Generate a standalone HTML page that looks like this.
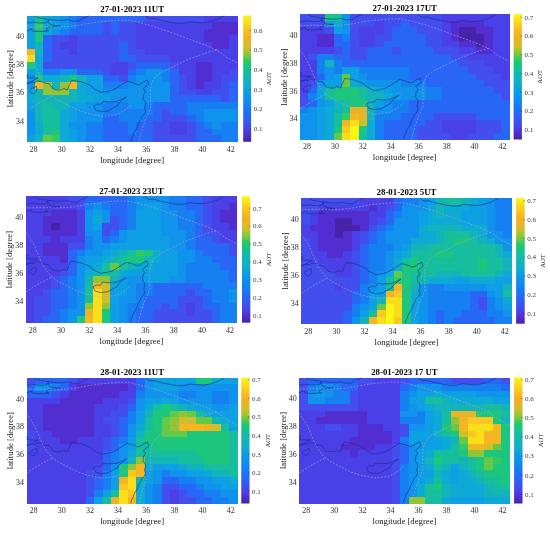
<!DOCTYPE html><html><head><meta charset="utf-8"><style>html,body{margin:0;padding:0;background:#fff;}svg{display:block}text{font-family:'Liberation Serif','Times New Roman',serif}</style></head><body>
<svg width="550" height="533" viewBox="0 0 550 533">
<rect width="550" height="533" fill="#fff"/>
<g shape-rendering="crispEdges">
<rect x="26.5" y="15.5" width="8.75" height="6.95" fill="#0da0e4"/>
<rect x="34.95" y="15.5" width="8.75" height="6.95" fill="#16be9e"/>
<rect x="43.4" y="15.5" width="8.75" height="6.95" fill="#0eaad6"/>
<rect x="51.86" y="15.5" width="8.75" height="6.95" fill="#0da0e4"/>
<rect x="60.31" y="15.5" width="8.75" height="6.95" fill="#0f93ec"/>
<rect x="68.76" y="15.5" width="8.75" height="6.95" fill="#1680f3"/>
<rect x="77.21" y="15.5" width="67.92" height="6.95" fill="#2866f6"/>
<rect x="144.83" y="15.5" width="59.46" height="6.95" fill="#424eee"/>
<rect x="203.99" y="15.5" width="34.11" height="6.95" fill="#4a40e8"/>
<rect x="26.5" y="22.15" width="8.75" height="6.95" fill="#0da0e4"/>
<rect x="34.95" y="22.15" width="8.75" height="6.95" fill="#32ca64"/>
<rect x="43.4" y="22.15" width="8.75" height="6.95" fill="#0eaad6"/>
<rect x="51.86" y="22.15" width="8.75" height="6.95" fill="#0da0e4"/>
<rect x="60.31" y="22.15" width="8.75" height="6.95" fill="#0f93ec"/>
<rect x="68.76" y="22.15" width="8.75" height="6.95" fill="#1680f3"/>
<rect x="77.21" y="22.15" width="25.66" height="6.95" fill="#2866f6"/>
<rect x="102.57" y="22.15" width="8.75" height="6.95" fill="#424eee"/>
<rect x="111.02" y="22.15" width="8.75" height="6.95" fill="#2866f6"/>
<rect x="119.47" y="22.15" width="17.2" height="6.95" fill="#424eee"/>
<rect x="136.38" y="22.15" width="76.37" height="6.95" fill="#4a40e8"/>
<rect x="212.44" y="22.15" width="25.66" height="6.95" fill="#522dd0"/>
<rect x="26.5" y="28.79" width="8.75" height="6.95" fill="#0da0e4"/>
<rect x="34.95" y="28.79" width="8.75" height="6.95" fill="#1cc67d"/>
<rect x="43.4" y="28.79" width="8.75" height="6.95" fill="#0eaad6"/>
<rect x="51.86" y="28.79" width="8.75" height="6.95" fill="#0f93ec"/>
<rect x="60.31" y="28.79" width="8.75" height="6.95" fill="#1680f3"/>
<rect x="68.76" y="28.79" width="34.11" height="6.95" fill="#2866f6"/>
<rect x="102.57" y="28.79" width="8.75" height="6.95" fill="#424eee"/>
<rect x="111.02" y="28.79" width="8.75" height="6.95" fill="#2866f6"/>
<rect x="119.47" y="28.79" width="17.2" height="6.95" fill="#424eee"/>
<rect x="136.38" y="28.79" width="67.92" height="6.95" fill="#4a40e8"/>
<rect x="203.99" y="28.79" width="34.11" height="6.95" fill="#522dd0"/>
<rect x="26.5" y="35.44" width="8.75" height="6.95" fill="#0da0e4"/>
<rect x="34.95" y="35.44" width="8.75" height="6.95" fill="#1cc67d"/>
<rect x="43.4" y="35.44" width="8.75" height="6.95" fill="#2866f6"/>
<rect x="51.86" y="35.44" width="17.2" height="6.95" fill="#424eee"/>
<rect x="68.76" y="35.44" width="8.75" height="6.95" fill="#4a40e8"/>
<rect x="77.21" y="35.44" width="59.46" height="6.95" fill="#424eee"/>
<rect x="136.38" y="35.44" width="67.92" height="6.95" fill="#4a40e8"/>
<rect x="203.99" y="35.44" width="25.66" height="6.95" fill="#522dd0"/>
<rect x="229.35" y="35.44" width="8.75" height="6.95" fill="#4a40e8"/>
<rect x="26.5" y="42.09" width="8.75" height="6.95" fill="#0da0e4"/>
<rect x="34.95" y="42.09" width="8.75" height="6.95" fill="#12b4b9"/>
<rect x="43.4" y="42.09" width="8.75" height="6.95" fill="#2866f6"/>
<rect x="51.86" y="42.09" width="8.75" height="6.95" fill="#424eee"/>
<rect x="60.31" y="42.09" width="17.2" height="6.95" fill="#4a40e8"/>
<rect x="77.21" y="42.09" width="42.56" height="6.95" fill="#424eee"/>
<rect x="119.47" y="42.09" width="8.75" height="6.95" fill="#2866f6"/>
<rect x="127.92" y="42.09" width="8.75" height="6.95" fill="#424eee"/>
<rect x="136.38" y="42.09" width="76.37" height="6.95" fill="#4a40e8"/>
<rect x="212.44" y="42.09" width="17.2" height="6.95" fill="#522dd0"/>
<rect x="229.35" y="42.09" width="8.75" height="6.95" fill="#4a40e8"/>
<rect x="26.5" y="48.74" width="8.75" height="6.95" fill="#f6b622"/>
<rect x="34.95" y="48.74" width="8.75" height="6.95" fill="#12b4b9"/>
<rect x="43.4" y="48.74" width="8.75" height="6.95" fill="#2866f6"/>
<rect x="51.86" y="48.74" width="17.2" height="6.95" fill="#424eee"/>
<rect x="68.76" y="48.74" width="8.75" height="6.95" fill="#4a40e8"/>
<rect x="77.21" y="48.74" width="42.56" height="6.95" fill="#424eee"/>
<rect x="119.47" y="48.74" width="8.75" height="6.95" fill="#2866f6"/>
<rect x="127.92" y="48.74" width="17.2" height="6.95" fill="#424eee"/>
<rect x="144.83" y="48.74" width="93.27" height="6.95" fill="#4a40e8"/>
<rect x="26.5" y="55.38" width="8.75" height="6.95" fill="#fade19"/>
<rect x="34.95" y="55.38" width="8.75" height="6.95" fill="#0eaad6"/>
<rect x="43.4" y="55.38" width="8.75" height="6.95" fill="#2866f6"/>
<rect x="51.86" y="55.38" width="67.92" height="6.95" fill="#424eee"/>
<rect x="119.47" y="55.38" width="17.2" height="6.95" fill="#2866f6"/>
<rect x="136.38" y="55.38" width="34.11" height="6.95" fill="#424eee"/>
<rect x="170.18" y="55.38" width="67.92" height="6.95" fill="#4a40e8"/>
<rect x="26.5" y="62.03" width="8.75" height="6.95" fill="#1cc67d"/>
<rect x="34.95" y="62.03" width="8.75" height="6.95" fill="#0eaad6"/>
<rect x="43.4" y="62.03" width="67.92" height="6.95" fill="#424eee"/>
<rect x="111.02" y="62.03" width="17.2" height="6.95" fill="#4a40e8"/>
<rect x="127.92" y="62.03" width="8.75" height="6.95" fill="#424eee"/>
<rect x="136.38" y="62.03" width="34.11" height="6.95" fill="#2866f6"/>
<rect x="170.18" y="62.03" width="8.75" height="6.95" fill="#424eee"/>
<rect x="178.64" y="62.03" width="17.2" height="6.95" fill="#4a40e8"/>
<rect x="195.54" y="62.03" width="17.2" height="6.95" fill="#522dd0"/>
<rect x="212.44" y="62.03" width="25.66" height="6.95" fill="#4a40e8"/>
<rect x="26.5" y="68.68" width="8.75" height="6.95" fill="#0da0e4"/>
<rect x="34.95" y="68.68" width="8.75" height="6.95" fill="#0eaad6"/>
<rect x="43.4" y="68.68" width="17.2" height="6.95" fill="#1680f3"/>
<rect x="60.31" y="68.68" width="17.2" height="6.95" fill="#0f93ec"/>
<rect x="77.21" y="68.68" width="25.66" height="6.95" fill="#2866f6"/>
<rect x="102.57" y="68.68" width="8.75" height="6.95" fill="#424eee"/>
<rect x="111.02" y="68.68" width="17.2" height="6.95" fill="#4a40e8"/>
<rect x="127.92" y="68.68" width="8.75" height="6.95" fill="#2866f6"/>
<rect x="136.38" y="68.68" width="8.75" height="6.95" fill="#1680f3"/>
<rect x="144.83" y="68.68" width="17.2" height="6.95" fill="#0f93ec"/>
<rect x="161.73" y="68.68" width="8.75" height="6.95" fill="#1680f3"/>
<rect x="170.18" y="68.68" width="8.75" height="6.95" fill="#2866f6"/>
<rect x="178.64" y="68.68" width="17.2" height="6.95" fill="#4a40e8"/>
<rect x="195.54" y="68.68" width="17.2" height="6.95" fill="#522dd0"/>
<rect x="212.44" y="68.68" width="17.2" height="6.95" fill="#4a40e8"/>
<rect x="229.35" y="68.68" width="8.75" height="6.95" fill="#424eee"/>
<rect x="26.5" y="75.33" width="8.75" height="6.95" fill="#0f93ec"/>
<rect x="34.95" y="75.33" width="8.75" height="6.95" fill="#1cc67d"/>
<rect x="43.4" y="75.33" width="17.2" height="6.95" fill="#0eaad6"/>
<rect x="60.31" y="75.33" width="8.75" height="6.95" fill="#12b4b9"/>
<rect x="68.76" y="75.33" width="8.75" height="6.95" fill="#1cc67d"/>
<rect x="77.21" y="75.33" width="8.75" height="6.95" fill="#12b4b9"/>
<rect x="85.66" y="75.33" width="17.2" height="6.95" fill="#0da0e4"/>
<rect x="102.57" y="75.33" width="17.2" height="6.95" fill="#2866f6"/>
<rect x="119.47" y="75.33" width="8.75" height="6.95" fill="#424eee"/>
<rect x="127.92" y="75.33" width="8.75" height="6.95" fill="#1680f3"/>
<rect x="136.38" y="75.33" width="25.66" height="6.95" fill="#0f93ec"/>
<rect x="161.73" y="75.33" width="8.75" height="6.95" fill="#1680f3"/>
<rect x="170.18" y="75.33" width="8.75" height="6.95" fill="#2866f6"/>
<rect x="178.64" y="75.33" width="8.75" height="6.95" fill="#424eee"/>
<rect x="187.09" y="75.33" width="8.75" height="6.95" fill="#4a40e8"/>
<rect x="195.54" y="75.33" width="17.2" height="6.95" fill="#522dd0"/>
<rect x="212.44" y="75.33" width="8.75" height="6.95" fill="#4a40e8"/>
<rect x="220.9" y="75.33" width="17.2" height="6.95" fill="#424eee"/>
<rect x="26.5" y="81.97" width="8.75" height="6.95" fill="#0f93ec"/>
<rect x="34.95" y="81.97" width="8.75" height="6.95" fill="#f6b622"/>
<rect x="43.4" y="81.97" width="8.75" height="6.95" fill="#92c536"/>
<rect x="51.86" y="81.97" width="8.75" height="6.95" fill="#12b4b9"/>
<rect x="60.31" y="81.97" width="8.75" height="6.95" fill="#92c536"/>
<rect x="68.76" y="81.97" width="8.75" height="6.95" fill="#f6b622"/>
<rect x="77.21" y="81.97" width="8.75" height="6.95" fill="#0eaad6"/>
<rect x="85.66" y="81.97" width="17.2" height="6.95" fill="#0da0e4"/>
<rect x="102.57" y="81.97" width="25.66" height="6.95" fill="#1680f3"/>
<rect x="127.92" y="81.97" width="42.56" height="6.95" fill="#0f93ec"/>
<rect x="170.18" y="81.97" width="8.75" height="6.95" fill="#2866f6"/>
<rect x="178.64" y="81.97" width="8.75" height="6.95" fill="#424eee"/>
<rect x="187.09" y="81.97" width="8.75" height="6.95" fill="#4a40e8"/>
<rect x="195.54" y="81.97" width="8.75" height="6.95" fill="#522dd0"/>
<rect x="203.99" y="81.97" width="17.2" height="6.95" fill="#4a40e8"/>
<rect x="220.9" y="81.97" width="8.75" height="6.95" fill="#424eee"/>
<rect x="229.35" y="81.97" width="8.75" height="6.95" fill="#2866f6"/>
<rect x="26.5" y="88.62" width="8.75" height="6.95" fill="#0eaad6"/>
<rect x="34.95" y="88.62" width="8.75" height="6.95" fill="#12b4b9"/>
<rect x="43.4" y="88.62" width="25.66" height="6.95" fill="#92c536"/>
<rect x="68.76" y="88.62" width="8.75" height="6.95" fill="#12b4b9"/>
<rect x="77.21" y="88.62" width="8.75" height="6.95" fill="#0eaad6"/>
<rect x="85.66" y="88.62" width="17.2" height="6.95" fill="#0da0e4"/>
<rect x="102.57" y="88.62" width="67.92" height="6.95" fill="#0f93ec"/>
<rect x="170.18" y="88.62" width="8.75" height="6.95" fill="#2866f6"/>
<rect x="178.64" y="88.62" width="17.2" height="6.95" fill="#424eee"/>
<rect x="195.54" y="88.62" width="17.2" height="6.95" fill="#4a40e8"/>
<rect x="212.44" y="88.62" width="17.2" height="6.95" fill="#424eee"/>
<rect x="229.35" y="88.62" width="8.75" height="6.95" fill="#2866f6"/>
<rect x="26.5" y="95.27" width="8.75" height="6.95" fill="#0eaad6"/>
<rect x="34.95" y="95.27" width="42.56" height="6.95" fill="#12b4b9"/>
<rect x="77.21" y="95.27" width="17.2" height="6.95" fill="#0eaad6"/>
<rect x="94.12" y="95.27" width="17.2" height="6.95" fill="#0da0e4"/>
<rect x="111.02" y="95.27" width="59.46" height="6.95" fill="#0f93ec"/>
<rect x="170.18" y="95.27" width="51.01" height="6.95" fill="#2866f6"/>
<rect x="220.9" y="95.27" width="8.75" height="6.95" fill="#424eee"/>
<rect x="229.35" y="95.27" width="8.75" height="6.95" fill="#2866f6"/>
<rect x="26.5" y="101.92" width="8.75" height="6.95" fill="#0da0e4"/>
<rect x="34.95" y="101.92" width="8.75" height="6.95" fill="#12b4b9"/>
<rect x="43.4" y="101.92" width="8.75" height="6.95" fill="#16be9e"/>
<rect x="51.86" y="101.92" width="17.2" height="6.95" fill="#12b4b9"/>
<rect x="68.76" y="101.92" width="17.2" height="6.95" fill="#0da0e4"/>
<rect x="85.66" y="101.92" width="17.2" height="6.95" fill="#0f93ec"/>
<rect x="102.57" y="101.92" width="25.66" height="6.95" fill="#1680f3"/>
<rect x="127.92" y="101.92" width="17.2" height="6.95" fill="#0f93ec"/>
<rect x="144.83" y="101.92" width="8.75" height="6.95" fill="#1680f3"/>
<rect x="153.28" y="101.92" width="34.11" height="6.95" fill="#2866f6"/>
<rect x="187.09" y="101.92" width="51.01" height="6.95" fill="#1680f3"/>
<rect x="26.5" y="108.56" width="8.75" height="6.95" fill="#0f93ec"/>
<rect x="34.95" y="108.56" width="8.75" height="6.95" fill="#12b4b9"/>
<rect x="43.4" y="108.56" width="17.2" height="6.95" fill="#16be9e"/>
<rect x="60.31" y="108.56" width="8.75" height="6.95" fill="#0eaad6"/>
<rect x="68.76" y="108.56" width="8.75" height="6.95" fill="#0da0e4"/>
<rect x="77.21" y="108.56" width="25.66" height="6.95" fill="#0f93ec"/>
<rect x="102.57" y="108.56" width="51.01" height="6.95" fill="#1680f3"/>
<rect x="153.28" y="108.56" width="8.75" height="6.95" fill="#2866f6"/>
<rect x="161.73" y="108.56" width="8.75" height="6.95" fill="#424eee"/>
<rect x="170.18" y="108.56" width="17.2" height="6.95" fill="#2866f6"/>
<rect x="187.09" y="108.56" width="17.2" height="6.95" fill="#1680f3"/>
<rect x="203.99" y="108.56" width="34.11" height="6.95" fill="#0f93ec"/>
<rect x="26.5" y="115.21" width="8.75" height="6.95" fill="#0f93ec"/>
<rect x="34.95" y="115.21" width="8.75" height="6.95" fill="#12b4b9"/>
<rect x="43.4" y="115.21" width="17.2" height="6.95" fill="#16be9e"/>
<rect x="60.31" y="115.21" width="8.75" height="6.95" fill="#0eaad6"/>
<rect x="68.76" y="115.21" width="8.75" height="6.95" fill="#0da0e4"/>
<rect x="77.21" y="115.21" width="25.66" height="6.95" fill="#0f93ec"/>
<rect x="102.57" y="115.21" width="17.2" height="6.95" fill="#2866f6"/>
<rect x="119.47" y="115.21" width="25.66" height="6.95" fill="#1680f3"/>
<rect x="144.83" y="115.21" width="17.2" height="6.95" fill="#2866f6"/>
<rect x="161.73" y="115.21" width="25.66" height="6.95" fill="#424eee"/>
<rect x="187.09" y="115.21" width="8.75" height="6.95" fill="#2866f6"/>
<rect x="195.54" y="115.21" width="8.75" height="6.95" fill="#1680f3"/>
<rect x="203.99" y="115.21" width="34.11" height="6.95" fill="#0f93ec"/>
<rect x="26.5" y="121.86" width="8.75" height="6.95" fill="#0f93ec"/>
<rect x="34.95" y="121.86" width="8.75" height="6.95" fill="#0eaad6"/>
<rect x="43.4" y="121.86" width="17.2" height="6.95" fill="#16be9e"/>
<rect x="60.31" y="121.86" width="8.75" height="6.95" fill="#0eaad6"/>
<rect x="68.76" y="121.86" width="17.2" height="6.95" fill="#0f93ec"/>
<rect x="85.66" y="121.86" width="17.2" height="6.95" fill="#1680f3"/>
<rect x="102.57" y="121.86" width="25.66" height="6.95" fill="#2866f6"/>
<rect x="127.92" y="121.86" width="8.75" height="6.95" fill="#1680f3"/>
<rect x="136.38" y="121.86" width="17.2" height="6.95" fill="#2866f6"/>
<rect x="153.28" y="121.86" width="17.2" height="6.95" fill="#424eee"/>
<rect x="170.18" y="121.86" width="17.2" height="6.95" fill="#4a40e8"/>
<rect x="187.09" y="121.86" width="8.75" height="6.95" fill="#424eee"/>
<rect x="195.54" y="121.86" width="8.75" height="6.95" fill="#2866f6"/>
<rect x="203.99" y="121.86" width="8.75" height="6.95" fill="#1680f3"/>
<rect x="212.44" y="121.86" width="8.75" height="6.95" fill="#0f93ec"/>
<rect x="220.9" y="121.86" width="17.2" height="6.95" fill="#1680f3"/>
<rect x="26.5" y="128.51" width="8.75" height="6.95" fill="#0f93ec"/>
<rect x="34.95" y="128.51" width="8.75" height="6.95" fill="#0eaad6"/>
<rect x="43.4" y="128.51" width="8.75" height="6.95" fill="#16be9e"/>
<rect x="51.86" y="128.51" width="8.75" height="6.95" fill="#1cc67d"/>
<rect x="60.31" y="128.51" width="8.75" height="6.95" fill="#0eaad6"/>
<rect x="68.76" y="128.51" width="8.75" height="6.95" fill="#0da0e4"/>
<rect x="77.21" y="128.51" width="8.75" height="6.95" fill="#0f93ec"/>
<rect x="85.66" y="128.51" width="17.2" height="6.95" fill="#1680f3"/>
<rect x="102.57" y="128.51" width="25.66" height="6.95" fill="#2866f6"/>
<rect x="127.92" y="128.51" width="8.75" height="6.95" fill="#1680f3"/>
<rect x="136.38" y="128.51" width="17.2" height="6.95" fill="#2866f6"/>
<rect x="153.28" y="128.51" width="17.2" height="6.95" fill="#424eee"/>
<rect x="170.18" y="128.51" width="17.2" height="6.95" fill="#4a40e8"/>
<rect x="187.09" y="128.51" width="8.75" height="6.95" fill="#424eee"/>
<rect x="195.54" y="128.51" width="17.2" height="6.95" fill="#2866f6"/>
<rect x="212.44" y="128.51" width="25.66" height="6.95" fill="#1680f3"/>
<rect x="26.5" y="135.15" width="8.75" height="6.95" fill="#0da0e4"/>
<rect x="34.95" y="135.15" width="8.75" height="6.95" fill="#12b4b9"/>
<rect x="43.4" y="135.15" width="8.75" height="6.95" fill="#64ca46"/>
<rect x="51.86" y="135.15" width="8.75" height="6.95" fill="#32ca64"/>
<rect x="60.31" y="135.15" width="8.75" height="6.95" fill="#0eaad6"/>
<rect x="68.76" y="135.15" width="8.75" height="6.95" fill="#0da0e4"/>
<rect x="77.21" y="135.15" width="8.75" height="6.95" fill="#0f93ec"/>
<rect x="85.66" y="135.15" width="17.2" height="6.95" fill="#1680f3"/>
<rect x="102.57" y="135.15" width="51.01" height="6.95" fill="#2866f6"/>
<rect x="153.28" y="135.15" width="42.56" height="6.95" fill="#424eee"/>
<rect x="195.54" y="135.15" width="25.66" height="6.95" fill="#2866f6"/>
<rect x="220.9" y="135.15" width="17.2" height="6.95" fill="#1680f3"/>
</g>
<defs><clipPath id="c0"><rect x="26.5" y="15.5" width="211.3" height="126.3"/></clipPath></defs>
<g clip-path="url(#c0)" fill="none">
<polyline points="145.5,15.5 147.6,17.6 150.9,18.6 154.7,18.3 158.9,19.7 164.5,21.1 168.8,21.8 173.0,22.7 178.6,23.5 184.3,23.2 189.9,21.8 198.4,22.5 204.0,22.8 209.6,21.8 216.7,19.7 220.9,17.6 224.4,15.5" stroke="#1c2a80" stroke-width="0.8" stroke-opacity="0.75"/>
<polyline points="34.2,15.5 37.8,17.6 43.4,18.6 48.3,19.4 51.9,19.7 56.1,20.4 63.1,20.4 67.4,19.7 73.0,21.1 78.6,21.1 82.8,18.3 87.1,16.6 89.2,15.5" stroke="#1c2a80" stroke-width="0.8" stroke-opacity="0.75"/>
<polyline points="26.5,22.9 30.7,22.8 33.5,22.2 37.8,22.8 42.0,22.9 46.2,22.7 47.6,21.8 48.3,19.4" stroke="#1c2a80" stroke-width="0.8" stroke-opacity="0.75"/>
<polyline points="49.0,19.7 48.3,22.5 50.4,24.2 53.3,25.3 60.3,25.9 54.7,26.7 47.6,27.4 46.2,30.2 49.0,30.9 42.0,31.4 33.5,31.2 31.4,30.2 32.1,28.8 29.3,29.5 26.5,30.9" stroke="#1c2a80" stroke-width="0.8" stroke-opacity="0.75"/>
<polyline points="26.5,75.1 28.2,74.4 26.5,77.0 29.3,77.9 33.5,77.9 37.8,78.2 35.0,79.4 32.1,81.5 27.9,82.9 26.5,83.1" stroke="#1c2a80" stroke-width="0.8" stroke-opacity="0.75"/>
<polyline points="26.5,83.6 32.1,82.2 35.0,82.6 37.3,80.8 40.6,81.5 44.8,83.1 49.0,83.6 53.3,89.0 56.8,89.9 61.4,89.9 63.8,88.5 67.4,89.9 69.7,84.3 71.6,80.3 75.8,80.8 81.4,81.9 89.9,85.1 94.1,88.9 101.2,92.4 108.2,91.3 112.4,90.2 116.4,88.2 122.3,84.3 126.9,81.5 130.7,82.2 135.0,83.6 137.5,84.8 140.6,84.3 143.4,81.9 147.6,80.1 148.6,84.3 144.8,87.1 143.4,88.5 145.5,91.6 143.4,94.8 143.1,99.4 145.1,101.7 145.5,104.2 144.5,108.1 145.5,111.6 144.0,114.6 141.3,117.2 141.2,119.1 139.2,122.2 137.4,126.9 135.0,131.0 133.6,133.4 133.1,135.9 132.0,137.3 131.0,140.4 130.7,141.8" stroke="#1c2a80" stroke-width="0.8" stroke-opacity="0.75"/>
<polyline points="93.7,106.0 95.8,110.2 101.2,111.6 104.5,111.3 108.2,110.9 112.9,108.1 117.4,106.0 118.1,103.9 123.0,99.7 126.4,97.0 120.9,99.7 116.7,101.4 111.0,101.8 108.5,101.9 103.3,101.2 101.2,104.3 96.9,104.2 93.7,106.0" stroke="#1c2a80" stroke-width="0.8" stroke-opacity="0.75"/>
<polyline points="31.4,88.5 36.4,86.4 37.1,89.9 33.5,94.1 29.3,91.3 31.4,88.5" stroke="#1c2a80" stroke-width="0.8" stroke-opacity="0.75"/>
<polyline points="26.5,27.0 40.6,26.7 54.7,27.0 67.4,26.7 77.2,25.6 87.1,23.6 98.3,22.0 109.6,20.8 119.5,20.1 127.9,20.1 136.4,21.8 151.9,25.9 171.6,32.6 189.9,39.4 205.4,45.0 212.4,48.2 216.7,49.9 226.0,57.0 237.8,63.2" stroke="#b4a8c4" stroke-width="0.85" stroke-dasharray="1.8 1.6" stroke-opacity="0.75"/>
<polyline points="216.7,49.9 206.8,52.7 199.8,55.1 185.7,60.4 170.2,68.1 160.3,73.0 154.7,77.2 151.9,82.9 150.5,88.5 150.5,99.7 150.5,108.8 146.2,117.9 142.7,127.8 139.9,137.6 139.2,141.8" stroke="#b4a8c4" stroke-width="0.85" stroke-dasharray="1.8 1.6" stroke-opacity="0.75"/>
<polyline points="26.5,51.3 30.7,57.6 35.0,64.6 38.5,73.0 42.0,81.5 46.2,88.5 51.9,95.5 58.9,100.4 65.9,104.1 78.1,110.1 87.5,113.3 102.0,116.3 116.7,114.7 125.5,109.7 130.7,105.3" stroke="#b4a8c4" stroke-width="0.85" stroke-dasharray="1.8 1.6" stroke-opacity="0.75"/>
<polyline points="26.5,110.9 37.8,103.9 51.9,96.2" stroke="#b4a8c4" stroke-width="0.85" stroke-dasharray="1.8 1.6" stroke-opacity="0.75"/>
</g>
<defs><linearGradient id="g0" x1="0" y1="1" x2="0" y2="0">
<stop offset="0" stop-color="#4623aa"/>
<stop offset="0.02" stop-color="#4a26b6"/>
<stop offset="0.03" stop-color="#4e29c2"/>
<stop offset="0.05" stop-color="#512cce"/>
<stop offset="0.06" stop-color="#5032d6"/>
<stop offset="0.08" stop-color="#4e38de"/>
<stop offset="0.09" stop-color="#4b3ee5"/>
<stop offset="0.11" stop-color="#4744ea"/>
<stop offset="0.12" stop-color="#424aed"/>
<stop offset="0.14" stop-color="#3d51f0"/>
<stop offset="0.16" stop-color="#3857f2"/>
<stop offset="0.17" stop-color="#325cf4"/>
<stop offset="0.19" stop-color="#2d62f5"/>
<stop offset="0.2" stop-color="#2767f6"/>
<stop offset="0.22" stop-color="#226cf7"/>
<stop offset="0.23" stop-color="#1d71f8"/>
<stop offset="0.25" stop-color="#1a77f6"/>
<stop offset="0.27" stop-color="#167cf4"/>
<stop offset="0.28" stop-color="#1381f2"/>
<stop offset="0.3" stop-color="#1086f0"/>
<stop offset="0.31" stop-color="#0e8aee"/>
<stop offset="0.33" stop-color="#0d8eec"/>
<stop offset="0.34" stop-color="#0c92eb"/>
<stop offset="0.36" stop-color="#0b96e9"/>
<stop offset="0.38" stop-color="#0a9ae7"/>
<stop offset="0.39" stop-color="#0b9ee1"/>
<stop offset="0.41" stop-color="#0ca2db"/>
<stop offset="0.42" stop-color="#0da7d4"/>
<stop offset="0.44" stop-color="#0eabcd"/>
<stop offset="0.45" stop-color="#0fafc7"/>
<stop offset="0.47" stop-color="#10b1c2"/>
<stop offset="0.48" stop-color="#11b3bd"/>
<stop offset="0.5" stop-color="#12b5b8"/>
<stop offset="0.52" stop-color="#13b7b3"/>
<stop offset="0.53" stop-color="#14b9ae"/>
<stop offset="0.55" stop-color="#14bca3"/>
<stop offset="0.56" stop-color="#14c098"/>
<stop offset="0.58" stop-color="#14c38d"/>
<stop offset="0.59" stop-color="#17c484"/>
<stop offset="0.61" stop-color="#1ac67a"/>
<stop offset="0.62" stop-color="#1dc871"/>
<stop offset="0.64" stop-color="#31c863"/>
<stop offset="0.66" stop-color="#4dc854"/>
<stop offset="0.67" stop-color="#69c844"/>
<stop offset="0.69" stop-color="#82c73a"/>
<stop offset="0.7" stop-color="#96c535"/>
<stop offset="0.72" stop-color="#aac231"/>
<stop offset="0.73" stop-color="#bec02c"/>
<stop offset="0.75" stop-color="#d2be28"/>
<stop offset="0.77" stop-color="#d9bb27"/>
<stop offset="0.78" stop-color="#e0b826"/>
<stop offset="0.8" stop-color="#e7b525"/>
<stop offset="0.81" stop-color="#edb224"/>
<stop offset="0.83" stop-color="#f4af23"/>
<stop offset="0.84" stop-color="#f6b422"/>
<stop offset="0.86" stop-color="#f7b921"/>
<stop offset="0.88" stop-color="#f8bf20"/>
<stop offset="0.89" stop-color="#f9c51f"/>
<stop offset="0.91" stop-color="#facb1d"/>
<stop offset="0.92" stop-color="#fad21c"/>
<stop offset="0.94" stop-color="#fad91a"/>
<stop offset="0.95" stop-color="#fae019"/>
<stop offset="0.97" stop-color="#fae717"/>
<stop offset="0.98" stop-color="#faee16"/>
<stop offset="1" stop-color="#faf514"/>
</linearGradient></defs>
<rect x="243.2" y="15.5" width="7.9" height="126.3" fill="url(#g0)"/>
<line x1="249.8" x2="251.1" y1="128.8" y2="128.8" stroke="#262626" stroke-width="0.5"/>
<text x="253.7" y="129.1" font-size="7" fill="#3a3a3a" dominant-baseline="central">0.1</text>
<line x1="249.8" x2="251.1" y1="109.09" y2="109.09" stroke="#262626" stroke-width="0.5"/>
<text x="253.7" y="109.39" font-size="7" fill="#3a3a3a" dominant-baseline="central">0.2</text>
<line x1="249.8" x2="251.1" y1="89.39" y2="89.39" stroke="#262626" stroke-width="0.5"/>
<text x="253.7" y="89.69" font-size="7" fill="#3a3a3a" dominant-baseline="central">0.3</text>
<line x1="249.8" x2="251.1" y1="69.68" y2="69.68" stroke="#262626" stroke-width="0.5"/>
<text x="253.7" y="69.98" font-size="7" fill="#3a3a3a" dominant-baseline="central">0.4</text>
<line x1="249.8" x2="251.1" y1="49.98" y2="49.98" stroke="#262626" stroke-width="0.5"/>
<text x="253.7" y="50.28" font-size="7" fill="#3a3a3a" dominant-baseline="central">0.5</text>
<line x1="249.8" x2="251.1" y1="30.28" y2="30.28" stroke="#262626" stroke-width="0.5"/>
<text x="253.7" y="30.58" font-size="7" fill="#3a3a3a" dominant-baseline="central">0.6</text>
<text transform="translate(271.3 78.65) rotate(-90)" font-size="6.6" fill="#262626" text-anchor="middle">AOT</text>
<text x="132.15" y="12.4" font-size="8.8" font-weight="bold" text-anchor="middle" fill="#000">27-01-2023 11UT</text>
<text x="33.54" y="151.6" font-size="8" fill="#303030" text-anchor="middle">28</text>
<text x="61.72" y="151.6" font-size="8" fill="#303030" text-anchor="middle">30</text>
<text x="89.89" y="151.6" font-size="8" fill="#303030" text-anchor="middle">32</text>
<text x="118.06" y="151.6" font-size="8" fill="#303030" text-anchor="middle">34</text>
<text x="146.24" y="151.6" font-size="8" fill="#303030" text-anchor="middle">36</text>
<text x="174.41" y="151.6" font-size="8" fill="#303030" text-anchor="middle">38</text>
<text x="202.58" y="151.6" font-size="8" fill="#303030" text-anchor="middle">40</text>
<text x="230.76" y="151.6" font-size="8" fill="#303030" text-anchor="middle">42</text>
<text x="132.15" y="162.7" font-size="8.7" fill="#202020" text-anchor="middle">longitude [degree]</text>
<text x="24" y="121.05" font-size="8" fill="#303030" text-anchor="end" dominant-baseline="central">34</text>
<text x="24" y="92.98" font-size="8" fill="#303030" text-anchor="end" dominant-baseline="central">36</text>
<text x="24" y="64.92" font-size="8" fill="#303030" text-anchor="end" dominant-baseline="central">38</text>
<text x="24" y="36.85" font-size="8" fill="#303030" text-anchor="end" dominant-baseline="central">40</text>
<text transform="translate(13 78.65) rotate(-90)" font-size="8.7" fill="#202020" text-anchor="middle">latitude [degree]</text>
<g shape-rendering="crispEdges">
<rect x="300" y="14.2" width="25.44" height="6.89" fill="#424eee"/>
<rect x="325.14" y="14.2" width="8.68" height="6.89" fill="#1cc67d"/>
<rect x="333.52" y="14.2" width="8.68" height="6.89" fill="#16be9e"/>
<rect x="341.9" y="14.2" width="8.68" height="6.89" fill="#0f93ec"/>
<rect x="350.28" y="14.2" width="92.48" height="6.89" fill="#424eee"/>
<rect x="442.46" y="14.2" width="67.34" height="6.89" fill="#4a40e8"/>
<rect x="300" y="20.79" width="25.44" height="6.89" fill="#424eee"/>
<rect x="325.14" y="20.79" width="8.68" height="6.89" fill="#0da0e4"/>
<rect x="333.52" y="20.79" width="8.68" height="6.89" fill="#0eaad6"/>
<rect x="341.9" y="20.79" width="8.68" height="6.89" fill="#0f93ec"/>
<rect x="350.28" y="20.79" width="25.44" height="6.89" fill="#424eee"/>
<rect x="375.42" y="20.79" width="8.68" height="6.89" fill="#4a40e8"/>
<rect x="383.8" y="20.79" width="17.06" height="6.89" fill="#424eee"/>
<rect x="400.56" y="20.79" width="8.68" height="6.89" fill="#2866f6"/>
<rect x="408.94" y="20.79" width="33.82" height="6.89" fill="#424eee"/>
<rect x="442.46" y="20.79" width="8.68" height="6.89" fill="#4a40e8"/>
<rect x="450.84" y="20.79" width="33.82" height="6.89" fill="#522dd0"/>
<rect x="484.36" y="20.79" width="25.44" height="6.89" fill="#4a40e8"/>
<rect x="300" y="27.39" width="25.44" height="6.89" fill="#4a40e8"/>
<rect x="325.14" y="27.39" width="8.68" height="6.89" fill="#424eee"/>
<rect x="333.52" y="27.39" width="8.68" height="6.89" fill="#0da0e4"/>
<rect x="341.9" y="27.39" width="8.68" height="6.89" fill="#0f93ec"/>
<rect x="350.28" y="27.39" width="8.68" height="6.89" fill="#424eee"/>
<rect x="358.66" y="27.39" width="25.44" height="6.89" fill="#4a40e8"/>
<rect x="383.8" y="27.39" width="8.68" height="6.89" fill="#424eee"/>
<rect x="392.18" y="27.39" width="25.44" height="6.89" fill="#2866f6"/>
<rect x="417.32" y="27.39" width="25.44" height="6.89" fill="#424eee"/>
<rect x="442.46" y="27.39" width="8.68" height="6.89" fill="#4a40e8"/>
<rect x="450.84" y="27.39" width="8.68" height="6.89" fill="#522dd0"/>
<rect x="459.22" y="27.39" width="17.06" height="6.89" fill="#4623aa"/>
<rect x="475.98" y="27.39" width="17.06" height="6.89" fill="#522dd0"/>
<rect x="492.74" y="27.39" width="17.06" height="6.89" fill="#4a40e8"/>
<rect x="300" y="33.98" width="17.06" height="6.89" fill="#4a40e8"/>
<rect x="316.76" y="33.98" width="17.06" height="6.89" fill="#522dd0"/>
<rect x="333.52" y="33.98" width="8.68" height="6.89" fill="#2866f6"/>
<rect x="341.9" y="33.98" width="8.68" height="6.89" fill="#1680f3"/>
<rect x="350.28" y="33.98" width="8.68" height="6.89" fill="#424eee"/>
<rect x="358.66" y="33.98" width="17.06" height="6.89" fill="#4a40e8"/>
<rect x="375.42" y="33.98" width="17.06" height="6.89" fill="#424eee"/>
<rect x="392.18" y="33.98" width="33.82" height="6.89" fill="#2866f6"/>
<rect x="425.7" y="33.98" width="17.06" height="6.89" fill="#424eee"/>
<rect x="442.46" y="33.98" width="8.68" height="6.89" fill="#4a40e8"/>
<rect x="450.84" y="33.98" width="8.68" height="6.89" fill="#522dd0"/>
<rect x="459.22" y="33.98" width="25.44" height="6.89" fill="#4623aa"/>
<rect x="484.36" y="33.98" width="8.68" height="6.89" fill="#522dd0"/>
<rect x="492.74" y="33.98" width="17.06" height="6.89" fill="#4a40e8"/>
<rect x="300" y="40.58" width="17.06" height="6.89" fill="#4a40e8"/>
<rect x="316.76" y="40.58" width="17.06" height="6.89" fill="#522dd0"/>
<rect x="333.52" y="40.58" width="17.06" height="6.89" fill="#2866f6"/>
<rect x="350.28" y="40.58" width="8.68" height="6.89" fill="#424eee"/>
<rect x="358.66" y="40.58" width="17.06" height="6.89" fill="#4a40e8"/>
<rect x="375.42" y="40.58" width="8.68" height="6.89" fill="#424eee"/>
<rect x="383.8" y="40.58" width="42.2" height="6.89" fill="#2866f6"/>
<rect x="425.7" y="40.58" width="17.06" height="6.89" fill="#424eee"/>
<rect x="442.46" y="40.58" width="17.06" height="6.89" fill="#4a40e8"/>
<rect x="459.22" y="40.58" width="17.06" height="6.89" fill="#522dd0"/>
<rect x="475.98" y="40.58" width="8.68" height="6.89" fill="#4623aa"/>
<rect x="484.36" y="40.58" width="8.68" height="6.89" fill="#522dd0"/>
<rect x="492.74" y="40.58" width="17.06" height="6.89" fill="#4a40e8"/>
<rect x="300" y="47.17" width="33.82" height="6.89" fill="#4a40e8"/>
<rect x="333.52" y="47.17" width="8.68" height="6.89" fill="#424eee"/>
<rect x="341.9" y="47.17" width="8.68" height="6.89" fill="#2866f6"/>
<rect x="350.28" y="47.17" width="17.06" height="6.89" fill="#424eee"/>
<rect x="367.04" y="47.17" width="25.44" height="6.89" fill="#2866f6"/>
<rect x="392.18" y="47.17" width="8.68" height="6.89" fill="#424eee"/>
<rect x="400.56" y="47.17" width="33.82" height="6.89" fill="#2866f6"/>
<rect x="434.08" y="47.17" width="25.44" height="6.89" fill="#424eee"/>
<rect x="459.22" y="47.17" width="17.06" height="6.89" fill="#4a40e8"/>
<rect x="475.98" y="47.17" width="17.06" height="6.89" fill="#522dd0"/>
<rect x="492.74" y="47.17" width="17.06" height="6.89" fill="#4a40e8"/>
<rect x="300" y="53.77" width="8.68" height="6.89" fill="#4a40e8"/>
<rect x="308.38" y="53.77" width="8.68" height="6.89" fill="#424eee"/>
<rect x="316.76" y="53.77" width="17.06" height="6.89" fill="#1680f3"/>
<rect x="333.52" y="53.77" width="17.06" height="6.89" fill="#2866f6"/>
<rect x="350.28" y="53.77" width="17.06" height="6.89" fill="#424eee"/>
<rect x="367.04" y="53.77" width="84.1" height="6.89" fill="#2866f6"/>
<rect x="450.84" y="53.77" width="17.06" height="6.89" fill="#424eee"/>
<rect x="467.6" y="53.77" width="42.2" height="6.89" fill="#4a40e8"/>
<rect x="300" y="60.36" width="17.06" height="6.89" fill="#4a40e8"/>
<rect x="316.76" y="60.36" width="8.68" height="6.89" fill="#1680f3"/>
<rect x="325.14" y="60.36" width="8.68" height="6.89" fill="#12b4b9"/>
<rect x="333.52" y="60.36" width="8.68" height="6.89" fill="#1680f3"/>
<rect x="341.9" y="60.36" width="117.62" height="6.89" fill="#2866f6"/>
<rect x="459.22" y="60.36" width="25.44" height="6.89" fill="#424eee"/>
<rect x="484.36" y="60.36" width="25.44" height="6.89" fill="#4a40e8"/>
<rect x="300" y="66.96" width="17.06" height="6.89" fill="#4a40e8"/>
<rect x="316.76" y="66.96" width="8.68" height="6.89" fill="#1680f3"/>
<rect x="325.14" y="66.96" width="8.68" height="6.89" fill="#0f93ec"/>
<rect x="333.52" y="66.96" width="8.68" height="6.89" fill="#1680f3"/>
<rect x="341.9" y="66.96" width="17.06" height="6.89" fill="#0da0e4"/>
<rect x="358.66" y="66.96" width="50.58" height="6.89" fill="#1680f3"/>
<rect x="408.94" y="66.96" width="58.96" height="6.89" fill="#2866f6"/>
<rect x="467.6" y="66.96" width="25.44" height="6.89" fill="#424eee"/>
<rect x="492.74" y="66.96" width="17.06" height="6.89" fill="#4a40e8"/>
<rect x="300" y="73.55" width="17.06" height="6.89" fill="#4a40e8"/>
<rect x="316.76" y="73.55" width="8.68" height="6.89" fill="#2866f6"/>
<rect x="325.14" y="73.55" width="8.68" height="6.89" fill="#0f93ec"/>
<rect x="333.52" y="73.55" width="8.68" height="6.89" fill="#0da0e4"/>
<rect x="341.9" y="73.55" width="8.68" height="6.89" fill="#64ca46"/>
<rect x="350.28" y="73.55" width="8.68" height="6.89" fill="#0da0e4"/>
<rect x="358.66" y="73.55" width="8.68" height="6.89" fill="#0f93ec"/>
<rect x="367.04" y="73.55" width="42.2" height="6.89" fill="#1680f3"/>
<rect x="408.94" y="73.55" width="67.34" height="6.89" fill="#2866f6"/>
<rect x="475.98" y="73.55" width="25.44" height="6.89" fill="#424eee"/>
<rect x="501.12" y="73.55" width="8.68" height="6.89" fill="#4a40e8"/>
<rect x="300" y="80.15" width="8.68" height="6.89" fill="#4a40e8"/>
<rect x="308.38" y="80.15" width="8.68" height="6.89" fill="#424eee"/>
<rect x="316.76" y="80.15" width="8.68" height="6.89" fill="#0f93ec"/>
<rect x="325.14" y="80.15" width="17.06" height="6.89" fill="#0da0e4"/>
<rect x="341.9" y="80.15" width="8.68" height="6.89" fill="#64ca46"/>
<rect x="350.28" y="80.15" width="8.68" height="6.89" fill="#0eaad6"/>
<rect x="358.66" y="80.15" width="8.68" height="6.89" fill="#0da0e4"/>
<rect x="367.04" y="80.15" width="33.82" height="6.89" fill="#0f93ec"/>
<rect x="400.56" y="80.15" width="25.44" height="6.89" fill="#1680f3"/>
<rect x="425.7" y="80.15" width="58.96" height="6.89" fill="#2866f6"/>
<rect x="484.36" y="80.15" width="25.44" height="6.89" fill="#424eee"/>
<rect x="300" y="86.74" width="8.68" height="6.89" fill="#4a40e8"/>
<rect x="308.38" y="86.74" width="8.68" height="6.89" fill="#2866f6"/>
<rect x="316.76" y="86.74" width="8.68" height="6.89" fill="#0da0e4"/>
<rect x="325.14" y="86.74" width="8.68" height="6.89" fill="#16be9e"/>
<rect x="333.52" y="86.74" width="25.44" height="6.89" fill="#1cc67d"/>
<rect x="358.66" y="86.74" width="8.68" height="6.89" fill="#16be9e"/>
<rect x="367.04" y="86.74" width="8.68" height="6.89" fill="#12b4b9"/>
<rect x="375.42" y="86.74" width="8.68" height="6.89" fill="#0eaad6"/>
<rect x="383.8" y="86.74" width="8.68" height="6.89" fill="#0da0e4"/>
<rect x="392.18" y="86.74" width="33.82" height="6.89" fill="#0f93ec"/>
<rect x="425.7" y="86.74" width="17.06" height="6.89" fill="#1680f3"/>
<rect x="442.46" y="86.74" width="50.58" height="6.89" fill="#2866f6"/>
<rect x="492.74" y="86.74" width="17.06" height="6.89" fill="#424eee"/>
<rect x="300" y="93.34" width="8.68" height="6.89" fill="#424eee"/>
<rect x="308.38" y="93.34" width="8.68" height="6.89" fill="#1680f3"/>
<rect x="316.76" y="93.34" width="8.68" height="6.89" fill="#0da0e4"/>
<rect x="325.14" y="93.34" width="8.68" height="6.89" fill="#16be9e"/>
<rect x="333.52" y="93.34" width="25.44" height="6.89" fill="#1cc67d"/>
<rect x="358.66" y="93.34" width="8.68" height="6.89" fill="#16be9e"/>
<rect x="367.04" y="93.34" width="17.06" height="6.89" fill="#12b4b9"/>
<rect x="383.8" y="93.34" width="8.68" height="6.89" fill="#0eaad6"/>
<rect x="392.18" y="93.34" width="8.68" height="6.89" fill="#0da0e4"/>
<rect x="400.56" y="93.34" width="25.44" height="6.89" fill="#0f93ec"/>
<rect x="425.7" y="93.34" width="17.06" height="6.89" fill="#1680f3"/>
<rect x="442.46" y="93.34" width="58.96" height="6.89" fill="#2866f6"/>
<rect x="501.12" y="93.34" width="8.68" height="6.89" fill="#424eee"/>
<rect x="300" y="99.93" width="8.68" height="6.89" fill="#424eee"/>
<rect x="308.38" y="99.93" width="8.68" height="6.89" fill="#2866f6"/>
<rect x="316.76" y="99.93" width="8.68" height="6.89" fill="#0f93ec"/>
<rect x="325.14" y="99.93" width="8.68" height="6.89" fill="#0da0e4"/>
<rect x="333.52" y="99.93" width="8.68" height="6.89" fill="#12b4b9"/>
<rect x="341.9" y="99.93" width="8.68" height="6.89" fill="#16be9e"/>
<rect x="350.28" y="99.93" width="17.06" height="6.89" fill="#1cc67d"/>
<rect x="367.04" y="99.93" width="8.68" height="6.89" fill="#12b4b9"/>
<rect x="375.42" y="99.93" width="8.68" height="6.89" fill="#0da0e4"/>
<rect x="383.8" y="99.93" width="8.68" height="6.89" fill="#0f93ec"/>
<rect x="392.18" y="99.93" width="17.06" height="6.89" fill="#1680f3"/>
<rect x="408.94" y="99.93" width="100.86" height="6.89" fill="#2866f6"/>
<rect x="300" y="106.53" width="8.68" height="6.89" fill="#1680f3"/>
<rect x="308.38" y="106.53" width="8.68" height="6.89" fill="#0f93ec"/>
<rect x="316.76" y="106.53" width="8.68" height="6.89" fill="#0da0e4"/>
<rect x="325.14" y="106.53" width="8.68" height="6.89" fill="#0eaad6"/>
<rect x="333.52" y="106.53" width="8.68" height="6.89" fill="#12b4b9"/>
<rect x="341.9" y="106.53" width="8.68" height="6.89" fill="#16be9e"/>
<rect x="350.28" y="106.53" width="17.06" height="6.89" fill="#e8b525"/>
<rect x="367.04" y="106.53" width="8.68" height="6.89" fill="#12b4b9"/>
<rect x="375.42" y="106.53" width="17.06" height="6.89" fill="#0f93ec"/>
<rect x="392.18" y="106.53" width="17.06" height="6.89" fill="#1680f3"/>
<rect x="408.94" y="106.53" width="100.86" height="6.89" fill="#2866f6"/>
<rect x="300" y="113.12" width="17.06" height="6.89" fill="#0f93ec"/>
<rect x="316.76" y="113.12" width="8.68" height="6.89" fill="#0da0e4"/>
<rect x="325.14" y="113.12" width="8.68" height="6.89" fill="#0eaad6"/>
<rect x="333.52" y="113.12" width="8.68" height="6.89" fill="#16be9e"/>
<rect x="341.9" y="113.12" width="8.68" height="6.89" fill="#32ca64"/>
<rect x="350.28" y="113.12" width="8.68" height="6.89" fill="#f6b622"/>
<rect x="358.66" y="113.12" width="8.68" height="6.89" fill="#e8b525"/>
<rect x="367.04" y="113.12" width="8.68" height="6.89" fill="#12b4b9"/>
<rect x="375.42" y="113.12" width="25.44" height="6.89" fill="#1680f3"/>
<rect x="400.56" y="113.12" width="33.82" height="6.89" fill="#2866f6"/>
<rect x="434.08" y="113.12" width="42.2" height="6.89" fill="#424eee"/>
<rect x="475.98" y="113.12" width="33.82" height="6.89" fill="#2866f6"/>
<rect x="300" y="119.72" width="17.06" height="6.89" fill="#0f93ec"/>
<rect x="316.76" y="119.72" width="8.68" height="6.89" fill="#0da0e4"/>
<rect x="325.14" y="119.72" width="8.68" height="6.89" fill="#0eaad6"/>
<rect x="333.52" y="119.72" width="8.68" height="6.89" fill="#16be9e"/>
<rect x="341.9" y="119.72" width="8.68" height="6.89" fill="#f6b622"/>
<rect x="350.28" y="119.72" width="8.68" height="6.89" fill="#fade19"/>
<rect x="358.66" y="119.72" width="8.68" height="6.89" fill="#d2be28"/>
<rect x="367.04" y="119.72" width="8.68" height="6.89" fill="#0eaad6"/>
<rect x="375.42" y="119.72" width="8.68" height="6.89" fill="#1680f3"/>
<rect x="383.8" y="119.72" width="42.2" height="6.89" fill="#2866f6"/>
<rect x="425.7" y="119.72" width="17.06" height="6.89" fill="#424eee"/>
<rect x="442.46" y="119.72" width="33.82" height="6.89" fill="#4a40e8"/>
<rect x="475.98" y="119.72" width="25.44" height="6.89" fill="#424eee"/>
<rect x="501.12" y="119.72" width="8.68" height="6.89" fill="#2866f6"/>
<rect x="300" y="126.31" width="17.06" height="6.89" fill="#0f93ec"/>
<rect x="316.76" y="126.31" width="8.68" height="6.89" fill="#0da0e4"/>
<rect x="325.14" y="126.31" width="8.68" height="6.89" fill="#0eaad6"/>
<rect x="333.52" y="126.31" width="8.68" height="6.89" fill="#1cc67d"/>
<rect x="341.9" y="126.31" width="8.68" height="6.89" fill="#fac81e"/>
<rect x="350.28" y="126.31" width="8.68" height="6.89" fill="#faf514"/>
<rect x="358.66" y="126.31" width="8.68" height="6.89" fill="#1cc67d"/>
<rect x="367.04" y="126.31" width="8.68" height="6.89" fill="#0eaad6"/>
<rect x="375.42" y="126.31" width="8.68" height="6.89" fill="#1680f3"/>
<rect x="383.8" y="126.31" width="33.82" height="6.89" fill="#2866f6"/>
<rect x="417.32" y="126.31" width="25.44" height="6.89" fill="#424eee"/>
<rect x="442.46" y="126.31" width="33.82" height="6.89" fill="#4a40e8"/>
<rect x="475.98" y="126.31" width="25.44" height="6.89" fill="#424eee"/>
<rect x="501.12" y="126.31" width="8.68" height="6.89" fill="#2866f6"/>
<rect x="300" y="132.91" width="17.06" height="6.89" fill="#0f93ec"/>
<rect x="316.76" y="132.91" width="8.68" height="6.89" fill="#0da0e4"/>
<rect x="325.14" y="132.91" width="8.68" height="6.89" fill="#0eaad6"/>
<rect x="333.52" y="132.91" width="8.68" height="6.89" fill="#64ca46"/>
<rect x="341.9" y="132.91" width="8.68" height="6.89" fill="#fade19"/>
<rect x="350.28" y="132.91" width="8.68" height="6.89" fill="#faf514"/>
<rect x="358.66" y="132.91" width="8.68" height="6.89" fill="#16be9e"/>
<rect x="367.04" y="132.91" width="8.68" height="6.89" fill="#0eaad6"/>
<rect x="375.42" y="132.91" width="8.68" height="6.89" fill="#1680f3"/>
<rect x="383.8" y="132.91" width="33.82" height="6.89" fill="#2866f6"/>
<rect x="417.32" y="132.91" width="33.82" height="6.89" fill="#424eee"/>
<rect x="450.84" y="132.91" width="17.06" height="6.89" fill="#4a40e8"/>
<rect x="467.6" y="132.91" width="25.44" height="6.89" fill="#424eee"/>
<rect x="492.74" y="132.91" width="17.06" height="6.89" fill="#2866f6"/>
</g>
<defs><clipPath id="c1"><rect x="300" y="14.2" width="209.5" height="125.3"/></clipPath></defs>
<g clip-path="url(#c1)" fill="none">
<polyline points="418.0,14.2 420.1,16.3 423.3,17.3 427.1,17.0 431.3,18.4 436.9,19.8 441.1,20.5 445.3,21.3 450.8,22.1 456.4,21.9 462.0,20.5 470.4,21.2 476.0,21.4 481.6,20.5 488.6,18.4 492.7,16.3 496.2,14.2" stroke="#1c2a80" stroke-width="0.8" stroke-opacity="0.75"/>
<polyline points="307.7,14.2 311.2,16.3 316.8,17.3 321.6,18.1 325.1,18.4 329.3,19.1 336.3,19.1 340.5,18.4 346.1,19.8 351.7,19.8 355.9,17.0 360.1,15.3 362.2,14.2" stroke="#1c2a80" stroke-width="0.8" stroke-opacity="0.75"/>
<polyline points="300.0,21.6 304.2,21.4 307.0,20.9 311.2,21.4 315.4,21.6 319.6,21.3 320.9,20.5 321.6,18.1" stroke="#1c2a80" stroke-width="0.8" stroke-opacity="0.75"/>
<polyline points="322.3,18.4 321.6,21.2 323.7,22.8 326.5,23.9 333.5,24.5 327.9,25.3 320.9,26.0 319.6,28.8 322.3,29.5 315.4,29.9 307.0,29.8 304.9,28.8 305.6,27.4 302.8,28.1 300.0,29.5" stroke="#1c2a80" stroke-width="0.8" stroke-opacity="0.75"/>
<polyline points="300.0,73.4 301.7,72.7 300.0,75.2 302.8,76.2 307.0,76.2 311.2,76.4 308.4,77.5 305.6,79.6 301.4,81.0 300.0,81.3" stroke="#1c2a80" stroke-width="0.8" stroke-opacity="0.75"/>
<polyline points="300.0,81.7 305.6,80.3 308.4,80.7 310.8,78.9 314.0,79.6 318.2,81.3 322.3,81.7 326.5,87.2 330.0,88.0 334.6,88.0 337.0,86.6 340.5,88.0 342.9,82.4 344.7,78.5 348.9,78.9 354.5,80.1 362.9,83.3 367.0,87.0 374.0,90.5 381.0,89.4 385.2,88.3 389.1,86.3 395.0,82.4 399.6,79.6 403.4,80.3 407.5,81.7 410.1,83.0 413.1,82.4 415.9,80.1 420.1,78.2 421.1,82.4 417.3,85.2 415.9,86.6 418.0,89.7 415.9,92.9 415.6,97.5 417.6,99.7 418.0,102.2 417.0,106.1 418.0,109.6 416.5,112.5 413.8,115.1 413.7,116.9 411.7,120.0 409.9,124.7 407.5,128.8 406.1,131.1 405.7,133.7 404.6,135.0 403.6,138.1 403.4,139.5" stroke="#1c2a80" stroke-width="0.8" stroke-opacity="0.75"/>
<polyline points="366.6,104.0 368.7,108.2 374.0,109.6 377.4,109.3 381.0,108.9 385.6,106.1 390.1,104.0 390.8,101.9 395.7,97.7 399.0,95.1 393.6,97.7 389.4,99.4 383.8,99.8 381.3,100.0 376.1,99.3 374.0,102.3 369.8,102.2 366.6,104.0" stroke="#1c2a80" stroke-width="0.8" stroke-opacity="0.75"/>
<polyline points="304.9,86.6 309.8,84.5 310.5,88.0 307.0,92.2 302.8,89.4 304.9,86.6" stroke="#1c2a80" stroke-width="0.8" stroke-opacity="0.75"/>
<polyline points="300.0,25.6 314.0,25.3 327.9,25.6 340.5,25.3 350.3,24.2 360.1,22.3 371.2,20.6 382.4,19.5 392.2,18.8 400.6,18.8 408.9,20.5 424.3,24.5 443.9,31.2 462.0,37.9 477.4,43.4 484.4,46.6 488.6,48.3 497.8,55.4 509.5,61.5" stroke="#b4a8c4" stroke-width="0.85" stroke-dasharray="1.8 1.6" stroke-opacity="0.75"/>
<polyline points="488.6,48.3 478.8,51.1 471.8,53.5 457.8,58.8 442.5,66.4 432.7,71.3 427.1,75.5 424.3,81.0 422.9,86.6 422.9,97.7 422.9,106.8 418.7,115.8 415.2,125.6 412.4,135.3 411.7,139.5" stroke="#b4a8c4" stroke-width="0.85" stroke-dasharray="1.8 1.6" stroke-opacity="0.75"/>
<polyline points="300.0,49.7 304.2,56.0 308.4,62.9 311.9,71.3 315.4,79.6 319.6,86.6 325.1,93.6 332.1,98.4 339.1,102.0 351.1,108.0 360.5,111.2 374.9,114.2 389.4,112.6 398.2,107.6 403.4,103.3" stroke="#b4a8c4" stroke-width="0.85" stroke-dasharray="1.8 1.6" stroke-opacity="0.75"/>
<polyline points="300.0,108.9 311.2,101.9 325.1,94.3" stroke="#b4a8c4" stroke-width="0.85" stroke-dasharray="1.8 1.6" stroke-opacity="0.75"/>
</g>
<defs><linearGradient id="g1" x1="0" y1="1" x2="0" y2="0">
<stop offset="0" stop-color="#4623aa"/>
<stop offset="0.02" stop-color="#4a26b6"/>
<stop offset="0.03" stop-color="#4e29c2"/>
<stop offset="0.05" stop-color="#512cce"/>
<stop offset="0.06" stop-color="#5032d6"/>
<stop offset="0.08" stop-color="#4e38de"/>
<stop offset="0.09" stop-color="#4b3ee5"/>
<stop offset="0.11" stop-color="#4744ea"/>
<stop offset="0.12" stop-color="#424aed"/>
<stop offset="0.14" stop-color="#3d51f0"/>
<stop offset="0.16" stop-color="#3857f2"/>
<stop offset="0.17" stop-color="#325cf4"/>
<stop offset="0.19" stop-color="#2d62f5"/>
<stop offset="0.2" stop-color="#2767f6"/>
<stop offset="0.22" stop-color="#226cf7"/>
<stop offset="0.23" stop-color="#1d71f8"/>
<stop offset="0.25" stop-color="#1a77f6"/>
<stop offset="0.27" stop-color="#167cf4"/>
<stop offset="0.28" stop-color="#1381f2"/>
<stop offset="0.3" stop-color="#1086f0"/>
<stop offset="0.31" stop-color="#0e8aee"/>
<stop offset="0.33" stop-color="#0d8eec"/>
<stop offset="0.34" stop-color="#0c92eb"/>
<stop offset="0.36" stop-color="#0b96e9"/>
<stop offset="0.38" stop-color="#0a9ae7"/>
<stop offset="0.39" stop-color="#0b9ee1"/>
<stop offset="0.41" stop-color="#0ca2db"/>
<stop offset="0.42" stop-color="#0da7d4"/>
<stop offset="0.44" stop-color="#0eabcd"/>
<stop offset="0.45" stop-color="#0fafc7"/>
<stop offset="0.47" stop-color="#10b1c2"/>
<stop offset="0.48" stop-color="#11b3bd"/>
<stop offset="0.5" stop-color="#12b5b8"/>
<stop offset="0.52" stop-color="#13b7b3"/>
<stop offset="0.53" stop-color="#14b9ae"/>
<stop offset="0.55" stop-color="#14bca3"/>
<stop offset="0.56" stop-color="#14c098"/>
<stop offset="0.58" stop-color="#14c38d"/>
<stop offset="0.59" stop-color="#17c484"/>
<stop offset="0.61" stop-color="#1ac67a"/>
<stop offset="0.62" stop-color="#1dc871"/>
<stop offset="0.64" stop-color="#31c863"/>
<stop offset="0.66" stop-color="#4dc854"/>
<stop offset="0.67" stop-color="#69c844"/>
<stop offset="0.69" stop-color="#82c73a"/>
<stop offset="0.7" stop-color="#96c535"/>
<stop offset="0.72" stop-color="#aac231"/>
<stop offset="0.73" stop-color="#bec02c"/>
<stop offset="0.75" stop-color="#d2be28"/>
<stop offset="0.77" stop-color="#d9bb27"/>
<stop offset="0.78" stop-color="#e0b826"/>
<stop offset="0.8" stop-color="#e7b525"/>
<stop offset="0.81" stop-color="#edb224"/>
<stop offset="0.83" stop-color="#f4af23"/>
<stop offset="0.84" stop-color="#f6b422"/>
<stop offset="0.86" stop-color="#f7b921"/>
<stop offset="0.88" stop-color="#f8bf20"/>
<stop offset="0.89" stop-color="#f9c51f"/>
<stop offset="0.91" stop-color="#facb1d"/>
<stop offset="0.92" stop-color="#fad21c"/>
<stop offset="0.94" stop-color="#fad91a"/>
<stop offset="0.95" stop-color="#fae019"/>
<stop offset="0.97" stop-color="#fae717"/>
<stop offset="0.98" stop-color="#faee16"/>
<stop offset="1" stop-color="#faf514"/>
</linearGradient></defs>
<rect x="513.6" y="14.2" width="8.3" height="125.3" fill="url(#g1)"/>
<line x1="520.6" x2="521.9" y1="129.75" y2="129.75" stroke="#262626" stroke-width="0.5"/>
<text x="524.5" y="130.05" font-size="7" fill="#3a3a3a" dominant-baseline="central">0.1</text>
<line x1="520.6" x2="521.9" y1="110.99" y2="110.99" stroke="#262626" stroke-width="0.5"/>
<text x="524.5" y="111.29" font-size="7" fill="#3a3a3a" dominant-baseline="central">0.2</text>
<line x1="520.6" x2="521.9" y1="92.23" y2="92.23" stroke="#262626" stroke-width="0.5"/>
<text x="524.5" y="92.53" font-size="7" fill="#3a3a3a" dominant-baseline="central">0.3</text>
<line x1="520.6" x2="521.9" y1="73.47" y2="73.47" stroke="#262626" stroke-width="0.5"/>
<text x="524.5" y="73.77" font-size="7" fill="#3a3a3a" dominant-baseline="central">0.4</text>
<line x1="520.6" x2="521.9" y1="54.72" y2="54.72" stroke="#262626" stroke-width="0.5"/>
<text x="524.5" y="55.02" font-size="7" fill="#3a3a3a" dominant-baseline="central">0.5</text>
<line x1="520.6" x2="521.9" y1="35.96" y2="35.96" stroke="#262626" stroke-width="0.5"/>
<text x="524.5" y="36.26" font-size="7" fill="#3a3a3a" dominant-baseline="central">0.6</text>
<line x1="520.6" x2="521.9" y1="17.2" y2="17.2" stroke="#262626" stroke-width="0.5"/>
<text x="524.5" y="17.5" font-size="7" fill="#3a3a3a" dominant-baseline="central">0.7</text>
<text transform="translate(542.1 76.85) rotate(-90)" font-size="6.6" fill="#262626" text-anchor="middle">AOT</text>
<text x="404.75" y="11.3" font-size="8.8" font-weight="bold" text-anchor="middle" fill="#000">27-01-2023 17UT</text>
<text x="306.98" y="149.3" font-size="8" fill="#303030" text-anchor="middle">28</text>
<text x="334.92" y="149.3" font-size="8" fill="#303030" text-anchor="middle">30</text>
<text x="362.85" y="149.3" font-size="8" fill="#303030" text-anchor="middle">32</text>
<text x="390.78" y="149.3" font-size="8" fill="#303030" text-anchor="middle">34</text>
<text x="418.72" y="149.3" font-size="8" fill="#303030" text-anchor="middle">36</text>
<text x="446.65" y="149.3" font-size="8" fill="#303030" text-anchor="middle">38</text>
<text x="474.58" y="149.3" font-size="8" fill="#303030" text-anchor="middle">40</text>
<text x="502.52" y="149.3" font-size="8" fill="#303030" text-anchor="middle">42</text>
<text x="404.75" y="160.4" font-size="8.7" fill="#202020" text-anchor="middle">longitude [degree]</text>
<text x="297.5" y="118.92" font-size="8" fill="#303030" text-anchor="end" dominant-baseline="central">34</text>
<text x="297.5" y="91.07" font-size="8" fill="#303030" text-anchor="end" dominant-baseline="central">36</text>
<text x="297.5" y="63.23" font-size="8" fill="#303030" text-anchor="end" dominant-baseline="central">38</text>
<text x="297.5" y="35.38" font-size="8" fill="#303030" text-anchor="end" dominant-baseline="central">40</text>
<text transform="translate(286.5 76.85) rotate(-90)" font-size="8.7" fill="#202020" text-anchor="middle">latitude [degree]</text>
<g shape-rendering="crispEdges">
<rect x="25.8" y="196.4" width="42.56" height="6.95" fill="#4a40e8"/>
<rect x="68.06" y="196.4" width="17.2" height="6.95" fill="#424eee"/>
<rect x="84.96" y="196.4" width="42.56" height="6.95" fill="#2866f6"/>
<rect x="127.22" y="196.4" width="8.75" height="6.95" fill="#1680f3"/>
<rect x="135.68" y="196.4" width="34.11" height="6.95" fill="#0f93ec"/>
<rect x="169.48" y="196.4" width="17.2" height="6.95" fill="#1680f3"/>
<rect x="186.39" y="196.4" width="17.2" height="6.95" fill="#2866f6"/>
<rect x="203.29" y="196.4" width="8.75" height="6.95" fill="#424eee"/>
<rect x="211.74" y="196.4" width="25.66" height="6.95" fill="#4a40e8"/>
<rect x="25.8" y="203.05" width="51.01" height="6.95" fill="#4a40e8"/>
<rect x="76.51" y="203.05" width="8.75" height="6.95" fill="#424eee"/>
<rect x="84.96" y="203.05" width="8.75" height="6.95" fill="#1680f3"/>
<rect x="93.42" y="203.05" width="8.75" height="6.95" fill="#0f93ec"/>
<rect x="101.87" y="203.05" width="8.75" height="6.95" fill="#1680f3"/>
<rect x="110.32" y="203.05" width="17.2" height="6.95" fill="#2866f6"/>
<rect x="127.22" y="203.05" width="8.75" height="6.95" fill="#1680f3"/>
<rect x="135.68" y="203.05" width="8.75" height="6.95" fill="#0f93ec"/>
<rect x="144.13" y="203.05" width="17.2" height="6.95" fill="#0da0e4"/>
<rect x="161.03" y="203.05" width="8.75" height="6.95" fill="#0f93ec"/>
<rect x="169.48" y="203.05" width="17.2" height="6.95" fill="#1680f3"/>
<rect x="186.39" y="203.05" width="17.2" height="6.95" fill="#2866f6"/>
<rect x="203.29" y="203.05" width="8.75" height="6.95" fill="#424eee"/>
<rect x="211.74" y="203.05" width="17.2" height="6.95" fill="#4a40e8"/>
<rect x="228.65" y="203.05" width="8.75" height="6.95" fill="#522dd0"/>
<rect x="25.8" y="209.69" width="25.66" height="6.95" fill="#4a40e8"/>
<rect x="51.16" y="209.69" width="25.66" height="6.95" fill="#522dd0"/>
<rect x="76.51" y="209.69" width="8.75" height="6.95" fill="#4a40e8"/>
<rect x="84.96" y="209.69" width="8.75" height="6.95" fill="#0f93ec"/>
<rect x="93.42" y="209.69" width="8.75" height="6.95" fill="#0da0e4"/>
<rect x="101.87" y="209.69" width="8.75" height="6.95" fill="#0f93ec"/>
<rect x="110.32" y="209.69" width="17.2" height="6.95" fill="#2866f6"/>
<rect x="127.22" y="209.69" width="8.75" height="6.95" fill="#1680f3"/>
<rect x="135.68" y="209.69" width="25.66" height="6.95" fill="#0da0e4"/>
<rect x="161.03" y="209.69" width="17.2" height="6.95" fill="#0f93ec"/>
<rect x="177.94" y="209.69" width="17.2" height="6.95" fill="#1680f3"/>
<rect x="194.84" y="209.69" width="8.75" height="6.95" fill="#2866f6"/>
<rect x="203.29" y="209.69" width="8.75" height="6.95" fill="#424eee"/>
<rect x="211.74" y="209.69" width="8.75" height="6.95" fill="#4a40e8"/>
<rect x="220.2" y="209.69" width="17.2" height="6.95" fill="#522dd0"/>
<rect x="25.8" y="216.34" width="17.2" height="6.95" fill="#4a40e8"/>
<rect x="42.7" y="216.34" width="34.11" height="6.95" fill="#522dd0"/>
<rect x="76.51" y="216.34" width="8.75" height="6.95" fill="#4a40e8"/>
<rect x="84.96" y="216.34" width="8.75" height="6.95" fill="#0f93ec"/>
<rect x="93.42" y="216.34" width="8.75" height="6.95" fill="#0eaad6"/>
<rect x="101.87" y="216.34" width="8.75" height="6.95" fill="#0f93ec"/>
<rect x="110.32" y="216.34" width="8.75" height="6.95" fill="#424eee"/>
<rect x="118.77" y="216.34" width="8.75" height="6.95" fill="#2866f6"/>
<rect x="127.22" y="216.34" width="8.75" height="6.95" fill="#1680f3"/>
<rect x="135.68" y="216.34" width="25.66" height="6.95" fill="#0da0e4"/>
<rect x="161.03" y="216.34" width="17.2" height="6.95" fill="#0f93ec"/>
<rect x="177.94" y="216.34" width="17.2" height="6.95" fill="#1680f3"/>
<rect x="194.84" y="216.34" width="8.75" height="6.95" fill="#2866f6"/>
<rect x="203.29" y="216.34" width="8.75" height="6.95" fill="#424eee"/>
<rect x="211.74" y="216.34" width="8.75" height="6.95" fill="#4a40e8"/>
<rect x="220.2" y="216.34" width="17.2" height="6.95" fill="#522dd0"/>
<rect x="25.8" y="222.99" width="17.2" height="6.95" fill="#4a40e8"/>
<rect x="42.7" y="222.99" width="8.75" height="6.95" fill="#522dd0"/>
<rect x="51.16" y="222.99" width="8.75" height="6.95" fill="#4623aa"/>
<rect x="59.61" y="222.99" width="17.2" height="6.95" fill="#522dd0"/>
<rect x="76.51" y="222.99" width="8.75" height="6.95" fill="#4a40e8"/>
<rect x="84.96" y="222.99" width="8.75" height="6.95" fill="#0f93ec"/>
<rect x="93.42" y="222.99" width="8.75" height="6.95" fill="#0da0e4"/>
<rect x="101.87" y="222.99" width="17.2" height="6.95" fill="#424eee"/>
<rect x="118.77" y="222.99" width="8.75" height="6.95" fill="#2866f6"/>
<rect x="127.22" y="222.99" width="8.75" height="6.95" fill="#1680f3"/>
<rect x="135.68" y="222.99" width="25.66" height="6.95" fill="#0da0e4"/>
<rect x="161.03" y="222.99" width="17.2" height="6.95" fill="#0f93ec"/>
<rect x="177.94" y="222.99" width="17.2" height="6.95" fill="#1680f3"/>
<rect x="194.84" y="222.99" width="8.75" height="6.95" fill="#2866f6"/>
<rect x="203.29" y="222.99" width="8.75" height="6.95" fill="#424eee"/>
<rect x="211.74" y="222.99" width="17.2" height="6.95" fill="#4a40e8"/>
<rect x="228.65" y="222.99" width="8.75" height="6.95" fill="#522dd0"/>
<rect x="25.8" y="229.64" width="17.2" height="6.95" fill="#4a40e8"/>
<rect x="42.7" y="229.64" width="34.11" height="6.95" fill="#522dd0"/>
<rect x="76.51" y="229.64" width="8.75" height="6.95" fill="#4a40e8"/>
<rect x="84.96" y="229.64" width="17.2" height="6.95" fill="#0f93ec"/>
<rect x="101.87" y="229.64" width="8.75" height="6.95" fill="#424eee"/>
<rect x="110.32" y="229.64" width="8.75" height="6.95" fill="#2866f6"/>
<rect x="118.77" y="229.64" width="8.75" height="6.95" fill="#0f93ec"/>
<rect x="127.22" y="229.64" width="34.11" height="6.95" fill="#0da0e4"/>
<rect x="161.03" y="229.64" width="25.66" height="6.95" fill="#0f93ec"/>
<rect x="186.39" y="229.64" width="8.75" height="6.95" fill="#1680f3"/>
<rect x="194.84" y="229.64" width="8.75" height="6.95" fill="#2866f6"/>
<rect x="203.29" y="229.64" width="17.2" height="6.95" fill="#424eee"/>
<rect x="220.2" y="229.64" width="17.2" height="6.95" fill="#4a40e8"/>
<rect x="25.8" y="236.28" width="25.66" height="6.95" fill="#4a40e8"/>
<rect x="51.16" y="236.28" width="8.75" height="6.95" fill="#522dd0"/>
<rect x="59.61" y="236.28" width="25.66" height="6.95" fill="#4a40e8"/>
<rect x="84.96" y="236.28" width="8.75" height="6.95" fill="#1680f3"/>
<rect x="93.42" y="236.28" width="8.75" height="6.95" fill="#0f93ec"/>
<rect x="101.87" y="236.28" width="8.75" height="6.95" fill="#2866f6"/>
<rect x="110.32" y="236.28" width="8.75" height="6.95" fill="#1680f3"/>
<rect x="118.77" y="236.28" width="8.75" height="6.95" fill="#0f93ec"/>
<rect x="127.22" y="236.28" width="42.56" height="6.95" fill="#0da0e4"/>
<rect x="169.48" y="236.28" width="17.2" height="6.95" fill="#0f93ec"/>
<rect x="186.39" y="236.28" width="8.75" height="6.95" fill="#1680f3"/>
<rect x="194.84" y="236.28" width="17.2" height="6.95" fill="#2866f6"/>
<rect x="211.74" y="236.28" width="8.75" height="6.95" fill="#424eee"/>
<rect x="220.2" y="236.28" width="17.2" height="6.95" fill="#4a40e8"/>
<rect x="25.8" y="242.93" width="17.2" height="6.95" fill="#4a40e8"/>
<rect x="42.7" y="242.93" width="25.66" height="6.95" fill="#522dd0"/>
<rect x="68.06" y="242.93" width="17.2" height="6.95" fill="#424eee"/>
<rect x="84.96" y="242.93" width="8.75" height="6.95" fill="#1680f3"/>
<rect x="93.42" y="242.93" width="17.2" height="6.95" fill="#0f93ec"/>
<rect x="110.32" y="242.93" width="59.46" height="6.95" fill="#0da0e4"/>
<rect x="169.48" y="242.93" width="17.2" height="6.95" fill="#0f93ec"/>
<rect x="186.39" y="242.93" width="8.75" height="6.95" fill="#1680f3"/>
<rect x="194.84" y="242.93" width="34.11" height="6.95" fill="#2866f6"/>
<rect x="228.65" y="242.93" width="8.75" height="6.95" fill="#424eee"/>
<rect x="25.8" y="249.58" width="17.2" height="6.95" fill="#4a40e8"/>
<rect x="42.7" y="249.58" width="25.66" height="6.95" fill="#522dd0"/>
<rect x="68.06" y="249.58" width="8.75" height="6.95" fill="#2866f6"/>
<rect x="76.51" y="249.58" width="8.75" height="6.95" fill="#1680f3"/>
<rect x="84.96" y="249.58" width="17.2" height="6.95" fill="#0f93ec"/>
<rect x="101.87" y="249.58" width="8.75" height="6.95" fill="#0da0e4"/>
<rect x="110.32" y="249.58" width="8.75" height="6.95" fill="#0eaad6"/>
<rect x="118.77" y="249.58" width="8.75" height="6.95" fill="#12b4b9"/>
<rect x="127.22" y="249.58" width="8.75" height="6.95" fill="#16be9e"/>
<rect x="135.68" y="249.58" width="8.75" height="6.95" fill="#32ca64"/>
<rect x="144.13" y="249.58" width="8.75" height="6.95" fill="#1cc67d"/>
<rect x="152.58" y="249.58" width="8.75" height="6.95" fill="#0eaad6"/>
<rect x="161.03" y="249.58" width="17.2" height="6.95" fill="#0da0e4"/>
<rect x="177.94" y="249.58" width="17.2" height="6.95" fill="#0f93ec"/>
<rect x="194.84" y="249.58" width="8.75" height="6.95" fill="#1680f3"/>
<rect x="203.29" y="249.58" width="25.66" height="6.95" fill="#2866f6"/>
<rect x="228.65" y="249.58" width="8.75" height="6.95" fill="#424eee"/>
<rect x="25.8" y="256.23" width="34.11" height="6.95" fill="#4a40e8"/>
<rect x="59.61" y="256.23" width="8.75" height="6.95" fill="#522dd0"/>
<rect x="68.06" y="256.23" width="8.75" height="6.95" fill="#2866f6"/>
<rect x="76.51" y="256.23" width="8.75" height="6.95" fill="#0f93ec"/>
<rect x="84.96" y="256.23" width="17.2" height="6.95" fill="#0da0e4"/>
<rect x="101.87" y="256.23" width="8.75" height="6.95" fill="#0eaad6"/>
<rect x="110.32" y="256.23" width="8.75" height="6.95" fill="#12b4b9"/>
<rect x="118.77" y="256.23" width="8.75" height="6.95" fill="#16be9e"/>
<rect x="127.22" y="256.23" width="17.2" height="6.95" fill="#1cc67d"/>
<rect x="144.13" y="256.23" width="8.75" height="6.95" fill="#12b4b9"/>
<rect x="152.58" y="256.23" width="8.75" height="6.95" fill="#0eaad6"/>
<rect x="161.03" y="256.23" width="17.2" height="6.95" fill="#0da0e4"/>
<rect x="177.94" y="256.23" width="17.2" height="6.95" fill="#0f93ec"/>
<rect x="194.84" y="256.23" width="17.2" height="6.95" fill="#1680f3"/>
<rect x="211.74" y="256.23" width="25.66" height="6.95" fill="#2866f6"/>
<rect x="25.8" y="262.87" width="42.56" height="6.95" fill="#4a40e8"/>
<rect x="68.06" y="262.87" width="8.75" height="6.95" fill="#2866f6"/>
<rect x="76.51" y="262.87" width="8.75" height="6.95" fill="#0f93ec"/>
<rect x="84.96" y="262.87" width="8.75" height="6.95" fill="#0da0e4"/>
<rect x="93.42" y="262.87" width="8.75" height="6.95" fill="#0eaad6"/>
<rect x="101.87" y="262.87" width="8.75" height="6.95" fill="#16be9e"/>
<rect x="110.32" y="262.87" width="8.75" height="6.95" fill="#64ca46"/>
<rect x="118.77" y="262.87" width="8.75" height="6.95" fill="#16be9e"/>
<rect x="127.22" y="262.87" width="8.75" height="6.95" fill="#12b4b9"/>
<rect x="135.68" y="262.87" width="17.2" height="6.95" fill="#0eaad6"/>
<rect x="152.58" y="262.87" width="25.66" height="6.95" fill="#0da0e4"/>
<rect x="177.94" y="262.87" width="8.75" height="6.95" fill="#0f93ec"/>
<rect x="186.39" y="262.87" width="34.11" height="6.95" fill="#1680f3"/>
<rect x="220.2" y="262.87" width="17.2" height="6.95" fill="#2866f6"/>
<rect x="25.8" y="269.52" width="34.11" height="6.95" fill="#4a40e8"/>
<rect x="59.61" y="269.52" width="8.75" height="6.95" fill="#424eee"/>
<rect x="68.06" y="269.52" width="8.75" height="6.95" fill="#2866f6"/>
<rect x="76.51" y="269.52" width="8.75" height="6.95" fill="#0f93ec"/>
<rect x="84.96" y="269.52" width="8.75" height="6.95" fill="#0eaad6"/>
<rect x="93.42" y="269.52" width="8.75" height="6.95" fill="#12b4b9"/>
<rect x="101.87" y="269.52" width="17.2" height="6.95" fill="#16be9e"/>
<rect x="118.77" y="269.52" width="8.75" height="6.95" fill="#0eaad6"/>
<rect x="127.22" y="269.52" width="51.01" height="6.95" fill="#0da0e4"/>
<rect x="177.94" y="269.52" width="8.75" height="6.95" fill="#0f93ec"/>
<rect x="186.39" y="269.52" width="42.56" height="6.95" fill="#1680f3"/>
<rect x="228.65" y="269.52" width="8.75" height="6.95" fill="#2866f6"/>
<rect x="25.8" y="276.17" width="25.66" height="6.95" fill="#4a40e8"/>
<rect x="51.16" y="276.17" width="8.75" height="6.95" fill="#424eee"/>
<rect x="59.61" y="276.17" width="8.75" height="6.95" fill="#2866f6"/>
<rect x="68.06" y="276.17" width="8.75" height="6.95" fill="#1680f3"/>
<rect x="76.51" y="276.17" width="8.75" height="6.95" fill="#0f93ec"/>
<rect x="84.96" y="276.17" width="8.75" height="6.95" fill="#12b4b9"/>
<rect x="93.42" y="276.17" width="17.2" height="6.95" fill="#92c536"/>
<rect x="110.32" y="276.17" width="8.75" height="6.95" fill="#12b4b9"/>
<rect x="118.77" y="276.17" width="8.75" height="6.95" fill="#0da0e4"/>
<rect x="127.22" y="276.17" width="17.2" height="6.95" fill="#0f93ec"/>
<rect x="144.13" y="276.17" width="25.66" height="6.95" fill="#0da0e4"/>
<rect x="169.48" y="276.17" width="17.2" height="6.95" fill="#0f93ec"/>
<rect x="186.39" y="276.17" width="42.56" height="6.95" fill="#1680f3"/>
<rect x="228.65" y="276.17" width="8.75" height="6.95" fill="#2866f6"/>
<rect x="25.8" y="282.82" width="25.66" height="6.95" fill="#4a40e8"/>
<rect x="51.16" y="282.82" width="8.75" height="6.95" fill="#424eee"/>
<rect x="59.61" y="282.82" width="8.75" height="6.95" fill="#2866f6"/>
<rect x="68.06" y="282.82" width="8.75" height="6.95" fill="#1680f3"/>
<rect x="76.51" y="282.82" width="8.75" height="6.95" fill="#0f93ec"/>
<rect x="84.96" y="282.82" width="8.75" height="6.95" fill="#16be9e"/>
<rect x="93.42" y="282.82" width="8.75" height="6.95" fill="#f6b622"/>
<rect x="101.87" y="282.82" width="8.75" height="6.95" fill="#d2be28"/>
<rect x="110.32" y="282.82" width="8.75" height="6.95" fill="#0eaad6"/>
<rect x="118.77" y="282.82" width="8.75" height="6.95" fill="#0da0e4"/>
<rect x="127.22" y="282.82" width="8.75" height="6.95" fill="#0f93ec"/>
<rect x="135.68" y="282.82" width="17.2" height="6.95" fill="#1680f3"/>
<rect x="152.58" y="282.82" width="51.01" height="6.95" fill="#2866f6"/>
<rect x="203.29" y="282.82" width="34.11" height="6.95" fill="#1680f3"/>
<rect x="25.8" y="289.46" width="17.2" height="6.95" fill="#4a40e8"/>
<rect x="42.7" y="289.46" width="8.75" height="6.95" fill="#424eee"/>
<rect x="51.16" y="289.46" width="17.2" height="6.95" fill="#2866f6"/>
<rect x="68.06" y="289.46" width="8.75" height="6.95" fill="#1680f3"/>
<rect x="76.51" y="289.46" width="8.75" height="6.95" fill="#0f93ec"/>
<rect x="84.96" y="289.46" width="8.75" height="6.95" fill="#16be9e"/>
<rect x="93.42" y="289.46" width="8.75" height="6.95" fill="#fade19"/>
<rect x="101.87" y="289.46" width="8.75" height="6.95" fill="#d2be28"/>
<rect x="110.32" y="289.46" width="17.2" height="6.95" fill="#0da0e4"/>
<rect x="127.22" y="289.46" width="8.75" height="6.95" fill="#0f93ec"/>
<rect x="135.68" y="289.46" width="17.2" height="6.95" fill="#1680f3"/>
<rect x="152.58" y="289.46" width="34.11" height="6.95" fill="#2866f6"/>
<rect x="186.39" y="289.46" width="8.75" height="6.95" fill="#424eee"/>
<rect x="194.84" y="289.46" width="17.2" height="6.95" fill="#2866f6"/>
<rect x="211.74" y="289.46" width="17.2" height="6.95" fill="#1680f3"/>
<rect x="228.65" y="289.46" width="8.75" height="6.95" fill="#0f93ec"/>
<rect x="25.8" y="296.11" width="8.75" height="6.95" fill="#4a40e8"/>
<rect x="34.25" y="296.11" width="17.2" height="6.95" fill="#424eee"/>
<rect x="51.16" y="296.11" width="17.2" height="6.95" fill="#2866f6"/>
<rect x="68.06" y="296.11" width="8.75" height="6.95" fill="#1680f3"/>
<rect x="76.51" y="296.11" width="8.75" height="6.95" fill="#0f93ec"/>
<rect x="84.96" y="296.11" width="8.75" height="6.95" fill="#16be9e"/>
<rect x="93.42" y="296.11" width="8.75" height="6.95" fill="#fade19"/>
<rect x="101.87" y="296.11" width="8.75" height="6.95" fill="#d2be28"/>
<rect x="110.32" y="296.11" width="8.75" height="6.95" fill="#0da0e4"/>
<rect x="118.77" y="296.11" width="17.2" height="6.95" fill="#0f93ec"/>
<rect x="135.68" y="296.11" width="8.75" height="6.95" fill="#1680f3"/>
<rect x="144.13" y="296.11" width="34.11" height="6.95" fill="#2866f6"/>
<rect x="177.94" y="296.11" width="25.66" height="6.95" fill="#424eee"/>
<rect x="203.29" y="296.11" width="8.75" height="6.95" fill="#2866f6"/>
<rect x="211.74" y="296.11" width="17.2" height="6.95" fill="#1680f3"/>
<rect x="228.65" y="296.11" width="8.75" height="6.95" fill="#0f93ec"/>
<rect x="25.8" y="302.76" width="8.75" height="6.95" fill="#4a40e8"/>
<rect x="34.25" y="302.76" width="17.2" height="6.95" fill="#424eee"/>
<rect x="51.16" y="302.76" width="17.2" height="6.95" fill="#2866f6"/>
<rect x="68.06" y="302.76" width="8.75" height="6.95" fill="#1680f3"/>
<rect x="76.51" y="302.76" width="8.75" height="6.95" fill="#0f93ec"/>
<rect x="84.96" y="302.76" width="8.75" height="6.95" fill="#92c536"/>
<rect x="93.42" y="302.76" width="8.75" height="6.95" fill="#fade19"/>
<rect x="101.87" y="302.76" width="8.75" height="6.95" fill="#92c536"/>
<rect x="110.32" y="302.76" width="8.75" height="6.95" fill="#0da0e4"/>
<rect x="118.77" y="302.76" width="8.75" height="6.95" fill="#0f93ec"/>
<rect x="127.22" y="302.76" width="17.2" height="6.95" fill="#1680f3"/>
<rect x="144.13" y="302.76" width="17.2" height="6.95" fill="#2866f6"/>
<rect x="161.03" y="302.76" width="8.75" height="6.95" fill="#424eee"/>
<rect x="169.48" y="302.76" width="8.75" height="6.95" fill="#2866f6"/>
<rect x="177.94" y="302.76" width="8.75" height="6.95" fill="#424eee"/>
<rect x="186.39" y="302.76" width="8.75" height="6.95" fill="#4a40e8"/>
<rect x="194.84" y="302.76" width="8.75" height="6.95" fill="#424eee"/>
<rect x="203.29" y="302.76" width="17.2" height="6.95" fill="#2866f6"/>
<rect x="220.2" y="302.76" width="17.2" height="6.95" fill="#1680f3"/>
<rect x="25.8" y="309.41" width="8.75" height="6.95" fill="#4a40e8"/>
<rect x="34.25" y="309.41" width="17.2" height="6.95" fill="#424eee"/>
<rect x="51.16" y="309.41" width="8.75" height="6.95" fill="#2866f6"/>
<rect x="59.61" y="309.41" width="8.75" height="6.95" fill="#1680f3"/>
<rect x="68.06" y="309.41" width="17.2" height="6.95" fill="#0f93ec"/>
<rect x="84.96" y="309.41" width="8.75" height="6.95" fill="#e8b525"/>
<rect x="93.42" y="309.41" width="8.75" height="6.95" fill="#fade19"/>
<rect x="101.87" y="309.41" width="8.75" height="6.95" fill="#1cc67d"/>
<rect x="110.32" y="309.41" width="8.75" height="6.95" fill="#0da0e4"/>
<rect x="118.77" y="309.41" width="8.75" height="6.95" fill="#0f93ec"/>
<rect x="127.22" y="309.41" width="8.75" height="6.95" fill="#1680f3"/>
<rect x="135.68" y="309.41" width="17.2" height="6.95" fill="#2866f6"/>
<rect x="152.58" y="309.41" width="34.11" height="6.95" fill="#424eee"/>
<rect x="186.39" y="309.41" width="8.75" height="6.95" fill="#4a40e8"/>
<rect x="194.84" y="309.41" width="17.2" height="6.95" fill="#424eee"/>
<rect x="211.74" y="309.41" width="8.75" height="6.95" fill="#2866f6"/>
<rect x="220.2" y="309.41" width="17.2" height="6.95" fill="#1680f3"/>
<rect x="25.8" y="316.05" width="8.75" height="6.95" fill="#4a40e8"/>
<rect x="34.25" y="316.05" width="8.75" height="6.95" fill="#424eee"/>
<rect x="42.7" y="316.05" width="17.2" height="6.95" fill="#2866f6"/>
<rect x="59.61" y="316.05" width="8.75" height="6.95" fill="#1680f3"/>
<rect x="68.06" y="316.05" width="8.75" height="6.95" fill="#0f93ec"/>
<rect x="76.51" y="316.05" width="8.75" height="6.95" fill="#1cc67d"/>
<rect x="84.96" y="316.05" width="8.75" height="6.95" fill="#f6b622"/>
<rect x="93.42" y="316.05" width="8.75" height="6.95" fill="#fade19"/>
<rect x="101.87" y="316.05" width="8.75" height="6.95" fill="#1cc67d"/>
<rect x="110.32" y="316.05" width="8.75" height="6.95" fill="#0da0e4"/>
<rect x="118.77" y="316.05" width="8.75" height="6.95" fill="#0f93ec"/>
<rect x="127.22" y="316.05" width="8.75" height="6.95" fill="#1680f3"/>
<rect x="135.68" y="316.05" width="17.2" height="6.95" fill="#2866f6"/>
<rect x="152.58" y="316.05" width="59.46" height="6.95" fill="#424eee"/>
<rect x="211.74" y="316.05" width="8.75" height="6.95" fill="#2866f6"/>
<rect x="220.2" y="316.05" width="17.2" height="6.95" fill="#1680f3"/>
</g>
<defs><clipPath id="c2"><rect x="25.8" y="196.4" width="211.3" height="126.3"/></clipPath></defs>
<g clip-path="url(#c2)" fill="none">
<polyline points="144.8,196.4 146.9,198.5 150.2,199.5 154.0,199.2 158.2,200.6 163.8,202.0 168.1,202.7 172.3,203.6 177.9,204.4 183.6,204.1 189.2,202.7 197.7,203.4 203.3,203.7 208.9,202.7 216.0,200.6 220.2,198.5 223.7,196.4" stroke="#1c2a80" stroke-width="0.8" stroke-opacity="0.75"/>
<polyline points="33.5,196.4 37.1,198.5 42.7,199.5 47.6,200.3 51.2,200.6 55.4,201.3 62.4,201.3 66.7,200.6 72.3,202.0 77.9,202.0 82.1,199.2 86.4,197.5 88.5,196.4" stroke="#1c2a80" stroke-width="0.8" stroke-opacity="0.75"/>
<polyline points="25.8,203.8 30.0,203.7 32.8,203.1 37.1,203.7 41.3,203.8 45.5,203.6 46.9,202.7 47.6,200.3" stroke="#1c2a80" stroke-width="0.8" stroke-opacity="0.75"/>
<polyline points="48.3,200.6 47.6,203.4 49.7,205.1 52.6,206.2 59.6,206.8 54.0,207.6 46.9,208.3 45.5,211.1 48.3,211.8 41.3,212.3 32.8,212.1 30.7,211.1 31.4,209.7 28.6,210.4 25.8,211.8" stroke="#1c2a80" stroke-width="0.8" stroke-opacity="0.75"/>
<polyline points="25.8,256.0 27.5,255.3 25.8,257.9 28.6,258.8 32.8,258.8 37.1,259.1 34.3,260.3 31.4,262.4 27.2,263.8 25.8,264.0" stroke="#1c2a80" stroke-width="0.8" stroke-opacity="0.75"/>
<polyline points="25.8,264.5 31.4,263.1 34.3,263.5 36.6,261.7 39.9,262.4 44.1,264.0 48.3,264.5 52.6,269.9 56.1,270.8 60.7,270.8 63.1,269.4 66.7,270.8 69.0,265.2 70.9,261.2 75.1,261.7 80.7,262.8 89.2,266.0 93.4,269.8 100.5,273.3 107.5,272.2 111.7,271.1 115.7,269.1 121.6,265.2 126.2,262.4 130.0,263.1 134.3,264.5 136.8,265.7 139.9,265.2 142.7,262.8 146.9,261.0 147.9,265.2 144.1,268.0 142.7,269.4 144.8,272.5 142.7,275.7 142.4,280.3 144.4,282.6 144.8,285.1 143.8,289.0 144.8,292.5 143.3,295.5 140.6,298.1 140.5,300.0 138.5,303.1 136.7,307.8 134.3,311.9 132.9,314.3 132.4,316.8 131.3,318.2 130.3,321.3 130.0,322.7" stroke="#1c2a80" stroke-width="0.8" stroke-opacity="0.75"/>
<polyline points="93.0,286.9 95.1,291.1 100.5,292.5 103.8,292.2 107.5,291.8 112.2,289.0 116.7,286.9 117.4,284.8 122.3,280.6 125.7,277.9 120.2,280.6 116.0,282.3 110.3,282.7 107.8,282.8 102.6,282.1 100.5,285.2 96.2,285.1 93.0,286.9" stroke="#1c2a80" stroke-width="0.8" stroke-opacity="0.75"/>
<polyline points="30.7,269.4 35.7,267.3 36.4,270.8 32.8,275.0 28.6,272.2 30.7,269.4" stroke="#1c2a80" stroke-width="0.8" stroke-opacity="0.75"/>
<polyline points="25.8,207.9 39.9,207.6 54.0,207.9 66.7,207.6 76.5,206.5 86.4,204.5 97.6,202.9 108.9,201.7 118.8,201.0 127.2,201.0 135.7,202.7 151.2,206.8 170.9,213.5 189.2,220.3 204.7,225.9 211.7,229.1 216.0,230.8 225.3,237.9 237.1,244.1" stroke="#b4a8c4" stroke-width="0.85" stroke-dasharray="1.8 1.6" stroke-opacity="0.75"/>
<polyline points="216.0,230.8 206.1,233.6 199.1,236.0 185.0,241.3 169.5,249.0 159.6,253.9 154.0,258.1 151.2,263.8 149.8,269.4 149.8,280.6 149.8,289.7 145.5,298.8 142.0,308.7 139.2,318.5 138.5,322.7" stroke="#b4a8c4" stroke-width="0.85" stroke-dasharray="1.8 1.6" stroke-opacity="0.75"/>
<polyline points="25.8,232.2 30.0,238.5 34.3,245.5 37.8,253.9 41.3,262.4 45.5,269.4 51.2,276.4 58.2,281.3 65.2,285.0 77.4,291.0 86.8,294.2 101.3,297.2 116.0,295.6 124.8,290.6 130.0,286.2" stroke="#b4a8c4" stroke-width="0.85" stroke-dasharray="1.8 1.6" stroke-opacity="0.75"/>
<polyline points="25.8,291.8 37.1,284.8 51.2,277.1" stroke="#b4a8c4" stroke-width="0.85" stroke-dasharray="1.8 1.6" stroke-opacity="0.75"/>
</g>
<defs><linearGradient id="g2" x1="0" y1="1" x2="0" y2="0">
<stop offset="0" stop-color="#4623aa"/>
<stop offset="0.02" stop-color="#4a26b6"/>
<stop offset="0.03" stop-color="#4e29c2"/>
<stop offset="0.05" stop-color="#512cce"/>
<stop offset="0.06" stop-color="#5032d6"/>
<stop offset="0.08" stop-color="#4e38de"/>
<stop offset="0.09" stop-color="#4b3ee5"/>
<stop offset="0.11" stop-color="#4744ea"/>
<stop offset="0.12" stop-color="#424aed"/>
<stop offset="0.14" stop-color="#3d51f0"/>
<stop offset="0.16" stop-color="#3857f2"/>
<stop offset="0.17" stop-color="#325cf4"/>
<stop offset="0.19" stop-color="#2d62f5"/>
<stop offset="0.2" stop-color="#2767f6"/>
<stop offset="0.22" stop-color="#226cf7"/>
<stop offset="0.23" stop-color="#1d71f8"/>
<stop offset="0.25" stop-color="#1a77f6"/>
<stop offset="0.27" stop-color="#167cf4"/>
<stop offset="0.28" stop-color="#1381f2"/>
<stop offset="0.3" stop-color="#1086f0"/>
<stop offset="0.31" stop-color="#0e8aee"/>
<stop offset="0.33" stop-color="#0d8eec"/>
<stop offset="0.34" stop-color="#0c92eb"/>
<stop offset="0.36" stop-color="#0b96e9"/>
<stop offset="0.38" stop-color="#0a9ae7"/>
<stop offset="0.39" stop-color="#0b9ee1"/>
<stop offset="0.41" stop-color="#0ca2db"/>
<stop offset="0.42" stop-color="#0da7d4"/>
<stop offset="0.44" stop-color="#0eabcd"/>
<stop offset="0.45" stop-color="#0fafc7"/>
<stop offset="0.47" stop-color="#10b1c2"/>
<stop offset="0.48" stop-color="#11b3bd"/>
<stop offset="0.5" stop-color="#12b5b8"/>
<stop offset="0.52" stop-color="#13b7b3"/>
<stop offset="0.53" stop-color="#14b9ae"/>
<stop offset="0.55" stop-color="#14bca3"/>
<stop offset="0.56" stop-color="#14c098"/>
<stop offset="0.58" stop-color="#14c38d"/>
<stop offset="0.59" stop-color="#17c484"/>
<stop offset="0.61" stop-color="#1ac67a"/>
<stop offset="0.62" stop-color="#1dc871"/>
<stop offset="0.64" stop-color="#31c863"/>
<stop offset="0.66" stop-color="#4dc854"/>
<stop offset="0.67" stop-color="#69c844"/>
<stop offset="0.69" stop-color="#82c73a"/>
<stop offset="0.7" stop-color="#96c535"/>
<stop offset="0.72" stop-color="#aac231"/>
<stop offset="0.73" stop-color="#bec02c"/>
<stop offset="0.75" stop-color="#d2be28"/>
<stop offset="0.77" stop-color="#d9bb27"/>
<stop offset="0.78" stop-color="#e0b826"/>
<stop offset="0.8" stop-color="#e7b525"/>
<stop offset="0.81" stop-color="#edb224"/>
<stop offset="0.83" stop-color="#f4af23"/>
<stop offset="0.84" stop-color="#f6b422"/>
<stop offset="0.86" stop-color="#f7b921"/>
<stop offset="0.88" stop-color="#f8bf20"/>
<stop offset="0.89" stop-color="#f9c51f"/>
<stop offset="0.91" stop-color="#facb1d"/>
<stop offset="0.92" stop-color="#fad21c"/>
<stop offset="0.94" stop-color="#fad91a"/>
<stop offset="0.95" stop-color="#fae019"/>
<stop offset="0.97" stop-color="#fae717"/>
<stop offset="0.98" stop-color="#faee16"/>
<stop offset="1" stop-color="#faf514"/>
</linearGradient></defs>
<rect x="242" y="196.4" width="8.3" height="126.3" fill="url(#g2)"/>
<line x1="249" x2="250.3" y1="315.54" y2="315.54" stroke="#262626" stroke-width="0.5"/>
<text x="252.9" y="315.84" font-size="7" fill="#3a3a3a" dominant-baseline="central">0.1</text>
<line x1="249" x2="250.3" y1="297.65" y2="297.65" stroke="#262626" stroke-width="0.5"/>
<text x="252.9" y="297.95" font-size="7" fill="#3a3a3a" dominant-baseline="central">0.2</text>
<line x1="249" x2="250.3" y1="279.77" y2="279.77" stroke="#262626" stroke-width="0.5"/>
<text x="252.9" y="280.07" font-size="7" fill="#3a3a3a" dominant-baseline="central">0.3</text>
<line x1="249" x2="250.3" y1="261.88" y2="261.88" stroke="#262626" stroke-width="0.5"/>
<text x="252.9" y="262.18" font-size="7" fill="#3a3a3a" dominant-baseline="central">0.4</text>
<line x1="249" x2="250.3" y1="243.99" y2="243.99" stroke="#262626" stroke-width="0.5"/>
<text x="252.9" y="244.29" font-size="7" fill="#3a3a3a" dominant-baseline="central">0.5</text>
<line x1="249" x2="250.3" y1="226.1" y2="226.1" stroke="#262626" stroke-width="0.5"/>
<text x="252.9" y="226.4" font-size="7" fill="#3a3a3a" dominant-baseline="central">0.6</text>
<line x1="249" x2="250.3" y1="208.21" y2="208.21" stroke="#262626" stroke-width="0.5"/>
<text x="252.9" y="208.51" font-size="7" fill="#3a3a3a" dominant-baseline="central">0.7</text>
<text transform="translate(270.5 259.55) rotate(-90)" font-size="6.6" fill="#262626" text-anchor="middle">AOT</text>
<text x="131.45" y="193.6" font-size="8.8" font-weight="bold" text-anchor="middle" fill="#000">27-01-2023 23UT</text>
<text x="32.84" y="332.5" font-size="8" fill="#303030" text-anchor="middle">28</text>
<text x="61.02" y="332.5" font-size="8" fill="#303030" text-anchor="middle">30</text>
<text x="89.19" y="332.5" font-size="8" fill="#303030" text-anchor="middle">32</text>
<text x="117.36" y="332.5" font-size="8" fill="#303030" text-anchor="middle">34</text>
<text x="145.54" y="332.5" font-size="8" fill="#303030" text-anchor="middle">36</text>
<text x="173.71" y="332.5" font-size="8" fill="#303030" text-anchor="middle">38</text>
<text x="201.88" y="332.5" font-size="8" fill="#303030" text-anchor="middle">40</text>
<text x="230.06" y="332.5" font-size="8" fill="#303030" text-anchor="middle">42</text>
<text x="131.45" y="343.6" font-size="8.7" fill="#202020" text-anchor="middle">longitude [degree]</text>
<text x="23.3" y="301.95" font-size="8" fill="#303030" text-anchor="end" dominant-baseline="central">34</text>
<text x="23.3" y="273.88" font-size="8" fill="#303030" text-anchor="end" dominant-baseline="central">36</text>
<text x="23.3" y="245.82" font-size="8" fill="#303030" text-anchor="end" dominant-baseline="central">38</text>
<text x="23.3" y="217.75" font-size="8" fill="#303030" text-anchor="end" dominant-baseline="central">40</text>
<text transform="translate(12.3 259.55) rotate(-90)" font-size="8.7" fill="#202020" text-anchor="middle">latitude [degree]</text>
<g shape-rendering="crispEdges">
<rect x="301.3" y="198.1" width="59.24" height="6.91" fill="#424eee"/>
<rect x="360.24" y="198.1" width="33.98" height="6.91" fill="#4a40e8"/>
<rect x="393.92" y="198.1" width="8.72" height="6.91" fill="#2866f6"/>
<rect x="402.34" y="198.1" width="17.14" height="6.91" fill="#1680f3"/>
<rect x="419.18" y="198.1" width="8.72" height="6.91" fill="#0f93ec"/>
<rect x="427.6" y="198.1" width="8.72" height="6.91" fill="#0da0e4"/>
<rect x="436.02" y="198.1" width="8.72" height="6.91" fill="#12b4b9"/>
<rect x="444.44" y="198.1" width="17.14" height="6.91" fill="#16be9e"/>
<rect x="461.28" y="198.1" width="8.72" height="6.91" fill="#12b4b9"/>
<rect x="469.7" y="198.1" width="8.72" height="6.91" fill="#0eaad6"/>
<rect x="478.12" y="198.1" width="8.72" height="6.91" fill="#0da0e4"/>
<rect x="486.54" y="198.1" width="8.72" height="6.91" fill="#0f93ec"/>
<rect x="494.96" y="198.1" width="17.14" height="6.91" fill="#1680f3"/>
<rect x="301.3" y="204.71" width="17.14" height="6.91" fill="#424eee"/>
<rect x="318.14" y="204.71" width="50.82" height="6.91" fill="#4a40e8"/>
<rect x="368.66" y="204.71" width="8.72" height="6.91" fill="#522dd0"/>
<rect x="377.08" y="204.71" width="8.72" height="6.91" fill="#4a40e8"/>
<rect x="385.5" y="204.71" width="8.72" height="6.91" fill="#424eee"/>
<rect x="393.92" y="204.71" width="8.72" height="6.91" fill="#2866f6"/>
<rect x="402.34" y="204.71" width="25.56" height="6.91" fill="#0f93ec"/>
<rect x="427.6" y="204.71" width="8.72" height="6.91" fill="#0eaad6"/>
<rect x="436.02" y="204.71" width="8.72" height="6.91" fill="#12b4b9"/>
<rect x="444.44" y="204.71" width="25.56" height="6.91" fill="#0eaad6"/>
<rect x="469.7" y="204.71" width="17.14" height="6.91" fill="#0da0e4"/>
<rect x="486.54" y="204.71" width="8.72" height="6.91" fill="#0f93ec"/>
<rect x="494.96" y="204.71" width="17.14" height="6.91" fill="#1680f3"/>
<rect x="301.3" y="211.32" width="8.72" height="6.91" fill="#424eee"/>
<rect x="309.72" y="211.32" width="8.72" height="6.91" fill="#4a40e8"/>
<rect x="318.14" y="211.32" width="50.82" height="6.91" fill="#522dd0"/>
<rect x="368.66" y="211.32" width="17.14" height="6.91" fill="#4a40e8"/>
<rect x="385.5" y="211.32" width="8.72" height="6.91" fill="#2866f6"/>
<rect x="393.92" y="211.32" width="8.72" height="6.91" fill="#1680f3"/>
<rect x="402.34" y="211.32" width="17.14" height="6.91" fill="#0f93ec"/>
<rect x="419.18" y="211.32" width="8.72" height="6.91" fill="#0da0e4"/>
<rect x="427.6" y="211.32" width="8.72" height="6.91" fill="#0eaad6"/>
<rect x="436.02" y="211.32" width="8.72" height="6.91" fill="#12b4b9"/>
<rect x="444.44" y="211.32" width="17.14" height="6.91" fill="#0eaad6"/>
<rect x="461.28" y="211.32" width="25.56" height="6.91" fill="#0da0e4"/>
<rect x="486.54" y="211.32" width="8.72" height="6.91" fill="#0f93ec"/>
<rect x="494.96" y="211.32" width="17.14" height="6.91" fill="#1680f3"/>
<rect x="301.3" y="217.93" width="8.72" height="6.91" fill="#424eee"/>
<rect x="309.72" y="217.93" width="8.72" height="6.91" fill="#4a40e8"/>
<rect x="318.14" y="217.93" width="17.14" height="6.91" fill="#522dd0"/>
<rect x="334.98" y="217.93" width="17.14" height="6.91" fill="#4623aa"/>
<rect x="351.82" y="217.93" width="17.14" height="6.91" fill="#522dd0"/>
<rect x="368.66" y="217.93" width="8.72" height="6.91" fill="#4a40e8"/>
<rect x="377.08" y="217.93" width="8.72" height="6.91" fill="#424eee"/>
<rect x="385.5" y="217.93" width="8.72" height="6.91" fill="#2866f6"/>
<rect x="393.92" y="217.93" width="25.56" height="6.91" fill="#0f93ec"/>
<rect x="419.18" y="217.93" width="8.72" height="6.91" fill="#0da0e4"/>
<rect x="427.6" y="217.93" width="33.98" height="6.91" fill="#0eaad6"/>
<rect x="461.28" y="217.93" width="25.56" height="6.91" fill="#0da0e4"/>
<rect x="486.54" y="217.93" width="8.72" height="6.91" fill="#0f93ec"/>
<rect x="494.96" y="217.93" width="17.14" height="6.91" fill="#1680f3"/>
<rect x="301.3" y="224.54" width="8.72" height="6.91" fill="#4a40e8"/>
<rect x="309.72" y="224.54" width="25.56" height="6.91" fill="#522dd0"/>
<rect x="334.98" y="224.54" width="25.56" height="6.91" fill="#4623aa"/>
<rect x="360.24" y="224.54" width="8.72" height="6.91" fill="#522dd0"/>
<rect x="368.66" y="224.54" width="8.72" height="6.91" fill="#424eee"/>
<rect x="377.08" y="224.54" width="8.72" height="6.91" fill="#2866f6"/>
<rect x="385.5" y="224.54" width="8.72" height="6.91" fill="#1680f3"/>
<rect x="393.92" y="224.54" width="25.56" height="6.91" fill="#0f93ec"/>
<rect x="419.18" y="224.54" width="8.72" height="6.91" fill="#0eaad6"/>
<rect x="427.6" y="224.54" width="33.98" height="6.91" fill="#12b4b9"/>
<rect x="461.28" y="224.54" width="25.56" height="6.91" fill="#0eaad6"/>
<rect x="486.54" y="224.54" width="8.72" height="6.91" fill="#0f93ec"/>
<rect x="494.96" y="224.54" width="17.14" height="6.91" fill="#1680f3"/>
<rect x="301.3" y="231.15" width="17.14" height="6.91" fill="#4a40e8"/>
<rect x="318.14" y="231.15" width="17.14" height="6.91" fill="#522dd0"/>
<rect x="334.98" y="231.15" width="8.72" height="6.91" fill="#4623aa"/>
<rect x="343.4" y="231.15" width="8.72" height="6.91" fill="#522dd0"/>
<rect x="351.82" y="231.15" width="8.72" height="6.91" fill="#4a40e8"/>
<rect x="360.24" y="231.15" width="8.72" height="6.91" fill="#424eee"/>
<rect x="368.66" y="231.15" width="8.72" height="6.91" fill="#2866f6"/>
<rect x="377.08" y="231.15" width="8.72" height="6.91" fill="#1680f3"/>
<rect x="385.5" y="231.15" width="33.98" height="6.91" fill="#0f93ec"/>
<rect x="419.18" y="231.15" width="17.14" height="6.91" fill="#0eaad6"/>
<rect x="436.02" y="231.15" width="8.72" height="6.91" fill="#12b4b9"/>
<rect x="444.44" y="231.15" width="25.56" height="6.91" fill="#16be9e"/>
<rect x="469.7" y="231.15" width="8.72" height="6.91" fill="#12b4b9"/>
<rect x="478.12" y="231.15" width="8.72" height="6.91" fill="#0eaad6"/>
<rect x="486.54" y="231.15" width="17.14" height="6.91" fill="#0f93ec"/>
<rect x="503.38" y="231.15" width="8.72" height="6.91" fill="#1680f3"/>
<rect x="301.3" y="237.76" width="8.72" height="6.91" fill="#424eee"/>
<rect x="309.72" y="237.76" width="8.72" height="6.91" fill="#4a40e8"/>
<rect x="318.14" y="237.76" width="33.98" height="6.91" fill="#522dd0"/>
<rect x="351.82" y="237.76" width="8.72" height="6.91" fill="#4a40e8"/>
<rect x="360.24" y="237.76" width="8.72" height="6.91" fill="#424eee"/>
<rect x="368.66" y="237.76" width="8.72" height="6.91" fill="#2866f6"/>
<rect x="377.08" y="237.76" width="8.72" height="6.91" fill="#1680f3"/>
<rect x="385.5" y="237.76" width="25.56" height="6.91" fill="#0f93ec"/>
<rect x="410.76" y="237.76" width="25.56" height="6.91" fill="#0eaad6"/>
<rect x="436.02" y="237.76" width="8.72" height="6.91" fill="#12b4b9"/>
<rect x="444.44" y="237.76" width="8.72" height="6.91" fill="#16be9e"/>
<rect x="452.86" y="237.76" width="17.14" height="6.91" fill="#1cc67d"/>
<rect x="469.7" y="237.76" width="8.72" height="6.91" fill="#16be9e"/>
<rect x="478.12" y="237.76" width="8.72" height="6.91" fill="#12b4b9"/>
<rect x="486.54" y="237.76" width="8.72" height="6.91" fill="#0eaad6"/>
<rect x="494.96" y="237.76" width="17.14" height="6.91" fill="#0f93ec"/>
<rect x="301.3" y="244.37" width="8.72" height="6.91" fill="#424eee"/>
<rect x="309.72" y="244.37" width="8.72" height="6.91" fill="#4a40e8"/>
<rect x="318.14" y="244.37" width="33.98" height="6.91" fill="#522dd0"/>
<rect x="351.82" y="244.37" width="8.72" height="6.91" fill="#4a40e8"/>
<rect x="360.24" y="244.37" width="8.72" height="6.91" fill="#2866f6"/>
<rect x="368.66" y="244.37" width="25.56" height="6.91" fill="#1680f3"/>
<rect x="393.92" y="244.37" width="8.72" height="6.91" fill="#0f93ec"/>
<rect x="402.34" y="244.37" width="8.72" height="6.91" fill="#0da0e4"/>
<rect x="410.76" y="244.37" width="17.14" height="6.91" fill="#12b4b9"/>
<rect x="427.6" y="244.37" width="67.66" height="6.91" fill="#16be9e"/>
<rect x="494.96" y="244.37" width="8.72" height="6.91" fill="#12b4b9"/>
<rect x="503.38" y="244.37" width="8.72" height="6.91" fill="#0f93ec"/>
<rect x="301.3" y="250.98" width="8.72" height="6.91" fill="#424eee"/>
<rect x="309.72" y="250.98" width="17.14" height="6.91" fill="#4a40e8"/>
<rect x="326.56" y="250.98" width="17.14" height="6.91" fill="#522dd0"/>
<rect x="343.4" y="250.98" width="8.72" height="6.91" fill="#4a40e8"/>
<rect x="351.82" y="250.98" width="8.72" height="6.91" fill="#424eee"/>
<rect x="360.24" y="250.98" width="8.72" height="6.91" fill="#2866f6"/>
<rect x="368.66" y="250.98" width="17.14" height="6.91" fill="#1680f3"/>
<rect x="385.5" y="250.98" width="8.72" height="6.91" fill="#0f93ec"/>
<rect x="393.92" y="250.98" width="8.72" height="6.91" fill="#0da0e4"/>
<rect x="402.34" y="250.98" width="8.72" height="6.91" fill="#0eaad6"/>
<rect x="410.76" y="250.98" width="25.56" height="6.91" fill="#16be9e"/>
<rect x="436.02" y="250.98" width="17.14" height="6.91" fill="#1cc67d"/>
<rect x="452.86" y="250.98" width="42.4" height="6.91" fill="#16be9e"/>
<rect x="494.96" y="250.98" width="8.72" height="6.91" fill="#12b4b9"/>
<rect x="503.38" y="250.98" width="8.72" height="6.91" fill="#0eaad6"/>
<rect x="301.3" y="257.59" width="17.14" height="6.91" fill="#424eee"/>
<rect x="318.14" y="257.59" width="33.98" height="6.91" fill="#4a40e8"/>
<rect x="351.82" y="257.59" width="8.72" height="6.91" fill="#424eee"/>
<rect x="360.24" y="257.59" width="8.72" height="6.91" fill="#2866f6"/>
<rect x="368.66" y="257.59" width="17.14" height="6.91" fill="#1680f3"/>
<rect x="385.5" y="257.59" width="8.72" height="6.91" fill="#0f93ec"/>
<rect x="393.92" y="257.59" width="8.72" height="6.91" fill="#0eaad6"/>
<rect x="402.34" y="257.59" width="8.72" height="6.91" fill="#16be9e"/>
<rect x="410.76" y="257.59" width="8.72" height="6.91" fill="#1cc67d"/>
<rect x="419.18" y="257.59" width="59.24" height="6.91" fill="#16be9e"/>
<rect x="478.12" y="257.59" width="8.72" height="6.91" fill="#1cc67d"/>
<rect x="486.54" y="257.59" width="17.14" height="6.91" fill="#16be9e"/>
<rect x="503.38" y="257.59" width="8.72" height="6.91" fill="#12b4b9"/>
<rect x="301.3" y="264.21" width="25.56" height="6.91" fill="#424eee"/>
<rect x="326.56" y="264.21" width="25.56" height="6.91" fill="#4a40e8"/>
<rect x="351.82" y="264.21" width="8.72" height="6.91" fill="#424eee"/>
<rect x="360.24" y="264.21" width="8.72" height="6.91" fill="#2866f6"/>
<rect x="368.66" y="264.21" width="17.14" height="6.91" fill="#1680f3"/>
<rect x="385.5" y="264.21" width="8.72" height="6.91" fill="#0f93ec"/>
<rect x="393.92" y="264.21" width="8.72" height="6.91" fill="#0eaad6"/>
<rect x="402.34" y="264.21" width="17.14" height="6.91" fill="#1cc67d"/>
<rect x="419.18" y="264.21" width="59.24" height="6.91" fill="#16be9e"/>
<rect x="478.12" y="264.21" width="8.72" height="6.91" fill="#1cc67d"/>
<rect x="486.54" y="264.21" width="17.14" height="6.91" fill="#16be9e"/>
<rect x="503.38" y="264.21" width="8.72" height="6.91" fill="#12b4b9"/>
<rect x="301.3" y="270.82" width="33.98" height="6.91" fill="#424eee"/>
<rect x="334.98" y="270.82" width="17.14" height="6.91" fill="#4a40e8"/>
<rect x="351.82" y="270.82" width="8.72" height="6.91" fill="#424eee"/>
<rect x="360.24" y="270.82" width="8.72" height="6.91" fill="#2866f6"/>
<rect x="368.66" y="270.82" width="8.72" height="6.91" fill="#1680f3"/>
<rect x="377.08" y="270.82" width="8.72" height="6.91" fill="#0f93ec"/>
<rect x="385.5" y="270.82" width="8.72" height="6.91" fill="#0eaad6"/>
<rect x="393.92" y="270.82" width="8.72" height="6.91" fill="#64ca46"/>
<rect x="402.34" y="270.82" width="8.72" height="6.91" fill="#1cc67d"/>
<rect x="410.76" y="270.82" width="25.56" height="6.91" fill="#16be9e"/>
<rect x="436.02" y="270.82" width="25.56" height="6.91" fill="#12b4b9"/>
<rect x="461.28" y="270.82" width="33.98" height="6.91" fill="#16be9e"/>
<rect x="494.96" y="270.82" width="8.72" height="6.91" fill="#12b4b9"/>
<rect x="503.38" y="270.82" width="8.72" height="6.91" fill="#0eaad6"/>
<rect x="301.3" y="277.43" width="59.24" height="6.91" fill="#424eee"/>
<rect x="360.24" y="277.43" width="8.72" height="6.91" fill="#2866f6"/>
<rect x="368.66" y="277.43" width="8.72" height="6.91" fill="#1680f3"/>
<rect x="377.08" y="277.43" width="8.72" height="6.91" fill="#0da0e4"/>
<rect x="385.5" y="277.43" width="8.72" height="6.91" fill="#16be9e"/>
<rect x="393.92" y="277.43" width="8.72" height="6.91" fill="#32ca64"/>
<rect x="402.34" y="277.43" width="8.72" height="6.91" fill="#1cc67d"/>
<rect x="410.76" y="277.43" width="8.72" height="6.91" fill="#16be9e"/>
<rect x="419.18" y="277.43" width="8.72" height="6.91" fill="#12b4b9"/>
<rect x="427.6" y="277.43" width="25.56" height="6.91" fill="#0eaad6"/>
<rect x="452.86" y="277.43" width="17.14" height="6.91" fill="#0da0e4"/>
<rect x="469.7" y="277.43" width="25.56" height="6.91" fill="#0eaad6"/>
<rect x="494.96" y="277.43" width="17.14" height="6.91" fill="#0da0e4"/>
<rect x="301.3" y="284.04" width="33.98" height="6.91" fill="#424eee"/>
<rect x="334.98" y="284.04" width="8.72" height="6.91" fill="#4a40e8"/>
<rect x="343.4" y="284.04" width="17.14" height="6.91" fill="#424eee"/>
<rect x="360.24" y="284.04" width="8.72" height="6.91" fill="#1680f3"/>
<rect x="368.66" y="284.04" width="8.72" height="6.91" fill="#0f93ec"/>
<rect x="377.08" y="284.04" width="8.72" height="6.91" fill="#0da0e4"/>
<rect x="385.5" y="284.04" width="8.72" height="6.91" fill="#16be9e"/>
<rect x="393.92" y="284.04" width="8.72" height="6.91" fill="#f6b622"/>
<rect x="402.34" y="284.04" width="8.72" height="6.91" fill="#1cc67d"/>
<rect x="410.76" y="284.04" width="8.72" height="6.91" fill="#12b4b9"/>
<rect x="419.18" y="284.04" width="8.72" height="6.91" fill="#0f93ec"/>
<rect x="427.6" y="284.04" width="17.14" height="6.91" fill="#1680f3"/>
<rect x="444.44" y="284.04" width="42.4" height="6.91" fill="#0f93ec"/>
<rect x="486.54" y="284.04" width="17.14" height="6.91" fill="#0da0e4"/>
<rect x="503.38" y="284.04" width="8.72" height="6.91" fill="#12b4b9"/>
<rect x="301.3" y="290.65" width="50.82" height="6.91" fill="#424eee"/>
<rect x="351.82" y="290.65" width="8.72" height="6.91" fill="#2866f6"/>
<rect x="360.24" y="290.65" width="8.72" height="6.91" fill="#1680f3"/>
<rect x="368.66" y="290.65" width="17.14" height="6.91" fill="#0da0e4"/>
<rect x="385.5" y="290.65" width="8.72" height="6.91" fill="#f6b622"/>
<rect x="393.92" y="290.65" width="8.72" height="6.91" fill="#fac81e"/>
<rect x="402.34" y="290.65" width="8.72" height="6.91" fill="#1cc67d"/>
<rect x="410.76" y="290.65" width="8.72" height="6.91" fill="#0eaad6"/>
<rect x="419.18" y="290.65" width="8.72" height="6.91" fill="#0f93ec"/>
<rect x="427.6" y="290.65" width="42.4" height="6.91" fill="#1680f3"/>
<rect x="469.7" y="290.65" width="17.14" height="6.91" fill="#2866f6"/>
<rect x="486.54" y="290.65" width="8.72" height="6.91" fill="#0f93ec"/>
<rect x="494.96" y="290.65" width="8.72" height="6.91" fill="#0da0e4"/>
<rect x="503.38" y="290.65" width="8.72" height="6.91" fill="#16be9e"/>
<rect x="301.3" y="297.26" width="50.82" height="6.91" fill="#424eee"/>
<rect x="351.82" y="297.26" width="8.72" height="6.91" fill="#2866f6"/>
<rect x="360.24" y="297.26" width="8.72" height="6.91" fill="#1680f3"/>
<rect x="368.66" y="297.26" width="8.72" height="6.91" fill="#0da0e4"/>
<rect x="377.08" y="297.26" width="8.72" height="6.91" fill="#12b4b9"/>
<rect x="385.5" y="297.26" width="17.14" height="6.91" fill="#fade19"/>
<rect x="402.34" y="297.26" width="8.72" height="6.91" fill="#1cc67d"/>
<rect x="410.76" y="297.26" width="8.72" height="6.91" fill="#0eaad6"/>
<rect x="419.18" y="297.26" width="8.72" height="6.91" fill="#0f93ec"/>
<rect x="427.6" y="297.26" width="42.4" height="6.91" fill="#1680f3"/>
<rect x="469.7" y="297.26" width="8.72" height="6.91" fill="#2866f6"/>
<rect x="478.12" y="297.26" width="8.72" height="6.91" fill="#424eee"/>
<rect x="486.54" y="297.26" width="8.72" height="6.91" fill="#1680f3"/>
<rect x="494.96" y="297.26" width="8.72" height="6.91" fill="#0f93ec"/>
<rect x="503.38" y="297.26" width="8.72" height="6.91" fill="#0eaad6"/>
<rect x="301.3" y="303.87" width="50.82" height="6.91" fill="#424eee"/>
<rect x="351.82" y="303.87" width="8.72" height="6.91" fill="#1680f3"/>
<rect x="360.24" y="303.87" width="8.72" height="6.91" fill="#0f93ec"/>
<rect x="368.66" y="303.87" width="8.72" height="6.91" fill="#0da0e4"/>
<rect x="377.08" y="303.87" width="8.72" height="6.91" fill="#64ca46"/>
<rect x="385.5" y="303.87" width="8.72" height="6.91" fill="#faf514"/>
<rect x="393.92" y="303.87" width="8.72" height="6.91" fill="#fade19"/>
<rect x="402.34" y="303.87" width="8.72" height="6.91" fill="#1cc67d"/>
<rect x="410.76" y="303.87" width="8.72" height="6.91" fill="#0da0e4"/>
<rect x="419.18" y="303.87" width="8.72" height="6.91" fill="#0f93ec"/>
<rect x="427.6" y="303.87" width="42.4" height="6.91" fill="#1680f3"/>
<rect x="469.7" y="303.87" width="8.72" height="6.91" fill="#2866f6"/>
<rect x="478.12" y="303.87" width="8.72" height="6.91" fill="#424eee"/>
<rect x="486.54" y="303.87" width="8.72" height="6.91" fill="#1680f3"/>
<rect x="494.96" y="303.87" width="8.72" height="6.91" fill="#0f93ec"/>
<rect x="503.38" y="303.87" width="8.72" height="6.91" fill="#0da0e4"/>
<rect x="301.3" y="310.48" width="42.4" height="6.91" fill="#424eee"/>
<rect x="343.4" y="310.48" width="8.72" height="6.91" fill="#2866f6"/>
<rect x="351.82" y="310.48" width="8.72" height="6.91" fill="#1680f3"/>
<rect x="360.24" y="310.48" width="8.72" height="6.91" fill="#0da0e4"/>
<rect x="368.66" y="310.48" width="8.72" height="6.91" fill="#16be9e"/>
<rect x="377.08" y="310.48" width="8.72" height="6.91" fill="#fac81e"/>
<rect x="385.5" y="310.48" width="8.72" height="6.91" fill="#faf514"/>
<rect x="393.92" y="310.48" width="8.72" height="6.91" fill="#fade19"/>
<rect x="402.34" y="310.48" width="8.72" height="6.91" fill="#1cc67d"/>
<rect x="410.76" y="310.48" width="8.72" height="6.91" fill="#0da0e4"/>
<rect x="419.18" y="310.48" width="8.72" height="6.91" fill="#0f93ec"/>
<rect x="427.6" y="310.48" width="8.72" height="6.91" fill="#1680f3"/>
<rect x="436.02" y="310.48" width="8.72" height="6.91" fill="#2866f6"/>
<rect x="444.44" y="310.48" width="17.14" height="6.91" fill="#1680f3"/>
<rect x="461.28" y="310.48" width="25.56" height="6.91" fill="#2866f6"/>
<rect x="486.54" y="310.48" width="17.14" height="6.91" fill="#1680f3"/>
<rect x="503.38" y="310.48" width="8.72" height="6.91" fill="#0f93ec"/>
<rect x="301.3" y="317.09" width="42.4" height="6.91" fill="#424eee"/>
<rect x="343.4" y="317.09" width="8.72" height="6.91" fill="#2866f6"/>
<rect x="351.82" y="317.09" width="8.72" height="6.91" fill="#0f93ec"/>
<rect x="360.24" y="317.09" width="8.72" height="6.91" fill="#12b4b9"/>
<rect x="368.66" y="317.09" width="8.72" height="6.91" fill="#f6b622"/>
<rect x="377.08" y="317.09" width="8.72" height="6.91" fill="#fade19"/>
<rect x="385.5" y="317.09" width="8.72" height="6.91" fill="#faf514"/>
<rect x="393.92" y="317.09" width="8.72" height="6.91" fill="#fac81e"/>
<rect x="402.34" y="317.09" width="8.72" height="6.91" fill="#1cc67d"/>
<rect x="410.76" y="317.09" width="8.72" height="6.91" fill="#0da0e4"/>
<rect x="419.18" y="317.09" width="8.72" height="6.91" fill="#0f93ec"/>
<rect x="427.6" y="317.09" width="8.72" height="6.91" fill="#1680f3"/>
<rect x="436.02" y="317.09" width="8.72" height="6.91" fill="#2866f6"/>
<rect x="444.44" y="317.09" width="8.72" height="6.91" fill="#1680f3"/>
<rect x="452.86" y="317.09" width="42.4" height="6.91" fill="#2866f6"/>
<rect x="494.96" y="317.09" width="17.14" height="6.91" fill="#1680f3"/>
</g>
<defs><clipPath id="c3"><rect x="301.3" y="198.1" width="210.5" height="125.6"/></clipPath></defs>
<g clip-path="url(#c3)" fill="none">
<polyline points="419.9,198.1 422.0,200.2 425.2,201.2 429.0,200.9 433.2,202.3 438.8,203.7 443.0,204.4 447.2,205.2 452.9,206.1 458.5,205.8 464.1,204.4 472.5,205.1 478.1,205.4 483.7,204.4 490.8,202.3 495.0,200.2 498.5,198.1" stroke="#1c2a80" stroke-width="0.8" stroke-opacity="0.75"/>
<polyline points="309.0,198.1 312.5,200.2 318.1,201.2 323.1,202.0 326.6,202.3 330.8,203.0 337.8,203.0 342.0,202.3 347.6,203.7 353.2,203.7 357.4,200.9 361.6,199.2 363.7,198.1" stroke="#1c2a80" stroke-width="0.8" stroke-opacity="0.75"/>
<polyline points="301.3,205.5 305.5,205.4 308.3,204.8 312.5,205.4 316.7,205.5 320.9,205.2 322.4,204.4 323.1,202.0" stroke="#1c2a80" stroke-width="0.8" stroke-opacity="0.75"/>
<polyline points="323.8,202.3 323.1,205.1 325.2,206.8 328.0,207.9 335.0,208.4 329.4,209.3 322.4,210.0 320.9,212.8 323.8,213.5 316.7,213.9 308.3,213.7 306.2,212.8 306.9,211.4 304.1,212.1 301.3,213.5" stroke="#1c2a80" stroke-width="0.8" stroke-opacity="0.75"/>
<polyline points="301.3,257.4 303.0,256.7 301.3,259.2 304.1,260.2 308.3,260.2 312.5,260.5 309.7,261.6 306.9,263.7 302.7,265.1 301.3,265.4" stroke="#1c2a80" stroke-width="0.8" stroke-opacity="0.75"/>
<polyline points="301.3,265.8 306.9,264.4 309.7,264.8 312.1,263.0 315.3,263.7 319.5,265.4 323.8,265.8 328.0,271.2 331.5,272.1 336.1,272.1 338.5,270.7 342.0,272.1 344.4,266.5 346.2,262.6 350.4,263.0 356.0,264.1 364.4,267.3 368.7,271.1 375.7,274.6 382.7,273.5 386.9,272.3 390.8,270.4 396.7,266.5 401.4,263.7 405.1,264.4 409.4,265.8 411.9,267.0 415.0,266.5 417.8,264.1 422.0,262.3 423.0,266.5 419.2,269.3 417.8,270.7 419.9,273.7 417.8,276.9 417.5,281.6 419.5,283.8 419.9,286.3 418.9,290.2 419.9,293.7 418.3,296.6 415.7,299.3 415.5,301.1 413.6,304.2 411.7,308.9 409.4,313.0 408.0,315.3 407.5,317.8 406.4,319.2 405.4,322.3 405.1,323.7" stroke="#1c2a80" stroke-width="0.8" stroke-opacity="0.75"/>
<polyline points="368.2,288.1 370.3,292.3 375.7,293.7 379.0,293.4 382.7,293.0 387.3,290.2 391.8,288.1 392.5,286.0 397.4,281.8 400.8,279.2 395.3,281.8 391.1,283.5 385.5,283.9 383.0,284.1 377.8,283.4 375.7,286.4 371.5,286.3 368.2,288.1" stroke="#1c2a80" stroke-width="0.8" stroke-opacity="0.75"/>
<polyline points="306.2,270.7 311.1,268.6 311.8,272.1 308.3,276.3 304.1,273.5 306.2,270.7" stroke="#1c2a80" stroke-width="0.8" stroke-opacity="0.75"/>
<polyline points="301.3,209.5 315.3,209.3 329.4,209.5 342.0,209.3 351.8,208.1 361.6,206.2 372.9,204.5 384.1,203.4 393.9,202.7 402.3,202.7 410.8,204.4 426.2,208.4 445.8,215.1 464.1,221.8 479.5,227.4 486.5,230.6 490.8,232.3 500.0,239.4 511.8,245.5" stroke="#b4a8c4" stroke-width="0.85" stroke-dasharray="1.8 1.6" stroke-opacity="0.75"/>
<polyline points="490.8,232.3 480.9,235.1 473.9,237.5 459.9,242.8 444.4,250.4 434.6,255.3 429.0,259.5 426.2,265.1 424.8,270.7 424.8,281.8 424.8,290.9 420.6,300.0 417.1,309.7 414.3,319.5 413.6,323.7" stroke="#b4a8c4" stroke-width="0.85" stroke-dasharray="1.8 1.6" stroke-opacity="0.75"/>
<polyline points="301.3,233.7 305.5,240.0 309.7,246.9 313.2,255.3 316.7,263.7 320.9,270.7 326.6,277.6 333.6,282.5 340.6,286.2 352.7,292.2 362.1,295.4 376.5,298.3 391.1,296.8 400.0,291.7 405.1,287.4" stroke="#b4a8c4" stroke-width="0.85" stroke-dasharray="1.8 1.6" stroke-opacity="0.75"/>
<polyline points="301.3,293.0 312.5,286.0 326.6,278.3" stroke="#b4a8c4" stroke-width="0.85" stroke-dasharray="1.8 1.6" stroke-opacity="0.75"/>
</g>
<defs><linearGradient id="g3" x1="0" y1="1" x2="0" y2="0">
<stop offset="0" stop-color="#4623aa"/>
<stop offset="0.02" stop-color="#4a26b6"/>
<stop offset="0.03" stop-color="#4e29c2"/>
<stop offset="0.05" stop-color="#512cce"/>
<stop offset="0.06" stop-color="#5032d6"/>
<stop offset="0.08" stop-color="#4e38de"/>
<stop offset="0.09" stop-color="#4b3ee5"/>
<stop offset="0.11" stop-color="#4744ea"/>
<stop offset="0.12" stop-color="#424aed"/>
<stop offset="0.14" stop-color="#3d51f0"/>
<stop offset="0.16" stop-color="#3857f2"/>
<stop offset="0.17" stop-color="#325cf4"/>
<stop offset="0.19" stop-color="#2d62f5"/>
<stop offset="0.2" stop-color="#2767f6"/>
<stop offset="0.22" stop-color="#226cf7"/>
<stop offset="0.23" stop-color="#1d71f8"/>
<stop offset="0.25" stop-color="#1a77f6"/>
<stop offset="0.27" stop-color="#167cf4"/>
<stop offset="0.28" stop-color="#1381f2"/>
<stop offset="0.3" stop-color="#1086f0"/>
<stop offset="0.31" stop-color="#0e8aee"/>
<stop offset="0.33" stop-color="#0d8eec"/>
<stop offset="0.34" stop-color="#0c92eb"/>
<stop offset="0.36" stop-color="#0b96e9"/>
<stop offset="0.38" stop-color="#0a9ae7"/>
<stop offset="0.39" stop-color="#0b9ee1"/>
<stop offset="0.41" stop-color="#0ca2db"/>
<stop offset="0.42" stop-color="#0da7d4"/>
<stop offset="0.44" stop-color="#0eabcd"/>
<stop offset="0.45" stop-color="#0fafc7"/>
<stop offset="0.47" stop-color="#10b1c2"/>
<stop offset="0.48" stop-color="#11b3bd"/>
<stop offset="0.5" stop-color="#12b5b8"/>
<stop offset="0.52" stop-color="#13b7b3"/>
<stop offset="0.53" stop-color="#14b9ae"/>
<stop offset="0.55" stop-color="#14bca3"/>
<stop offset="0.56" stop-color="#14c098"/>
<stop offset="0.58" stop-color="#14c38d"/>
<stop offset="0.59" stop-color="#17c484"/>
<stop offset="0.61" stop-color="#1ac67a"/>
<stop offset="0.62" stop-color="#1dc871"/>
<stop offset="0.64" stop-color="#31c863"/>
<stop offset="0.66" stop-color="#4dc854"/>
<stop offset="0.67" stop-color="#69c844"/>
<stop offset="0.69" stop-color="#82c73a"/>
<stop offset="0.7" stop-color="#96c535"/>
<stop offset="0.72" stop-color="#aac231"/>
<stop offset="0.73" stop-color="#bec02c"/>
<stop offset="0.75" stop-color="#d2be28"/>
<stop offset="0.77" stop-color="#d9bb27"/>
<stop offset="0.78" stop-color="#e0b826"/>
<stop offset="0.8" stop-color="#e7b525"/>
<stop offset="0.81" stop-color="#edb224"/>
<stop offset="0.83" stop-color="#f4af23"/>
<stop offset="0.84" stop-color="#f6b422"/>
<stop offset="0.86" stop-color="#f7b921"/>
<stop offset="0.88" stop-color="#f8bf20"/>
<stop offset="0.89" stop-color="#f9c51f"/>
<stop offset="0.91" stop-color="#facb1d"/>
<stop offset="0.92" stop-color="#fad21c"/>
<stop offset="0.94" stop-color="#fad91a"/>
<stop offset="0.95" stop-color="#fae019"/>
<stop offset="0.97" stop-color="#fae717"/>
<stop offset="0.98" stop-color="#faee16"/>
<stop offset="1" stop-color="#faf514"/>
</linearGradient></defs>
<rect x="516.1" y="198.1" width="8.6" height="125.6" fill="url(#g3)"/>
<line x1="523.4" x2="524.7" y1="313.39" y2="313.39" stroke="#262626" stroke-width="0.5"/>
<text x="527.3" y="313.69" font-size="7" fill="#3a3a3a" dominant-baseline="central">0.1</text>
<line x1="523.4" x2="524.7" y1="294.64" y2="294.64" stroke="#262626" stroke-width="0.5"/>
<text x="527.3" y="294.94" font-size="7" fill="#3a3a3a" dominant-baseline="central">0.2</text>
<line x1="523.4" x2="524.7" y1="275.9" y2="275.9" stroke="#262626" stroke-width="0.5"/>
<text x="527.3" y="276.2" font-size="7" fill="#3a3a3a" dominant-baseline="central">0.3</text>
<line x1="523.4" x2="524.7" y1="257.15" y2="257.15" stroke="#262626" stroke-width="0.5"/>
<text x="527.3" y="257.45" font-size="7" fill="#3a3a3a" dominant-baseline="central">0.4</text>
<line x1="523.4" x2="524.7" y1="238.4" y2="238.4" stroke="#262626" stroke-width="0.5"/>
<text x="527.3" y="238.7" font-size="7" fill="#3a3a3a" dominant-baseline="central">0.5</text>
<line x1="523.4" x2="524.7" y1="219.66" y2="219.66" stroke="#262626" stroke-width="0.5"/>
<text x="527.3" y="219.96" font-size="7" fill="#3a3a3a" dominant-baseline="central">0.6</text>
<line x1="523.4" x2="524.7" y1="200.91" y2="200.91" stroke="#262626" stroke-width="0.5"/>
<text x="527.3" y="201.21" font-size="7" fill="#3a3a3a" dominant-baseline="central">0.7</text>
<text transform="translate(544.9 260.9) rotate(-90)" font-size="6.6" fill="#262626" text-anchor="middle">AOT</text>
<text x="406.55" y="194.9" font-size="8.8" font-weight="bold" text-anchor="middle" fill="#000">28-01-2023 5UT</text>
<text x="308.32" y="333.5" font-size="8" fill="#303030" text-anchor="middle">28</text>
<text x="336.38" y="333.5" font-size="8" fill="#303030" text-anchor="middle">30</text>
<text x="364.45" y="333.5" font-size="8" fill="#303030" text-anchor="middle">32</text>
<text x="392.52" y="333.5" font-size="8" fill="#303030" text-anchor="middle">34</text>
<text x="420.58" y="333.5" font-size="8" fill="#303030" text-anchor="middle">36</text>
<text x="448.65" y="333.5" font-size="8" fill="#303030" text-anchor="middle">38</text>
<text x="476.72" y="333.5" font-size="8" fill="#303030" text-anchor="middle">40</text>
<text x="504.78" y="333.5" font-size="8" fill="#303030" text-anchor="middle">42</text>
<text x="406.55" y="344.6" font-size="8.7" fill="#202020" text-anchor="middle">longitude [degree]</text>
<text x="298.8" y="303.07" font-size="8" fill="#303030" text-anchor="end" dominant-baseline="central">34</text>
<text x="298.8" y="275.16" font-size="8" fill="#303030" text-anchor="end" dominant-baseline="central">36</text>
<text x="298.8" y="247.24" font-size="8" fill="#303030" text-anchor="end" dominant-baseline="central">38</text>
<text x="298.8" y="219.33" font-size="8" fill="#303030" text-anchor="end" dominant-baseline="central">40</text>
<text transform="translate(287.8 260.9) rotate(-90)" font-size="8.7" fill="#202020" text-anchor="middle">latitude [degree]</text>
<g shape-rendering="crispEdges">
<rect x="26.5" y="377.8" width="8.75" height="6.92" fill="#424eee"/>
<rect x="34.95" y="377.8" width="34.11" height="6.92" fill="#2866f6"/>
<rect x="68.76" y="377.8" width="8.75" height="6.92" fill="#424eee"/>
<rect x="77.21" y="377.8" width="59.46" height="6.92" fill="#4a40e8"/>
<rect x="136.38" y="377.8" width="8.75" height="6.92" fill="#2866f6"/>
<rect x="144.83" y="377.8" width="8.75" height="6.92" fill="#0f93ec"/>
<rect x="153.28" y="377.8" width="42.56" height="6.92" fill="#0da0e4"/>
<rect x="195.54" y="377.8" width="17.2" height="6.92" fill="#1cc67d"/>
<rect x="212.44" y="377.8" width="8.75" height="6.92" fill="#0eaad6"/>
<rect x="220.9" y="377.8" width="17.2" height="6.92" fill="#0da0e4"/>
<rect x="26.5" y="384.42" width="8.75" height="6.92" fill="#2866f6"/>
<rect x="34.95" y="384.42" width="17.2" height="6.92" fill="#0f93ec"/>
<rect x="51.86" y="384.42" width="8.75" height="6.92" fill="#1680f3"/>
<rect x="60.31" y="384.42" width="8.75" height="6.92" fill="#2866f6"/>
<rect x="68.76" y="384.42" width="8.75" height="6.92" fill="#4a40e8"/>
<rect x="77.21" y="384.42" width="51.01" height="6.92" fill="#522dd0"/>
<rect x="127.92" y="384.42" width="8.75" height="6.92" fill="#4a40e8"/>
<rect x="136.38" y="384.42" width="8.75" height="6.92" fill="#2866f6"/>
<rect x="144.83" y="384.42" width="8.75" height="6.92" fill="#0f93ec"/>
<rect x="153.28" y="384.42" width="25.66" height="6.92" fill="#0da0e4"/>
<rect x="178.64" y="384.42" width="59.46" height="6.92" fill="#0f93ec"/>
<rect x="26.5" y="391.03" width="25.66" height="6.92" fill="#2866f6"/>
<rect x="51.86" y="391.03" width="8.75" height="6.92" fill="#424eee"/>
<rect x="60.31" y="391.03" width="8.75" height="6.92" fill="#4a40e8"/>
<rect x="68.76" y="391.03" width="51.01" height="6.92" fill="#522dd0"/>
<rect x="119.47" y="391.03" width="17.2" height="6.92" fill="#4a40e8"/>
<rect x="136.38" y="391.03" width="8.75" height="6.92" fill="#1680f3"/>
<rect x="144.83" y="391.03" width="34.11" height="6.92" fill="#0f93ec"/>
<rect x="178.64" y="391.03" width="17.2" height="6.92" fill="#1680f3"/>
<rect x="195.54" y="391.03" width="17.2" height="6.92" fill="#0f93ec"/>
<rect x="212.44" y="391.03" width="17.2" height="6.92" fill="#1680f3"/>
<rect x="229.35" y="391.03" width="8.75" height="6.92" fill="#0f93ec"/>
<rect x="26.5" y="397.65" width="34.11" height="6.92" fill="#4a40e8"/>
<rect x="60.31" y="397.65" width="42.56" height="6.92" fill="#522dd0"/>
<rect x="102.57" y="397.65" width="25.66" height="6.92" fill="#4a40e8"/>
<rect x="127.92" y="397.65" width="8.75" height="6.92" fill="#424eee"/>
<rect x="136.38" y="397.65" width="8.75" height="6.92" fill="#0f93ec"/>
<rect x="144.83" y="397.65" width="17.2" height="6.92" fill="#0da0e4"/>
<rect x="161.73" y="397.65" width="8.75" height="6.92" fill="#0eaad6"/>
<rect x="170.18" y="397.65" width="8.75" height="6.92" fill="#0da0e4"/>
<rect x="178.64" y="397.65" width="34.11" height="6.92" fill="#0f93ec"/>
<rect x="212.44" y="397.65" width="17.2" height="6.92" fill="#1680f3"/>
<rect x="229.35" y="397.65" width="8.75" height="6.92" fill="#0f93ec"/>
<rect x="26.5" y="404.26" width="17.2" height="6.92" fill="#4a40e8"/>
<rect x="43.4" y="404.26" width="51.01" height="6.92" fill="#522dd0"/>
<rect x="94.12" y="404.26" width="25.66" height="6.92" fill="#4a40e8"/>
<rect x="119.47" y="404.26" width="8.75" height="6.92" fill="#424eee"/>
<rect x="127.92" y="404.26" width="8.75" height="6.92" fill="#2866f6"/>
<rect x="136.38" y="404.26" width="8.75" height="6.92" fill="#0f93ec"/>
<rect x="144.83" y="404.26" width="8.75" height="6.92" fill="#0eaad6"/>
<rect x="153.28" y="404.26" width="8.75" height="6.92" fill="#16be9e"/>
<rect x="161.73" y="404.26" width="8.75" height="6.92" fill="#1cc67d"/>
<rect x="170.18" y="404.26" width="8.75" height="6.92" fill="#16be9e"/>
<rect x="178.64" y="404.26" width="8.75" height="6.92" fill="#12b4b9"/>
<rect x="187.09" y="404.26" width="8.75" height="6.92" fill="#0eaad6"/>
<rect x="195.54" y="404.26" width="17.2" height="6.92" fill="#0da0e4"/>
<rect x="212.44" y="404.26" width="17.2" height="6.92" fill="#0f93ec"/>
<rect x="229.35" y="404.26" width="8.75" height="6.92" fill="#0da0e4"/>
<rect x="26.5" y="410.88" width="17.2" height="6.92" fill="#4a40e8"/>
<rect x="43.4" y="410.88" width="51.01" height="6.92" fill="#522dd0"/>
<rect x="94.12" y="410.88" width="17.2" height="6.92" fill="#4a40e8"/>
<rect x="111.02" y="410.88" width="17.2" height="6.92" fill="#424eee"/>
<rect x="127.92" y="410.88" width="8.75" height="6.92" fill="#1680f3"/>
<rect x="136.38" y="410.88" width="8.75" height="6.92" fill="#0da0e4"/>
<rect x="144.83" y="410.88" width="8.75" height="6.92" fill="#12b4b9"/>
<rect x="153.28" y="410.88" width="17.2" height="6.92" fill="#1cc67d"/>
<rect x="170.18" y="410.88" width="8.75" height="6.92" fill="#64ca46"/>
<rect x="178.64" y="410.88" width="8.75" height="6.92" fill="#92c536"/>
<rect x="187.09" y="410.88" width="8.75" height="6.92" fill="#64ca46"/>
<rect x="195.54" y="410.88" width="8.75" height="6.92" fill="#16be9e"/>
<rect x="203.99" y="410.88" width="8.75" height="6.92" fill="#0eaad6"/>
<rect x="212.44" y="410.88" width="25.66" height="6.92" fill="#0da0e4"/>
<rect x="26.5" y="417.49" width="17.2" height="6.92" fill="#4a40e8"/>
<rect x="43.4" y="417.49" width="51.01" height="6.92" fill="#522dd0"/>
<rect x="94.12" y="417.49" width="8.75" height="6.92" fill="#4a40e8"/>
<rect x="102.57" y="417.49" width="17.2" height="6.92" fill="#424eee"/>
<rect x="119.47" y="417.49" width="8.75" height="6.92" fill="#2866f6"/>
<rect x="127.92" y="417.49" width="8.75" height="6.92" fill="#1680f3"/>
<rect x="136.38" y="417.49" width="8.75" height="6.92" fill="#0da0e4"/>
<rect x="144.83" y="417.49" width="8.75" height="6.92" fill="#16be9e"/>
<rect x="153.28" y="417.49" width="8.75" height="6.92" fill="#1cc67d"/>
<rect x="161.73" y="417.49" width="8.75" height="6.92" fill="#64ca46"/>
<rect x="170.18" y="417.49" width="8.75" height="6.92" fill="#92c536"/>
<rect x="178.64" y="417.49" width="17.2" height="6.92" fill="#d2be28"/>
<rect x="195.54" y="417.49" width="17.2" height="6.92" fill="#64ca46"/>
<rect x="212.44" y="417.49" width="8.75" height="6.92" fill="#12b4b9"/>
<rect x="220.9" y="417.49" width="8.75" height="6.92" fill="#0eaad6"/>
<rect x="229.35" y="417.49" width="8.75" height="6.92" fill="#0da0e4"/>
<rect x="26.5" y="424.11" width="17.2" height="6.92" fill="#4a40e8"/>
<rect x="43.4" y="424.11" width="51.01" height="6.92" fill="#522dd0"/>
<rect x="94.12" y="424.11" width="17.2" height="6.92" fill="#4a40e8"/>
<rect x="111.02" y="424.11" width="8.75" height="6.92" fill="#424eee"/>
<rect x="119.47" y="424.11" width="8.75" height="6.92" fill="#2866f6"/>
<rect x="127.92" y="424.11" width="8.75" height="6.92" fill="#0f93ec"/>
<rect x="136.38" y="424.11" width="8.75" height="6.92" fill="#0eaad6"/>
<rect x="144.83" y="424.11" width="8.75" height="6.92" fill="#16be9e"/>
<rect x="153.28" y="424.11" width="8.75" height="6.92" fill="#1cc67d"/>
<rect x="161.73" y="424.11" width="8.75" height="6.92" fill="#64ca46"/>
<rect x="170.18" y="424.11" width="8.75" height="6.92" fill="#92c536"/>
<rect x="178.64" y="424.11" width="25.66" height="6.92" fill="#f6b622"/>
<rect x="203.99" y="424.11" width="8.75" height="6.92" fill="#e8b525"/>
<rect x="212.44" y="424.11" width="8.75" height="6.92" fill="#d2be28"/>
<rect x="220.9" y="424.11" width="8.75" height="6.92" fill="#16be9e"/>
<rect x="229.35" y="424.11" width="8.75" height="6.92" fill="#0da0e4"/>
<rect x="26.5" y="430.73" width="8.75" height="6.92" fill="#424eee"/>
<rect x="34.95" y="430.73" width="17.2" height="6.92" fill="#4a40e8"/>
<rect x="51.86" y="430.73" width="42.56" height="6.92" fill="#522dd0"/>
<rect x="94.12" y="430.73" width="17.2" height="6.92" fill="#4a40e8"/>
<rect x="111.02" y="430.73" width="8.75" height="6.92" fill="#424eee"/>
<rect x="119.47" y="430.73" width="8.75" height="6.92" fill="#2866f6"/>
<rect x="127.92" y="430.73" width="8.75" height="6.92" fill="#0f93ec"/>
<rect x="136.38" y="430.73" width="8.75" height="6.92" fill="#12b4b9"/>
<rect x="144.83" y="430.73" width="17.2" height="6.92" fill="#1cc67d"/>
<rect x="161.73" y="430.73" width="25.66" height="6.92" fill="#64ca46"/>
<rect x="187.09" y="430.73" width="42.56" height="6.92" fill="#1cc67d"/>
<rect x="229.35" y="430.73" width="8.75" height="6.92" fill="#16be9e"/>
<rect x="26.5" y="437.34" width="8.75" height="6.92" fill="#424eee"/>
<rect x="34.95" y="437.34" width="25.66" height="6.92" fill="#4a40e8"/>
<rect x="60.31" y="437.34" width="17.2" height="6.92" fill="#522dd0"/>
<rect x="77.21" y="437.34" width="25.66" height="6.92" fill="#4a40e8"/>
<rect x="102.57" y="437.34" width="8.75" height="6.92" fill="#424eee"/>
<rect x="111.02" y="437.34" width="8.75" height="6.92" fill="#2866f6"/>
<rect x="119.47" y="437.34" width="8.75" height="6.92" fill="#1680f3"/>
<rect x="127.92" y="437.34" width="8.75" height="6.92" fill="#0da0e4"/>
<rect x="136.38" y="437.34" width="8.75" height="6.92" fill="#16be9e"/>
<rect x="144.83" y="437.34" width="84.82" height="6.92" fill="#1cc67d"/>
<rect x="229.35" y="437.34" width="8.75" height="6.92" fill="#16be9e"/>
<rect x="26.5" y="443.96" width="8.75" height="6.92" fill="#424eee"/>
<rect x="34.95" y="443.96" width="67.92" height="6.92" fill="#4a40e8"/>
<rect x="102.57" y="443.96" width="8.75" height="6.92" fill="#424eee"/>
<rect x="111.02" y="443.96" width="8.75" height="6.92" fill="#2866f6"/>
<rect x="119.47" y="443.96" width="8.75" height="6.92" fill="#0f93ec"/>
<rect x="127.92" y="443.96" width="8.75" height="6.92" fill="#0da0e4"/>
<rect x="136.38" y="443.96" width="17.2" height="6.92" fill="#16be9e"/>
<rect x="153.28" y="443.96" width="76.37" height="6.92" fill="#1cc67d"/>
<rect x="229.35" y="443.96" width="8.75" height="6.92" fill="#16be9e"/>
<rect x="26.5" y="450.57" width="76.37" height="6.92" fill="#4a40e8"/>
<rect x="102.57" y="450.57" width="8.75" height="6.92" fill="#2866f6"/>
<rect x="111.02" y="450.57" width="8.75" height="6.92" fill="#1680f3"/>
<rect x="119.47" y="450.57" width="8.75" height="6.92" fill="#0f93ec"/>
<rect x="127.92" y="450.57" width="8.75" height="6.92" fill="#0eaad6"/>
<rect x="136.38" y="450.57" width="59.46" height="6.92" fill="#16be9e"/>
<rect x="195.54" y="450.57" width="34.11" height="6.92" fill="#1cc67d"/>
<rect x="229.35" y="450.57" width="8.75" height="6.92" fill="#16be9e"/>
<rect x="26.5" y="457.19" width="76.37" height="6.92" fill="#4a40e8"/>
<rect x="102.57" y="457.19" width="8.75" height="6.92" fill="#2866f6"/>
<rect x="111.02" y="457.19" width="8.75" height="6.92" fill="#1680f3"/>
<rect x="119.47" y="457.19" width="8.75" height="6.92" fill="#0f93ec"/>
<rect x="127.92" y="457.19" width="8.75" height="6.92" fill="#12b4b9"/>
<rect x="136.38" y="457.19" width="8.75" height="6.92" fill="#92c536"/>
<rect x="144.83" y="457.19" width="34.11" height="6.92" fill="#12b4b9"/>
<rect x="178.64" y="457.19" width="25.66" height="6.92" fill="#16be9e"/>
<rect x="203.99" y="457.19" width="25.66" height="6.92" fill="#1cc67d"/>
<rect x="229.35" y="457.19" width="8.75" height="6.92" fill="#16be9e"/>
<rect x="26.5" y="463.81" width="67.92" height="6.92" fill="#4a40e8"/>
<rect x="94.12" y="463.81" width="8.75" height="6.92" fill="#424eee"/>
<rect x="102.57" y="463.81" width="8.75" height="6.92" fill="#2866f6"/>
<rect x="111.02" y="463.81" width="8.75" height="6.92" fill="#0f93ec"/>
<rect x="119.47" y="463.81" width="8.75" height="6.92" fill="#1cc67d"/>
<rect x="127.92" y="463.81" width="8.75" height="6.92" fill="#92c536"/>
<rect x="136.38" y="463.81" width="8.75" height="6.92" fill="#f6b622"/>
<rect x="144.83" y="463.81" width="8.75" height="6.92" fill="#0eaad6"/>
<rect x="153.28" y="463.81" width="25.66" height="6.92" fill="#0da0e4"/>
<rect x="178.64" y="463.81" width="8.75" height="6.92" fill="#0eaad6"/>
<rect x="187.09" y="463.81" width="17.2" height="6.92" fill="#12b4b9"/>
<rect x="203.99" y="463.81" width="34.11" height="6.92" fill="#16be9e"/>
<rect x="26.5" y="470.42" width="59.46" height="6.92" fill="#4a40e8"/>
<rect x="85.66" y="470.42" width="17.2" height="6.92" fill="#424eee"/>
<rect x="102.57" y="470.42" width="8.75" height="6.92" fill="#1680f3"/>
<rect x="111.02" y="470.42" width="8.75" height="6.92" fill="#0da0e4"/>
<rect x="119.47" y="470.42" width="8.75" height="6.92" fill="#1cc67d"/>
<rect x="127.92" y="470.42" width="8.75" height="6.92" fill="#fac81e"/>
<rect x="136.38" y="470.42" width="8.75" height="6.92" fill="#f6b622"/>
<rect x="144.83" y="470.42" width="8.75" height="6.92" fill="#0da0e4"/>
<rect x="153.28" y="470.42" width="8.75" height="6.92" fill="#0f93ec"/>
<rect x="161.73" y="470.42" width="8.75" height="6.92" fill="#1680f3"/>
<rect x="170.18" y="470.42" width="17.2" height="6.92" fill="#0f93ec"/>
<rect x="187.09" y="470.42" width="17.2" height="6.92" fill="#0da0e4"/>
<rect x="203.99" y="470.42" width="8.75" height="6.92" fill="#0eaad6"/>
<rect x="212.44" y="470.42" width="17.2" height="6.92" fill="#12b4b9"/>
<rect x="229.35" y="470.42" width="8.75" height="6.92" fill="#16be9e"/>
<rect x="26.5" y="477.04" width="59.46" height="6.92" fill="#4a40e8"/>
<rect x="85.66" y="477.04" width="8.75" height="6.92" fill="#424eee"/>
<rect x="94.12" y="477.04" width="8.75" height="6.92" fill="#2866f6"/>
<rect x="102.57" y="477.04" width="8.75" height="6.92" fill="#1680f3"/>
<rect x="111.02" y="477.04" width="8.75" height="6.92" fill="#0da0e4"/>
<rect x="119.47" y="477.04" width="8.75" height="6.92" fill="#f6b622"/>
<rect x="127.92" y="477.04" width="8.75" height="6.92" fill="#fade19"/>
<rect x="136.38" y="477.04" width="8.75" height="6.92" fill="#12b4b9"/>
<rect x="144.83" y="477.04" width="8.75" height="6.92" fill="#0da0e4"/>
<rect x="153.28" y="477.04" width="8.75" height="6.92" fill="#0f93ec"/>
<rect x="161.73" y="477.04" width="17.2" height="6.92" fill="#2866f6"/>
<rect x="178.64" y="477.04" width="17.2" height="6.92" fill="#1680f3"/>
<rect x="195.54" y="477.04" width="17.2" height="6.92" fill="#0f93ec"/>
<rect x="212.44" y="477.04" width="17.2" height="6.92" fill="#0da0e4"/>
<rect x="229.35" y="477.04" width="8.75" height="6.92" fill="#0eaad6"/>
<rect x="26.5" y="483.65" width="59.46" height="6.92" fill="#4a40e8"/>
<rect x="85.66" y="483.65" width="8.75" height="6.92" fill="#424eee"/>
<rect x="94.12" y="483.65" width="8.75" height="6.92" fill="#2866f6"/>
<rect x="102.57" y="483.65" width="8.75" height="6.92" fill="#1680f3"/>
<rect x="111.02" y="483.65" width="8.75" height="6.92" fill="#0da0e4"/>
<rect x="119.47" y="483.65" width="8.75" height="6.92" fill="#fac81e"/>
<rect x="127.92" y="483.65" width="8.75" height="6.92" fill="#fade19"/>
<rect x="136.38" y="483.65" width="8.75" height="6.92" fill="#0eaad6"/>
<rect x="144.83" y="483.65" width="8.75" height="6.92" fill="#0f93ec"/>
<rect x="153.28" y="483.65" width="8.75" height="6.92" fill="#1680f3"/>
<rect x="161.73" y="483.65" width="17.2" height="6.92" fill="#424eee"/>
<rect x="178.64" y="483.65" width="17.2" height="6.92" fill="#2866f6"/>
<rect x="195.54" y="483.65" width="8.75" height="6.92" fill="#1680f3"/>
<rect x="203.99" y="483.65" width="17.2" height="6.92" fill="#0f93ec"/>
<rect x="220.9" y="483.65" width="17.2" height="6.92" fill="#0da0e4"/>
<rect x="26.5" y="490.27" width="59.46" height="6.92" fill="#4a40e8"/>
<rect x="85.66" y="490.27" width="8.75" height="6.92" fill="#424eee"/>
<rect x="94.12" y="490.27" width="8.75" height="6.92" fill="#1680f3"/>
<rect x="102.57" y="490.27" width="8.75" height="6.92" fill="#0da0e4"/>
<rect x="111.02" y="490.27" width="8.75" height="6.92" fill="#16be9e"/>
<rect x="119.47" y="490.27" width="8.75" height="6.92" fill="#fade19"/>
<rect x="127.92" y="490.27" width="8.75" height="6.92" fill="#fac81e"/>
<rect x="136.38" y="490.27" width="8.75" height="6.92" fill="#0eaad6"/>
<rect x="144.83" y="490.27" width="8.75" height="6.92" fill="#0f93ec"/>
<rect x="153.28" y="490.27" width="8.75" height="6.92" fill="#1680f3"/>
<rect x="161.73" y="490.27" width="8.75" height="6.92" fill="#424eee"/>
<rect x="170.18" y="490.27" width="8.75" height="6.92" fill="#4a40e8"/>
<rect x="178.64" y="490.27" width="8.75" height="6.92" fill="#424eee"/>
<rect x="187.09" y="490.27" width="17.2" height="6.92" fill="#2866f6"/>
<rect x="203.99" y="490.27" width="17.2" height="6.92" fill="#1680f3"/>
<rect x="220.9" y="490.27" width="17.2" height="6.92" fill="#0f93ec"/>
<rect x="26.5" y="496.88" width="59.46" height="6.92" fill="#4a40e8"/>
<rect x="85.66" y="496.88" width="8.75" height="6.92" fill="#2866f6"/>
<rect x="94.12" y="496.88" width="8.75" height="6.92" fill="#0da0e4"/>
<rect x="102.57" y="496.88" width="8.75" height="6.92" fill="#16be9e"/>
<rect x="111.02" y="496.88" width="8.75" height="6.92" fill="#e8b525"/>
<rect x="119.47" y="496.88" width="8.75" height="6.92" fill="#fade19"/>
<rect x="127.92" y="496.88" width="8.75" height="6.92" fill="#f6b622"/>
<rect x="136.38" y="496.88" width="8.75" height="6.92" fill="#0eaad6"/>
<rect x="144.83" y="496.88" width="8.75" height="6.92" fill="#0f93ec"/>
<rect x="153.28" y="496.88" width="8.75" height="6.92" fill="#1680f3"/>
<rect x="161.73" y="496.88" width="8.75" height="6.92" fill="#424eee"/>
<rect x="170.18" y="496.88" width="8.75" height="6.92" fill="#4a40e8"/>
<rect x="178.64" y="496.88" width="17.2" height="6.92" fill="#424eee"/>
<rect x="195.54" y="496.88" width="17.2" height="6.92" fill="#2866f6"/>
<rect x="212.44" y="496.88" width="17.2" height="6.92" fill="#1680f3"/>
<rect x="229.35" y="496.88" width="8.75" height="6.92" fill="#0f93ec"/>
</g>
<defs><clipPath id="c4"><rect x="26.5" y="377.8" width="211.3" height="125.7"/></clipPath></defs>
<g clip-path="url(#c4)" fill="none">
<polyline points="145.5,377.8 147.6,379.9 150.9,380.9 154.7,380.6 158.9,382.0 164.5,383.4 168.8,384.1 173.0,384.9 178.6,385.8 184.3,385.5 189.9,384.1 198.4,384.8 204.0,385.1 209.6,384.1 216.7,382.0 220.9,379.9 224.4,377.8" stroke="#1c2a80" stroke-width="0.8" stroke-opacity="0.75"/>
<polyline points="34.2,377.8 37.8,379.9 43.4,380.9 48.3,381.7 51.9,382.0 56.1,382.7 63.1,382.7 67.4,382.0 73.0,383.4 78.6,383.4 82.8,380.6 87.1,378.9 89.2,377.8" stroke="#1c2a80" stroke-width="0.8" stroke-opacity="0.75"/>
<polyline points="26.5,385.2 30.7,385.1 33.5,384.5 37.8,385.1 42.0,385.2 46.2,384.9 47.6,384.1 48.3,381.7" stroke="#1c2a80" stroke-width="0.8" stroke-opacity="0.75"/>
<polyline points="49.0,382.0 48.3,384.8 50.4,386.5 53.3,387.6 60.3,388.1 54.7,389.0 47.6,389.7 46.2,392.5 49.0,393.2 42.0,393.6 33.5,393.4 31.4,392.5 32.1,391.1 29.3,391.8 26.5,393.2" stroke="#1c2a80" stroke-width="0.8" stroke-opacity="0.75"/>
<polyline points="26.5,437.2 28.2,436.5 26.5,439.0 29.3,440.0 33.5,440.0 37.8,440.2 35.0,441.3 32.1,443.4 27.9,444.8 26.5,445.1" stroke="#1c2a80" stroke-width="0.8" stroke-opacity="0.75"/>
<polyline points="26.5,445.5 32.1,444.1 35.0,444.6 37.3,442.7 40.6,443.4 44.8,445.1 49.0,445.5 53.3,451.0 56.8,451.8 61.4,451.8 63.8,450.4 67.4,451.8 69.7,446.2 71.6,442.3 75.8,442.7 81.4,443.9 89.9,447.1 94.1,450.8 101.2,454.3 108.2,453.2 112.4,452.1 116.4,450.1 122.3,446.2 126.9,443.4 130.7,444.1 135.0,445.5 137.5,446.8 140.6,446.2 143.4,443.9 147.6,442.0 148.6,446.2 144.8,449.0 143.4,450.4 145.5,453.5 143.4,456.7 143.1,461.3 145.1,463.6 145.5,466.1 144.5,470.0 145.5,473.5 144.0,476.4 141.3,479.1 141.2,480.9 139.2,483.9 137.4,488.7 135.0,492.7 133.6,495.1 133.1,497.6 132.0,499.0 131.0,502.1 130.7,503.5" stroke="#1c2a80" stroke-width="0.8" stroke-opacity="0.75"/>
<polyline points="93.7,467.9 95.8,472.1 101.2,473.5 104.5,473.2 108.2,472.8 112.9,470.0 117.4,467.9 118.1,465.8 123.0,461.6 126.4,458.9 120.9,461.6 116.7,463.3 111.0,463.7 108.5,463.8 103.3,463.1 101.2,466.2 96.9,466.1 93.7,467.9" stroke="#1c2a80" stroke-width="0.8" stroke-opacity="0.75"/>
<polyline points="31.4,450.4 36.4,448.3 37.1,451.8 33.5,456.0 29.3,453.2 31.4,450.4" stroke="#1c2a80" stroke-width="0.8" stroke-opacity="0.75"/>
<polyline points="26.5,389.3 40.6,389.0 54.7,389.3 67.4,389.0 77.2,387.9 87.1,385.9 98.3,384.2 109.6,383.1 119.5,382.4 127.9,382.4 136.4,384.1 151.9,388.1 171.6,394.8 189.9,401.5 205.4,407.1 212.4,410.3 216.7,412.0 226.0,419.1 237.8,425.3" stroke="#b4a8c4" stroke-width="0.85" stroke-dasharray="1.8 1.6" stroke-opacity="0.75"/>
<polyline points="216.7,412.0 206.8,414.8 199.8,417.2 185.7,422.5 170.2,430.2 160.3,435.1 154.7,439.3 151.9,444.8 150.5,450.4 150.5,461.6 150.5,470.7 146.2,479.8 142.7,489.5 139.9,499.3 139.2,503.5" stroke="#b4a8c4" stroke-width="0.85" stroke-dasharray="1.8 1.6" stroke-opacity="0.75"/>
<polyline points="26.5,413.4 30.7,419.7 35.0,426.7 38.5,435.1 42.0,443.4 46.2,450.4 51.9,457.4 58.9,462.3 65.9,465.9 78.1,471.9 87.5,475.1 102.0,478.1 116.7,476.5 125.5,471.5 130.7,467.2" stroke="#b4a8c4" stroke-width="0.85" stroke-dasharray="1.8 1.6" stroke-opacity="0.75"/>
<polyline points="26.5,472.8 37.8,465.8 51.9,458.1" stroke="#b4a8c4" stroke-width="0.85" stroke-dasharray="1.8 1.6" stroke-opacity="0.75"/>
</g>
<defs><linearGradient id="g4" x1="0" y1="1" x2="0" y2="0">
<stop offset="0" stop-color="#4623aa"/>
<stop offset="0.02" stop-color="#4a26b6"/>
<stop offset="0.03" stop-color="#4e29c2"/>
<stop offset="0.05" stop-color="#512cce"/>
<stop offset="0.06" stop-color="#5032d6"/>
<stop offset="0.08" stop-color="#4e38de"/>
<stop offset="0.09" stop-color="#4b3ee5"/>
<stop offset="0.11" stop-color="#4744ea"/>
<stop offset="0.12" stop-color="#424aed"/>
<stop offset="0.14" stop-color="#3d51f0"/>
<stop offset="0.16" stop-color="#3857f2"/>
<stop offset="0.17" stop-color="#325cf4"/>
<stop offset="0.19" stop-color="#2d62f5"/>
<stop offset="0.2" stop-color="#2767f6"/>
<stop offset="0.22" stop-color="#226cf7"/>
<stop offset="0.23" stop-color="#1d71f8"/>
<stop offset="0.25" stop-color="#1a77f6"/>
<stop offset="0.27" stop-color="#167cf4"/>
<stop offset="0.28" stop-color="#1381f2"/>
<stop offset="0.3" stop-color="#1086f0"/>
<stop offset="0.31" stop-color="#0e8aee"/>
<stop offset="0.33" stop-color="#0d8eec"/>
<stop offset="0.34" stop-color="#0c92eb"/>
<stop offset="0.36" stop-color="#0b96e9"/>
<stop offset="0.38" stop-color="#0a9ae7"/>
<stop offset="0.39" stop-color="#0b9ee1"/>
<stop offset="0.41" stop-color="#0ca2db"/>
<stop offset="0.42" stop-color="#0da7d4"/>
<stop offset="0.44" stop-color="#0eabcd"/>
<stop offset="0.45" stop-color="#0fafc7"/>
<stop offset="0.47" stop-color="#10b1c2"/>
<stop offset="0.48" stop-color="#11b3bd"/>
<stop offset="0.5" stop-color="#12b5b8"/>
<stop offset="0.52" stop-color="#13b7b3"/>
<stop offset="0.53" stop-color="#14b9ae"/>
<stop offset="0.55" stop-color="#14bca3"/>
<stop offset="0.56" stop-color="#14c098"/>
<stop offset="0.58" stop-color="#14c38d"/>
<stop offset="0.59" stop-color="#17c484"/>
<stop offset="0.61" stop-color="#1ac67a"/>
<stop offset="0.62" stop-color="#1dc871"/>
<stop offset="0.64" stop-color="#31c863"/>
<stop offset="0.66" stop-color="#4dc854"/>
<stop offset="0.67" stop-color="#69c844"/>
<stop offset="0.69" stop-color="#82c73a"/>
<stop offset="0.7" stop-color="#96c535"/>
<stop offset="0.72" stop-color="#aac231"/>
<stop offset="0.73" stop-color="#bec02c"/>
<stop offset="0.75" stop-color="#d2be28"/>
<stop offset="0.77" stop-color="#d9bb27"/>
<stop offset="0.78" stop-color="#e0b826"/>
<stop offset="0.8" stop-color="#e7b525"/>
<stop offset="0.81" stop-color="#edb224"/>
<stop offset="0.83" stop-color="#f4af23"/>
<stop offset="0.84" stop-color="#f6b422"/>
<stop offset="0.86" stop-color="#f7b921"/>
<stop offset="0.88" stop-color="#f8bf20"/>
<stop offset="0.89" stop-color="#f9c51f"/>
<stop offset="0.91" stop-color="#facb1d"/>
<stop offset="0.92" stop-color="#fad21c"/>
<stop offset="0.94" stop-color="#fad91a"/>
<stop offset="0.95" stop-color="#fae019"/>
<stop offset="0.97" stop-color="#fae717"/>
<stop offset="0.98" stop-color="#faee16"/>
<stop offset="1" stop-color="#faf514"/>
</linearGradient></defs>
<rect x="241.25" y="377.8" width="8.25" height="125.7" fill="url(#g4)"/>
<line x1="248.2" x2="249.5" y1="491.56" y2="491.56" stroke="#262626" stroke-width="0.5"/>
<text x="252.1" y="491.86" font-size="7" fill="#3a3a3a" dominant-baseline="central">0.1</text>
<line x1="248.2" x2="249.5" y1="472.91" y2="472.91" stroke="#262626" stroke-width="0.5"/>
<text x="252.1" y="473.21" font-size="7" fill="#3a3a3a" dominant-baseline="central">0.2</text>
<line x1="248.2" x2="249.5" y1="454.26" y2="454.26" stroke="#262626" stroke-width="0.5"/>
<text x="252.1" y="454.56" font-size="7" fill="#3a3a3a" dominant-baseline="central">0.3</text>
<line x1="248.2" x2="249.5" y1="435.61" y2="435.61" stroke="#262626" stroke-width="0.5"/>
<text x="252.1" y="435.91" font-size="7" fill="#3a3a3a" dominant-baseline="central">0.4</text>
<line x1="248.2" x2="249.5" y1="416.96" y2="416.96" stroke="#262626" stroke-width="0.5"/>
<text x="252.1" y="417.26" font-size="7" fill="#3a3a3a" dominant-baseline="central">0.5</text>
<line x1="248.2" x2="249.5" y1="398.31" y2="398.31" stroke="#262626" stroke-width="0.5"/>
<text x="252.1" y="398.61" font-size="7" fill="#3a3a3a" dominant-baseline="central">0.6</text>
<line x1="248.2" x2="249.5" y1="379.66" y2="379.66" stroke="#262626" stroke-width="0.5"/>
<text x="252.1" y="379.96" font-size="7" fill="#3a3a3a" dominant-baseline="central">0.7</text>
<text transform="translate(269.7 440.65) rotate(-90)" font-size="6.6" fill="#262626" text-anchor="middle">AOT</text>
<text x="132.15" y="374.9" font-size="8.8" font-weight="bold" text-anchor="middle" fill="#000">28-01-2023 11UT</text>
<text x="33.54" y="513.3" font-size="8" fill="#303030" text-anchor="middle">28</text>
<text x="61.72" y="513.3" font-size="8" fill="#303030" text-anchor="middle">30</text>
<text x="89.89" y="513.3" font-size="8" fill="#303030" text-anchor="middle">32</text>
<text x="118.06" y="513.3" font-size="8" fill="#303030" text-anchor="middle">34</text>
<text x="146.24" y="513.3" font-size="8" fill="#303030" text-anchor="middle">36</text>
<text x="174.41" y="513.3" font-size="8" fill="#303030" text-anchor="middle">38</text>
<text x="202.58" y="513.3" font-size="8" fill="#303030" text-anchor="middle">40</text>
<text x="230.76" y="513.3" font-size="8" fill="#303030" text-anchor="middle">42</text>
<text x="132.15" y="524.4" font-size="8.7" fill="#202020" text-anchor="middle">longitude [degree]</text>
<text x="24" y="482.85" font-size="8" fill="#303030" text-anchor="end" dominant-baseline="central">34</text>
<text x="24" y="454.92" font-size="8" fill="#303030" text-anchor="end" dominant-baseline="central">36</text>
<text x="24" y="426.98" font-size="8" fill="#303030" text-anchor="end" dominant-baseline="central">38</text>
<text x="24" y="399.05" font-size="8" fill="#303030" text-anchor="end" dominant-baseline="central">40</text>
<text transform="translate(13 440.65) rotate(-90)" font-size="8.7" fill="#202020" text-anchor="middle">latitude [degree]</text>
<g shape-rendering="crispEdges">
<rect x="299.3" y="377.5" width="8.71" height="6.93" fill="#424eee"/>
<rect x="307.71" y="377.5" width="50.77" height="6.93" fill="#2866f6"/>
<rect x="358.18" y="377.5" width="17.12" height="6.93" fill="#424eee"/>
<rect x="375.01" y="377.5" width="25.54" height="6.93" fill="#4a40e8"/>
<rect x="400.24" y="377.5" width="8.71" height="6.93" fill="#424eee"/>
<rect x="408.66" y="377.5" width="42.36" height="6.93" fill="#2866f6"/>
<rect x="450.72" y="377.5" width="33.95" height="6.93" fill="#424eee"/>
<rect x="484.36" y="377.5" width="17.12" height="6.93" fill="#2866f6"/>
<rect x="501.19" y="377.5" width="8.71" height="6.93" fill="#424eee"/>
<rect x="299.3" y="384.13" width="8.71" height="6.93" fill="#424eee"/>
<rect x="307.71" y="384.13" width="8.71" height="6.93" fill="#1680f3"/>
<rect x="316.12" y="384.13" width="17.12" height="6.93" fill="#0f93ec"/>
<rect x="332.95" y="384.13" width="8.71" height="6.93" fill="#1680f3"/>
<rect x="341.36" y="384.13" width="17.12" height="6.93" fill="#2866f6"/>
<rect x="358.18" y="384.13" width="42.36" height="6.93" fill="#4a40e8"/>
<rect x="400.24" y="384.13" width="8.71" height="6.93" fill="#2866f6"/>
<rect x="408.66" y="384.13" width="8.71" height="6.93" fill="#1680f3"/>
<rect x="417.07" y="384.13" width="25.54" height="6.93" fill="#0f93ec"/>
<rect x="442.3" y="384.13" width="59.18" height="6.93" fill="#1680f3"/>
<rect x="501.19" y="384.13" width="8.71" height="6.93" fill="#2866f6"/>
<rect x="299.3" y="390.76" width="8.71" height="6.93" fill="#424eee"/>
<rect x="307.71" y="390.76" width="8.71" height="6.93" fill="#0f93ec"/>
<rect x="316.12" y="390.76" width="8.71" height="6.93" fill="#0da0e4"/>
<rect x="324.54" y="390.76" width="8.71" height="6.93" fill="#0f93ec"/>
<rect x="332.95" y="390.76" width="17.12" height="6.93" fill="#1680f3"/>
<rect x="349.77" y="390.76" width="8.71" height="6.93" fill="#424eee"/>
<rect x="358.18" y="390.76" width="42.36" height="6.93" fill="#4a40e8"/>
<rect x="400.24" y="390.76" width="8.71" height="6.93" fill="#1680f3"/>
<rect x="408.66" y="390.76" width="8.71" height="6.93" fill="#0f93ec"/>
<rect x="417.07" y="390.76" width="17.12" height="6.93" fill="#0da0e4"/>
<rect x="433.89" y="390.76" width="8.71" height="6.93" fill="#0eaad6"/>
<rect x="442.3" y="390.76" width="33.95" height="6.93" fill="#0da0e4"/>
<rect x="475.95" y="390.76" width="33.95" height="6.93" fill="#0f93ec"/>
<rect x="299.3" y="397.39" width="8.71" height="6.93" fill="#424eee"/>
<rect x="307.71" y="397.39" width="17.12" height="6.93" fill="#0f93ec"/>
<rect x="324.54" y="397.39" width="25.54" height="6.93" fill="#1680f3"/>
<rect x="349.77" y="397.39" width="8.71" height="6.93" fill="#424eee"/>
<rect x="358.18" y="397.39" width="42.36" height="6.93" fill="#4a40e8"/>
<rect x="400.24" y="397.39" width="8.71" height="6.93" fill="#1680f3"/>
<rect x="408.66" y="397.39" width="17.12" height="6.93" fill="#0da0e4"/>
<rect x="425.48" y="397.39" width="17.12" height="6.93" fill="#16be9e"/>
<rect x="442.3" y="397.39" width="8.71" height="6.93" fill="#12b4b9"/>
<rect x="450.72" y="397.39" width="42.36" height="6.93" fill="#0eaad6"/>
<rect x="492.78" y="397.39" width="17.12" height="6.93" fill="#0da0e4"/>
<rect x="299.3" y="404.03" width="59.18" height="6.93" fill="#424eee"/>
<rect x="358.18" y="404.03" width="42.36" height="6.93" fill="#4a40e8"/>
<rect x="400.24" y="404.03" width="8.71" height="6.93" fill="#1680f3"/>
<rect x="408.66" y="404.03" width="8.71" height="6.93" fill="#0f93ec"/>
<rect x="417.07" y="404.03" width="8.71" height="6.93" fill="#0da0e4"/>
<rect x="425.48" y="404.03" width="8.71" height="6.93" fill="#0eaad6"/>
<rect x="433.89" y="404.03" width="50.77" height="6.93" fill="#12b4b9"/>
<rect x="484.36" y="404.03" width="17.12" height="6.93" fill="#16be9e"/>
<rect x="501.19" y="404.03" width="8.71" height="6.93" fill="#12b4b9"/>
<rect x="299.3" y="410.66" width="25.54" height="6.93" fill="#4a40e8"/>
<rect x="324.54" y="410.66" width="42.36" height="6.93" fill="#522dd0"/>
<rect x="366.6" y="410.66" width="33.95" height="6.93" fill="#4a40e8"/>
<rect x="400.24" y="410.66" width="17.12" height="6.93" fill="#0f93ec"/>
<rect x="417.07" y="410.66" width="8.71" height="6.93" fill="#1680f3"/>
<rect x="425.48" y="410.66" width="8.71" height="6.93" fill="#0da0e4"/>
<rect x="433.89" y="410.66" width="8.71" height="6.93" fill="#0eaad6"/>
<rect x="442.3" y="410.66" width="8.71" height="6.93" fill="#16be9e"/>
<rect x="450.72" y="410.66" width="25.54" height="6.93" fill="#e8b525"/>
<rect x="475.95" y="410.66" width="25.54" height="6.93" fill="#1cc67d"/>
<rect x="501.19" y="410.66" width="8.71" height="6.93" fill="#16be9e"/>
<rect x="299.3" y="417.29" width="17.12" height="6.93" fill="#4a40e8"/>
<rect x="316.12" y="417.29" width="50.77" height="6.93" fill="#522dd0"/>
<rect x="366.6" y="417.29" width="33.95" height="6.93" fill="#4a40e8"/>
<rect x="400.24" y="417.29" width="25.54" height="6.93" fill="#1680f3"/>
<rect x="425.48" y="417.29" width="8.71" height="6.93" fill="#0da0e4"/>
<rect x="433.89" y="417.29" width="8.71" height="6.93" fill="#0eaad6"/>
<rect x="442.3" y="417.29" width="8.71" height="6.93" fill="#16be9e"/>
<rect x="450.72" y="417.29" width="8.71" height="6.93" fill="#92c536"/>
<rect x="459.13" y="417.29" width="8.71" height="6.93" fill="#f6b622"/>
<rect x="467.54" y="417.29" width="25.54" height="6.93" fill="#fac81e"/>
<rect x="492.78" y="417.29" width="8.71" height="6.93" fill="#1cc67d"/>
<rect x="501.19" y="417.29" width="8.71" height="6.93" fill="#12b4b9"/>
<rect x="299.3" y="423.92" width="25.54" height="6.93" fill="#4a40e8"/>
<rect x="324.54" y="423.92" width="17.12" height="6.93" fill="#424eee"/>
<rect x="341.36" y="423.92" width="17.12" height="6.93" fill="#4a40e8"/>
<rect x="358.18" y="423.92" width="25.54" height="6.93" fill="#522dd0"/>
<rect x="383.42" y="423.92" width="17.12" height="6.93" fill="#4a40e8"/>
<rect x="400.24" y="423.92" width="8.71" height="6.93" fill="#424eee"/>
<rect x="408.66" y="423.92" width="17.12" height="6.93" fill="#0f93ec"/>
<rect x="425.48" y="423.92" width="8.71" height="6.93" fill="#0da0e4"/>
<rect x="433.89" y="423.92" width="8.71" height="6.93" fill="#0eaad6"/>
<rect x="442.3" y="423.92" width="8.71" height="6.93" fill="#1cc67d"/>
<rect x="450.72" y="423.92" width="8.71" height="6.93" fill="#64ca46"/>
<rect x="459.13" y="423.92" width="8.71" height="6.93" fill="#f6b622"/>
<rect x="467.54" y="423.92" width="25.54" height="6.93" fill="#fade19"/>
<rect x="492.78" y="423.92" width="8.71" height="6.93" fill="#f6b622"/>
<rect x="501.19" y="423.92" width="8.71" height="6.93" fill="#1cc67d"/>
<rect x="299.3" y="430.55" width="59.18" height="6.93" fill="#4a40e8"/>
<rect x="358.18" y="430.55" width="33.95" height="6.93" fill="#522dd0"/>
<rect x="391.83" y="430.55" width="8.71" height="6.93" fill="#4a40e8"/>
<rect x="400.24" y="430.55" width="8.71" height="6.93" fill="#424eee"/>
<rect x="408.66" y="430.55" width="25.54" height="6.93" fill="#0da0e4"/>
<rect x="433.89" y="430.55" width="8.71" height="6.93" fill="#12b4b9"/>
<rect x="442.3" y="430.55" width="8.71" height="6.93" fill="#16be9e"/>
<rect x="450.72" y="430.55" width="8.71" height="6.93" fill="#1cc67d"/>
<rect x="459.13" y="430.55" width="8.71" height="6.93" fill="#d2be28"/>
<rect x="467.54" y="430.55" width="8.71" height="6.93" fill="#fac81e"/>
<rect x="475.95" y="430.55" width="8.71" height="6.93" fill="#fade19"/>
<rect x="484.36" y="430.55" width="17.12" height="6.93" fill="#f6b622"/>
<rect x="501.19" y="430.55" width="8.71" height="6.93" fill="#1cc67d"/>
<rect x="299.3" y="437.18" width="50.77" height="6.93" fill="#4a40e8"/>
<rect x="349.77" y="437.18" width="42.36" height="6.93" fill="#522dd0"/>
<rect x="391.83" y="437.18" width="8.71" height="6.93" fill="#4a40e8"/>
<rect x="400.24" y="437.18" width="8.71" height="6.93" fill="#1680f3"/>
<rect x="408.66" y="437.18" width="33.95" height="6.93" fill="#0da0e4"/>
<rect x="442.3" y="437.18" width="8.71" height="6.93" fill="#0eaad6"/>
<rect x="450.72" y="437.18" width="8.71" height="6.93" fill="#12b4b9"/>
<rect x="459.13" y="437.18" width="8.71" height="6.93" fill="#64ca46"/>
<rect x="467.54" y="437.18" width="17.12" height="6.93" fill="#fade19"/>
<rect x="484.36" y="437.18" width="17.12" height="6.93" fill="#f6b622"/>
<rect x="501.19" y="437.18" width="8.71" height="6.93" fill="#1cc67d"/>
<rect x="299.3" y="443.82" width="42.36" height="6.93" fill="#4a40e8"/>
<rect x="341.36" y="443.82" width="33.95" height="6.93" fill="#522dd0"/>
<rect x="375.01" y="443.82" width="17.12" height="6.93" fill="#4a40e8"/>
<rect x="391.83" y="443.82" width="8.71" height="6.93" fill="#424eee"/>
<rect x="400.24" y="443.82" width="8.71" height="6.93" fill="#2866f6"/>
<rect x="408.66" y="443.82" width="8.71" height="6.93" fill="#0f93ec"/>
<rect x="417.07" y="443.82" width="25.54" height="6.93" fill="#0da0e4"/>
<rect x="442.3" y="443.82" width="8.71" height="6.93" fill="#0eaad6"/>
<rect x="450.72" y="443.82" width="8.71" height="6.93" fill="#16be9e"/>
<rect x="459.13" y="443.82" width="8.71" height="6.93" fill="#32ca64"/>
<rect x="467.54" y="443.82" width="17.12" height="6.93" fill="#f6b622"/>
<rect x="484.36" y="443.82" width="8.71" height="6.93" fill="#d2be28"/>
<rect x="492.78" y="443.82" width="8.71" height="6.93" fill="#64ca46"/>
<rect x="501.19" y="443.82" width="8.71" height="6.93" fill="#1cc67d"/>
<rect x="299.3" y="450.45" width="50.77" height="6.93" fill="#4a40e8"/>
<rect x="349.77" y="450.45" width="8.71" height="6.93" fill="#522dd0"/>
<rect x="358.18" y="450.45" width="33.95" height="6.93" fill="#4a40e8"/>
<rect x="391.83" y="450.45" width="8.71" height="6.93" fill="#424eee"/>
<rect x="400.24" y="450.45" width="8.71" height="6.93" fill="#2866f6"/>
<rect x="408.66" y="450.45" width="8.71" height="6.93" fill="#0f93ec"/>
<rect x="417.07" y="450.45" width="8.71" height="6.93" fill="#0da0e4"/>
<rect x="425.48" y="450.45" width="8.71" height="6.93" fill="#0eaad6"/>
<rect x="433.89" y="450.45" width="25.54" height="6.93" fill="#16be9e"/>
<rect x="459.13" y="450.45" width="8.71" height="6.93" fill="#1cc67d"/>
<rect x="467.54" y="450.45" width="17.12" height="6.93" fill="#92c536"/>
<rect x="484.36" y="450.45" width="25.54" height="6.93" fill="#1cc67d"/>
<rect x="299.3" y="457.08" width="92.83" height="6.93" fill="#4a40e8"/>
<rect x="391.83" y="457.08" width="8.71" height="6.93" fill="#424eee"/>
<rect x="400.24" y="457.08" width="8.71" height="6.93" fill="#2866f6"/>
<rect x="408.66" y="457.08" width="8.71" height="6.93" fill="#0f93ec"/>
<rect x="417.07" y="457.08" width="8.71" height="6.93" fill="#0da0e4"/>
<rect x="425.48" y="457.08" width="8.71" height="6.93" fill="#12b4b9"/>
<rect x="433.89" y="457.08" width="8.71" height="6.93" fill="#1cc67d"/>
<rect x="442.3" y="457.08" width="17.12" height="6.93" fill="#16be9e"/>
<rect x="459.13" y="457.08" width="8.71" height="6.93" fill="#12b4b9"/>
<rect x="467.54" y="457.08" width="8.71" height="6.93" fill="#16be9e"/>
<rect x="475.95" y="457.08" width="8.71" height="6.93" fill="#1cc67d"/>
<rect x="484.36" y="457.08" width="8.71" height="6.93" fill="#64ca46"/>
<rect x="492.78" y="457.08" width="8.71" height="6.93" fill="#32ca64"/>
<rect x="501.19" y="457.08" width="8.71" height="6.93" fill="#1cc67d"/>
<rect x="299.3" y="463.71" width="92.83" height="6.93" fill="#4a40e8"/>
<rect x="391.83" y="463.71" width="8.71" height="6.93" fill="#424eee"/>
<rect x="400.24" y="463.71" width="8.71" height="6.93" fill="#1680f3"/>
<rect x="408.66" y="463.71" width="8.71" height="6.93" fill="#0f93ec"/>
<rect x="417.07" y="463.71" width="8.71" height="6.93" fill="#0da0e4"/>
<rect x="425.48" y="463.71" width="8.71" height="6.93" fill="#0eaad6"/>
<rect x="433.89" y="463.71" width="8.71" height="6.93" fill="#16be9e"/>
<rect x="442.3" y="463.71" width="8.71" height="6.93" fill="#12b4b9"/>
<rect x="450.72" y="463.71" width="8.71" height="6.93" fill="#0da0e4"/>
<rect x="459.13" y="463.71" width="8.71" height="6.93" fill="#12b4b9"/>
<rect x="467.54" y="463.71" width="8.71" height="6.93" fill="#16be9e"/>
<rect x="475.95" y="463.71" width="8.71" height="6.93" fill="#1cc67d"/>
<rect x="484.36" y="463.71" width="8.71" height="6.93" fill="#64ca46"/>
<rect x="492.78" y="463.71" width="17.12" height="6.93" fill="#1cc67d"/>
<rect x="299.3" y="470.34" width="92.83" height="6.93" fill="#4a40e8"/>
<rect x="391.83" y="470.34" width="8.71" height="6.93" fill="#424eee"/>
<rect x="400.24" y="470.34" width="8.71" height="6.93" fill="#1680f3"/>
<rect x="408.66" y="470.34" width="8.71" height="6.93" fill="#0f93ec"/>
<rect x="417.07" y="470.34" width="17.12" height="6.93" fill="#0da0e4"/>
<rect x="433.89" y="470.34" width="8.71" height="6.93" fill="#12b4b9"/>
<rect x="442.3" y="470.34" width="8.71" height="6.93" fill="#0eaad6"/>
<rect x="450.72" y="470.34" width="8.71" height="6.93" fill="#0da0e4"/>
<rect x="459.13" y="470.34" width="8.71" height="6.93" fill="#0eaad6"/>
<rect x="467.54" y="470.34" width="8.71" height="6.93" fill="#12b4b9"/>
<rect x="475.95" y="470.34" width="8.71" height="6.93" fill="#16be9e"/>
<rect x="484.36" y="470.34" width="25.54" height="6.93" fill="#1cc67d"/>
<rect x="299.3" y="476.97" width="92.83" height="6.93" fill="#4a40e8"/>
<rect x="391.83" y="476.97" width="8.71" height="6.93" fill="#424eee"/>
<rect x="400.24" y="476.97" width="8.71" height="6.93" fill="#1680f3"/>
<rect x="408.66" y="476.97" width="8.71" height="6.93" fill="#0f93ec"/>
<rect x="417.07" y="476.97" width="8.71" height="6.93" fill="#0da0e4"/>
<rect x="425.48" y="476.97" width="8.71" height="6.93" fill="#0eaad6"/>
<rect x="433.89" y="476.97" width="8.71" height="6.93" fill="#16be9e"/>
<rect x="442.3" y="476.97" width="8.71" height="6.93" fill="#0eaad6"/>
<rect x="450.72" y="476.97" width="8.71" height="6.93" fill="#0da0e4"/>
<rect x="459.13" y="476.97" width="17.12" height="6.93" fill="#0eaad6"/>
<rect x="475.95" y="476.97" width="8.71" height="6.93" fill="#12b4b9"/>
<rect x="484.36" y="476.97" width="17.12" height="6.93" fill="#16be9e"/>
<rect x="501.19" y="476.97" width="8.71" height="6.93" fill="#1cc67d"/>
<rect x="299.3" y="483.61" width="92.83" height="6.93" fill="#4a40e8"/>
<rect x="391.83" y="483.61" width="8.71" height="6.93" fill="#424eee"/>
<rect x="400.24" y="483.61" width="8.71" height="6.93" fill="#1680f3"/>
<rect x="408.66" y="483.61" width="8.71" height="6.93" fill="#0f93ec"/>
<rect x="417.07" y="483.61" width="8.71" height="6.93" fill="#0eaad6"/>
<rect x="425.48" y="483.61" width="8.71" height="6.93" fill="#16be9e"/>
<rect x="433.89" y="483.61" width="8.71" height="6.93" fill="#1cc67d"/>
<rect x="442.3" y="483.61" width="8.71" height="6.93" fill="#12b4b9"/>
<rect x="450.72" y="483.61" width="33.95" height="6.93" fill="#0eaad6"/>
<rect x="484.36" y="483.61" width="8.71" height="6.93" fill="#12b4b9"/>
<rect x="492.78" y="483.61" width="17.12" height="6.93" fill="#16be9e"/>
<rect x="299.3" y="490.24" width="92.83" height="6.93" fill="#4a40e8"/>
<rect x="391.83" y="490.24" width="8.71" height="6.93" fill="#424eee"/>
<rect x="400.24" y="490.24" width="8.71" height="6.93" fill="#1680f3"/>
<rect x="408.66" y="490.24" width="8.71" height="6.93" fill="#0f93ec"/>
<rect x="417.07" y="490.24" width="8.71" height="6.93" fill="#0eaad6"/>
<rect x="425.48" y="490.24" width="17.12" height="6.93" fill="#16be9e"/>
<rect x="442.3" y="490.24" width="8.71" height="6.93" fill="#12b4b9"/>
<rect x="450.72" y="490.24" width="33.95" height="6.93" fill="#0eaad6"/>
<rect x="484.36" y="490.24" width="25.54" height="6.93" fill="#12b4b9"/>
<rect x="299.3" y="496.87" width="92.83" height="6.93" fill="#4a40e8"/>
<rect x="391.83" y="496.87" width="8.71" height="6.93" fill="#424eee"/>
<rect x="400.24" y="496.87" width="8.71" height="6.93" fill="#1680f3"/>
<rect x="408.66" y="496.87" width="17.12" height="6.93" fill="#92c536"/>
<rect x="425.48" y="496.87" width="17.12" height="6.93" fill="#16be9e"/>
<rect x="442.3" y="496.87" width="8.71" height="6.93" fill="#0eaad6"/>
<rect x="450.72" y="496.87" width="33.95" height="6.93" fill="#0da0e4"/>
<rect x="484.36" y="496.87" width="25.54" height="6.93" fill="#0eaad6"/>
</g>
<defs><clipPath id="c5"><rect x="299.3" y="377.5" width="210.3" height="126"/></clipPath></defs>
<g clip-path="url(#c5)" fill="none">
<polyline points="417.8,377.5 419.9,379.6 423.1,380.6 426.9,380.3 431.1,381.7 436.7,383.1 440.9,383.8 445.1,384.6 450.7,385.5 456.3,385.2 461.9,383.8 470.3,384.5 476.0,384.8 481.6,383.8 488.6,381.7 492.8,379.6 496.3,377.5" stroke="#1c2a80" stroke-width="0.8" stroke-opacity="0.75"/>
<polyline points="307.0,377.5 310.5,379.6 316.1,380.6 321.0,381.4 324.5,381.7 328.7,382.4 335.8,382.4 340.0,381.7 345.6,383.1 351.2,383.1 355.4,380.3 359.6,378.6 361.7,377.5" stroke="#1c2a80" stroke-width="0.8" stroke-opacity="0.75"/>
<polyline points="299.3,384.9 303.5,384.8 306.3,384.2 310.5,384.8 314.7,384.9 318.9,384.6 320.3,383.8 321.0,381.4" stroke="#1c2a80" stroke-width="0.8" stroke-opacity="0.75"/>
<polyline points="321.7,381.7 321.0,384.5 323.1,386.2 325.9,387.3 332.9,387.9 327.3,388.7 320.3,389.4 318.9,392.2 321.7,392.9 314.7,393.3 306.3,393.2 304.2,392.2 304.9,390.8 302.1,391.5 299.3,392.9" stroke="#1c2a80" stroke-width="0.8" stroke-opacity="0.75"/>
<polyline points="299.3,437.0 301.0,436.3 299.3,438.8 302.1,439.8 306.3,439.8 310.5,440.1 307.7,441.2 304.9,443.3 300.7,444.7 299.3,445.0" stroke="#1c2a80" stroke-width="0.8" stroke-opacity="0.75"/>
<polyline points="299.3,445.4 304.9,444.0 307.7,444.4 310.1,442.6 313.3,443.3 317.5,445.0 321.7,445.4 325.9,450.9 329.4,451.7 334.1,451.7 336.5,450.3 340.0,451.7 342.3,446.1 344.2,442.2 348.4,442.6 354.0,443.7 362.4,446.9 366.6,450.7 373.6,454.2 380.6,453.1 384.8,452.0 388.7,450.0 394.6,446.1 399.3,443.3 403.0,444.0 407.3,445.4 409.8,446.7 412.9,446.1 415.7,443.7 419.9,441.9 420.9,446.1 417.1,448.9 415.7,450.3 417.8,453.4 415.7,456.6 415.4,461.2 417.3,463.5 417.8,466.0 416.8,469.9 417.8,473.4 416.2,476.3 413.6,479.0 413.4,480.8 411.5,483.9 409.6,488.7 407.3,492.7 405.9,495.1 405.4,497.6 404.3,499.0 403.3,502.1 403.0,503.5" stroke="#1c2a80" stroke-width="0.8" stroke-opacity="0.75"/>
<polyline points="366.2,467.8 368.3,472.0 373.6,473.4 377.0,473.1 380.6,472.7 385.2,469.9 389.7,467.8 390.4,465.7 395.3,461.5 398.7,458.8 393.2,461.5 389.0,463.2 383.4,463.6 380.9,463.7 375.7,463.0 373.6,466.1 369.4,466.0 366.2,467.8" stroke="#1c2a80" stroke-width="0.8" stroke-opacity="0.75"/>
<polyline points="304.2,450.3 309.1,448.2 309.8,451.7 306.3,455.9 302.1,453.1 304.2,450.3" stroke="#1c2a80" stroke-width="0.8" stroke-opacity="0.75"/>
<polyline points="299.3,389.0 313.3,388.7 327.3,389.0 340.0,388.7 349.8,387.6 359.6,385.6 370.8,383.9 382.0,382.8 391.8,382.1 400.2,382.1 408.7,383.8 424.1,387.9 443.7,394.6 461.9,401.3 477.4,406.9 484.4,410.1 488.6,411.8 497.8,418.9 509.6,425.1" stroke="#b4a8c4" stroke-width="0.85" stroke-dasharray="1.8 1.6" stroke-opacity="0.75"/>
<polyline points="488.6,411.8 478.8,414.6 471.7,417.0 457.7,422.3 442.3,430.0 432.5,434.9 426.9,439.1 424.1,444.7 422.7,450.3 422.7,461.5 422.7,470.6 418.5,479.7 415.0,489.5 412.2,499.3 411.5,503.5" stroke="#b4a8c4" stroke-width="0.85" stroke-dasharray="1.8 1.6" stroke-opacity="0.75"/>
<polyline points="299.3,413.2 303.5,419.5 307.7,426.5 311.2,434.9 314.7,443.3 318.9,450.3 324.5,457.3 331.5,462.2 338.6,465.8 350.6,471.9 360.0,475.1 374.4,478.0 389.0,476.5 397.9,471.4 403.0,467.1" stroke="#b4a8c4" stroke-width="0.85" stroke-dasharray="1.8 1.6" stroke-opacity="0.75"/>
<polyline points="299.3,472.7 310.5,465.7 324.5,458.0" stroke="#b4a8c4" stroke-width="0.85" stroke-dasharray="1.8 1.6" stroke-opacity="0.75"/>
</g>
<defs><linearGradient id="g5" x1="0" y1="1" x2="0" y2="0">
<stop offset="0" stop-color="#4623aa"/>
<stop offset="0.02" stop-color="#4a26b6"/>
<stop offset="0.03" stop-color="#4e29c2"/>
<stop offset="0.05" stop-color="#512cce"/>
<stop offset="0.06" stop-color="#5032d6"/>
<stop offset="0.08" stop-color="#4e38de"/>
<stop offset="0.09" stop-color="#4b3ee5"/>
<stop offset="0.11" stop-color="#4744ea"/>
<stop offset="0.12" stop-color="#424aed"/>
<stop offset="0.14" stop-color="#3d51f0"/>
<stop offset="0.16" stop-color="#3857f2"/>
<stop offset="0.17" stop-color="#325cf4"/>
<stop offset="0.19" stop-color="#2d62f5"/>
<stop offset="0.2" stop-color="#2767f6"/>
<stop offset="0.22" stop-color="#226cf7"/>
<stop offset="0.23" stop-color="#1d71f8"/>
<stop offset="0.25" stop-color="#1a77f6"/>
<stop offset="0.27" stop-color="#167cf4"/>
<stop offset="0.28" stop-color="#1381f2"/>
<stop offset="0.3" stop-color="#1086f0"/>
<stop offset="0.31" stop-color="#0e8aee"/>
<stop offset="0.33" stop-color="#0d8eec"/>
<stop offset="0.34" stop-color="#0c92eb"/>
<stop offset="0.36" stop-color="#0b96e9"/>
<stop offset="0.38" stop-color="#0a9ae7"/>
<stop offset="0.39" stop-color="#0b9ee1"/>
<stop offset="0.41" stop-color="#0ca2db"/>
<stop offset="0.42" stop-color="#0da7d4"/>
<stop offset="0.44" stop-color="#0eabcd"/>
<stop offset="0.45" stop-color="#0fafc7"/>
<stop offset="0.47" stop-color="#10b1c2"/>
<stop offset="0.48" stop-color="#11b3bd"/>
<stop offset="0.5" stop-color="#12b5b8"/>
<stop offset="0.52" stop-color="#13b7b3"/>
<stop offset="0.53" stop-color="#14b9ae"/>
<stop offset="0.55" stop-color="#14bca3"/>
<stop offset="0.56" stop-color="#14c098"/>
<stop offset="0.58" stop-color="#14c38d"/>
<stop offset="0.59" stop-color="#17c484"/>
<stop offset="0.61" stop-color="#1ac67a"/>
<stop offset="0.62" stop-color="#1dc871"/>
<stop offset="0.64" stop-color="#31c863"/>
<stop offset="0.66" stop-color="#4dc854"/>
<stop offset="0.67" stop-color="#69c844"/>
<stop offset="0.69" stop-color="#82c73a"/>
<stop offset="0.7" stop-color="#96c535"/>
<stop offset="0.72" stop-color="#aac231"/>
<stop offset="0.73" stop-color="#bec02c"/>
<stop offset="0.75" stop-color="#d2be28"/>
<stop offset="0.77" stop-color="#d9bb27"/>
<stop offset="0.78" stop-color="#e0b826"/>
<stop offset="0.8" stop-color="#e7b525"/>
<stop offset="0.81" stop-color="#edb224"/>
<stop offset="0.83" stop-color="#f4af23"/>
<stop offset="0.84" stop-color="#f6b422"/>
<stop offset="0.86" stop-color="#f7b921"/>
<stop offset="0.88" stop-color="#f8bf20"/>
<stop offset="0.89" stop-color="#f9c51f"/>
<stop offset="0.91" stop-color="#facb1d"/>
<stop offset="0.92" stop-color="#fad21c"/>
<stop offset="0.94" stop-color="#fad91a"/>
<stop offset="0.95" stop-color="#fae019"/>
<stop offset="0.97" stop-color="#fae717"/>
<stop offset="0.98" stop-color="#faee16"/>
<stop offset="1" stop-color="#faf514"/>
</linearGradient></defs>
<rect x="514.1" y="377.5" width="8.4" height="126" fill="url(#g5)"/>
<line x1="521.2" x2="522.5" y1="494.49" y2="494.49" stroke="#262626" stroke-width="0.5"/>
<text x="525.1" y="494.79" font-size="7" fill="#3a3a3a" dominant-baseline="central">0.1</text>
<line x1="521.2" x2="522.5" y1="475.31" y2="475.31" stroke="#262626" stroke-width="0.5"/>
<text x="525.1" y="475.61" font-size="7" fill="#3a3a3a" dominant-baseline="central">0.2</text>
<line x1="521.2" x2="522.5" y1="456.13" y2="456.13" stroke="#262626" stroke-width="0.5"/>
<text x="525.1" y="456.43" font-size="7" fill="#3a3a3a" dominant-baseline="central">0.3</text>
<line x1="521.2" x2="522.5" y1="436.95" y2="436.95" stroke="#262626" stroke-width="0.5"/>
<text x="525.1" y="437.25" font-size="7" fill="#3a3a3a" dominant-baseline="central">0.4</text>
<line x1="521.2" x2="522.5" y1="417.77" y2="417.77" stroke="#262626" stroke-width="0.5"/>
<text x="525.1" y="418.07" font-size="7" fill="#3a3a3a" dominant-baseline="central">0.5</text>
<line x1="521.2" x2="522.5" y1="398.6" y2="398.6" stroke="#262626" stroke-width="0.5"/>
<text x="525.1" y="398.9" font-size="7" fill="#3a3a3a" dominant-baseline="central">0.6</text>
<line x1="521.2" x2="522.5" y1="379.42" y2="379.42" stroke="#262626" stroke-width="0.5"/>
<text x="525.1" y="379.72" font-size="7" fill="#3a3a3a" dominant-baseline="central">0.7</text>
<text transform="translate(542.7 440.5) rotate(-90)" font-size="6.6" fill="#262626" text-anchor="middle">AOT</text>
<text x="404.45" y="374.5" font-size="8.8" font-weight="bold" text-anchor="middle" fill="#000">28-01-2023 17 UT</text>
<text x="306.31" y="513.3" font-size="8" fill="#303030" text-anchor="middle">28</text>
<text x="334.35" y="513.3" font-size="8" fill="#303030" text-anchor="middle">30</text>
<text x="362.39" y="513.3" font-size="8" fill="#303030" text-anchor="middle">32</text>
<text x="390.43" y="513.3" font-size="8" fill="#303030" text-anchor="middle">34</text>
<text x="418.47" y="513.3" font-size="8" fill="#303030" text-anchor="middle">36</text>
<text x="446.51" y="513.3" font-size="8" fill="#303030" text-anchor="middle">38</text>
<text x="474.55" y="513.3" font-size="8" fill="#303030" text-anchor="middle">40</text>
<text x="502.59" y="513.3" font-size="8" fill="#303030" text-anchor="middle">42</text>
<text x="404.45" y="524.4" font-size="8.7" fill="#202020" text-anchor="middle">longitude [degree]</text>
<text x="296.8" y="482.8" font-size="8" fill="#303030" text-anchor="end" dominant-baseline="central">34</text>
<text x="296.8" y="454.8" font-size="8" fill="#303030" text-anchor="end" dominant-baseline="central">36</text>
<text x="296.8" y="426.8" font-size="8" fill="#303030" text-anchor="end" dominant-baseline="central">38</text>
<text x="296.8" y="398.8" font-size="8" fill="#303030" text-anchor="end" dominant-baseline="central">40</text>
<text transform="translate(285.8 440.5) rotate(-90)" font-size="8.7" fill="#202020" text-anchor="middle">latitude [degree]</text>
</svg></body></html>
